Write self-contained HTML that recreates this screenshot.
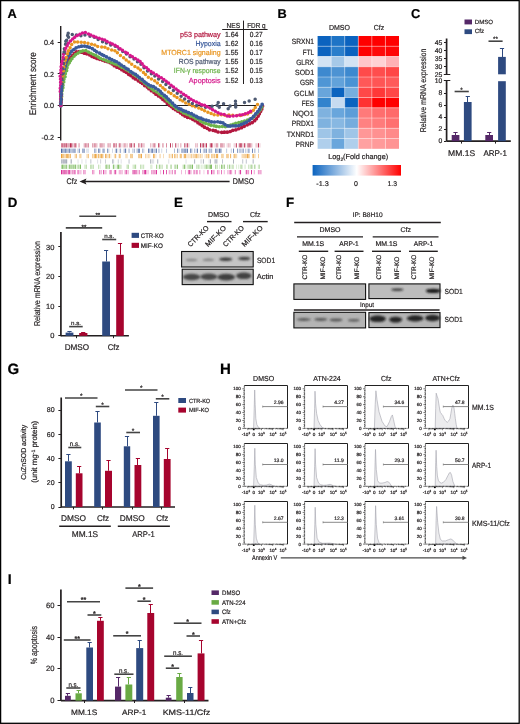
<!DOCTYPE html>
<html><head><meta charset="utf-8"><style>
html,body{margin:0;padding:0;background:#fff;}
body{width:520px;height:724px;overflow:hidden;}
svg{display:block;font-family:"Liberation Sans",sans-serif;will-change:transform;text-rendering:geometricPrecision;}
text{stroke-width:0.2px;}

</style></head><body>
<svg width="520" height="724" viewBox="0 0 520 724">
<rect x="0" y="0" width="520" height="724" fill="#fff"/>
<text x="7.5" y="17.8" font-size="12.8" fill="#000" stroke="#000" font-weight="bold">A</text>
<text x="277.6" y="17.5" font-size="12.8" fill="#000" stroke="#000" font-weight="bold">B</text>
<text x="410.9" y="17.9" font-size="12.8" fill="#000" stroke="#000" font-weight="bold">C</text>
<text x="7.7" y="207.3" font-size="13.3" fill="#000" stroke="#000" font-weight="bold">D</text>
<text x="173.9" y="207.3" font-size="13.3" fill="#000" stroke="#000" font-weight="bold">E</text>
<text x="285.9" y="207.3" font-size="13.3" fill="#000" stroke="#000" font-weight="bold">F</text>
<text x="7.6" y="374.3" font-size="15" fill="#000" stroke="#000" font-weight="bold">G</text>
<text x="220.1" y="374.3" font-size="15" fill="#000" stroke="#000" font-weight="bold">H</text>
<text x="7.8" y="584" font-size="14" fill="#000" stroke="#000" font-weight="bold">I</text>
<line x1="60.7" y1="26" x2="60.7" y2="140.5" stroke="#231f20" stroke-width="1.4"/>
<line x1="57.7" y1="42.5" x2="60.7" y2="42.5" stroke="#231f20" stroke-width="1"/>
<text x="54.1" y="44.9" font-size="7.4" text-anchor="end" fill="#231f20" stroke="#231f20" textLength="10" lengthAdjust="spacingAndGlyphs">0.4</text>
<line x1="57.7" y1="73.5" x2="60.7" y2="73.5" stroke="#231f20" stroke-width="1"/>
<text x="54.1" y="76.5" font-size="7.4" text-anchor="end" fill="#231f20" stroke="#231f20" textLength="10" lengthAdjust="spacingAndGlyphs">0.2</text>
<line x1="57.7" y1="105.5" x2="60.7" y2="105.5" stroke="#231f20" stroke-width="1"/>
<text x="54.1" y="108.1" font-size="7.4" text-anchor="end" fill="#231f20" stroke="#231f20" textLength="10" lengthAdjust="spacingAndGlyphs">0.0</text>
<line x1="57.7" y1="137.5" x2="60.7" y2="137.5" stroke="#231f20" stroke-width="1"/>
<text x="54.1" y="139.7" font-size="7.4" text-anchor="end" fill="#231f20" stroke="#231f20" textLength="12.5" lengthAdjust="spacingAndGlyphs">-0.2</text>
<text x="36" y="83.7" font-size="9.6" text-anchor="middle" fill="#231f20" stroke="#231f20" transform="rotate(-90 36 83.7)" textLength="63" lengthAdjust="spacingAndGlyphs">Enrichment score</text>
<line x1="60.7" y1="105.5" x2="256" y2="105.5" stroke="#231f20" stroke-width="1.2"/>
<path d="M58.74 105.29a1.85 1.85 0 1 0 3.7 0a1.85 1.85 0 1 0 -3.7 0M59.08 102.4a1.85 1.85 0 1 0 3.7 0a1.85 1.85 0 1 0 -3.7 0M59.16 99.37a1.85 1.85 0 1 0 3.7 0a1.85 1.85 0 1 0 -3.7 0M59 96.78a1.85 1.85 0 1 0 3.7 0a1.85 1.85 0 1 0 -3.7 0M59.13 94.03a1.85 1.85 0 1 0 3.7 0a1.85 1.85 0 1 0 -3.7 0M59.34 90.49a1.85 1.85 0 1 0 3.7 0a1.85 1.85 0 1 0 -3.7 0M59.72 88.11a1.85 1.85 0 1 0 3.7 0a1.85 1.85 0 1 0 -3.7 0M59.65 85.1a1.85 1.85 0 1 0 3.7 0a1.85 1.85 0 1 0 -3.7 0M60.12 82.35a1.85 1.85 0 1 0 3.7 0a1.85 1.85 0 1 0 -3.7 0M60.44 78.82a1.85 1.85 0 1 0 3.7 0a1.85 1.85 0 1 0 -3.7 0M61.19 75.94a1.85 1.85 0 1 0 3.7 0a1.85 1.85 0 1 0 -3.7 0M61.87 73.19a1.85 1.85 0 1 0 3.7 0a1.85 1.85 0 1 0 -3.7 0M62.37 70.07a1.85 1.85 0 1 0 3.7 0a1.85 1.85 0 1 0 -3.7 0M63.49 67.56a1.85 1.85 0 1 0 3.7 0a1.85 1.85 0 1 0 -3.7 0M64.43 64.76a1.85 1.85 0 1 0 3.7 0a1.85 1.85 0 1 0 -3.7 0M65.89 61.95a1.85 1.85 0 1 0 3.7 0a1.85 1.85 0 1 0 -3.7 0M67.16 59.41a1.85 1.85 0 1 0 3.7 0a1.85 1.85 0 1 0 -3.7 0M68.45 57.41a1.85 1.85 0 1 0 3.7 0a1.85 1.85 0 1 0 -3.7 0M70.59 55.57a1.85 1.85 0 1 0 3.7 0a1.85 1.85 0 1 0 -3.7 0M72.37 53.66a1.85 1.85 0 1 0 3.7 0a1.85 1.85 0 1 0 -3.7 0M74.54 51.91a1.85 1.85 0 1 0 3.7 0a1.85 1.85 0 1 0 -3.7 0M77.38 51.48a1.85 1.85 0 1 0 3.7 0a1.85 1.85 0 1 0 -3.7 0M79.66 52.12a1.85 1.85 0 1 0 3.7 0a1.85 1.85 0 1 0 -3.7 0M82.43 53.2a1.85 1.85 0 1 0 3.7 0a1.85 1.85 0 1 0 -3.7 0M85.1 53.86a1.85 1.85 0 1 0 3.7 0a1.85 1.85 0 1 0 -3.7 0M87.95 54.9a1.85 1.85 0 1 0 3.7 0a1.85 1.85 0 1 0 -3.7 0M90.21 56.42a1.85 1.85 0 1 0 3.7 0a1.85 1.85 0 1 0 -3.7 0M92.48 57.3a1.85 1.85 0 1 0 3.7 0a1.85 1.85 0 1 0 -3.7 0M95.05 58.45a1.85 1.85 0 1 0 3.7 0a1.85 1.85 0 1 0 -3.7 0M98.04 59.32a1.85 1.85 0 1 0 3.7 0a1.85 1.85 0 1 0 -3.7 0M100.66 60.05a1.85 1.85 0 1 0 3.7 0a1.85 1.85 0 1 0 -3.7 0M103.14 61.07a1.85 1.85 0 1 0 3.7 0a1.85 1.85 0 1 0 -3.7 0M105.73 61.63a1.85 1.85 0 1 0 3.7 0a1.85 1.85 0 1 0 -3.7 0M108.35 62.77a1.85 1.85 0 1 0 3.7 0a1.85 1.85 0 1 0 -3.7 0M110.42 64a1.85 1.85 0 1 0 3.7 0a1.85 1.85 0 1 0 -3.7 0M112.44 65.67a1.85 1.85 0 1 0 3.7 0a1.85 1.85 0 1 0 -3.7 0M115.06 67.23a1.85 1.85 0 1 0 3.7 0a1.85 1.85 0 1 0 -3.7 0M117.64 68.06a1.85 1.85 0 1 0 3.7 0a1.85 1.85 0 1 0 -3.7 0M119.94 69.72a1.85 1.85 0 1 0 3.7 0a1.85 1.85 0 1 0 -3.7 0M122.17 71.11a1.85 1.85 0 1 0 3.7 0a1.85 1.85 0 1 0 -3.7 0M124.45 72.32a1.85 1.85 0 1 0 3.7 0a1.85 1.85 0 1 0 -3.7 0M126.81 74.3a1.85 1.85 0 1 0 3.7 0a1.85 1.85 0 1 0 -3.7 0M129.05 75.54a1.85 1.85 0 1 0 3.7 0a1.85 1.85 0 1 0 -3.7 0M131.44 77.63a1.85 1.85 0 1 0 3.7 0a1.85 1.85 0 1 0 -3.7 0M133.55 78.93a1.85 1.85 0 1 0 3.7 0a1.85 1.85 0 1 0 -3.7 0M136.42 80.84a1.85 1.85 0 1 0 3.7 0a1.85 1.85 0 1 0 -3.7 0M138.77 82.24a1.85 1.85 0 1 0 3.7 0a1.85 1.85 0 1 0 -3.7 0M140.62 83.48a1.85 1.85 0 1 0 3.7 0a1.85 1.85 0 1 0 -3.7 0M142.83 85.61a1.85 1.85 0 1 0 3.7 0a1.85 1.85 0 1 0 -3.7 0M145.42 87.09a1.85 1.85 0 1 0 3.7 0a1.85 1.85 0 1 0 -3.7 0M147.02 88.72a1.85 1.85 0 1 0 3.7 0a1.85 1.85 0 1 0 -3.7 0M149.52 90.72a1.85 1.85 0 1 0 3.7 0a1.85 1.85 0 1 0 -3.7 0M152.24 92.45a1.85 1.85 0 1 0 3.7 0a1.85 1.85 0 1 0 -3.7 0M154.05 94.15a1.85 1.85 0 1 0 3.7 0a1.85 1.85 0 1 0 -3.7 0M156.62 95.95a1.85 1.85 0 1 0 3.7 0a1.85 1.85 0 1 0 -3.7 0M159.16 97.62a1.85 1.85 0 1 0 3.7 0a1.85 1.85 0 1 0 -3.7 0M161.08 99.38a1.85 1.85 0 1 0 3.7 0a1.85 1.85 0 1 0 -3.7 0M163.14 101a1.85 1.85 0 1 0 3.7 0a1.85 1.85 0 1 0 -3.7 0M165.36 103.33a1.85 1.85 0 1 0 3.7 0a1.85 1.85 0 1 0 -3.7 0M167.62 105.21a1.85 1.85 0 1 0 3.7 0a1.85 1.85 0 1 0 -3.7 0M169.4 106.6a1.85 1.85 0 1 0 3.7 0a1.85 1.85 0 1 0 -3.7 0M171.51 108.43a1.85 1.85 0 1 0 3.7 0a1.85 1.85 0 1 0 -3.7 0M173.76 109.69a1.85 1.85 0 1 0 3.7 0a1.85 1.85 0 1 0 -3.7 0M176 111.22a1.85 1.85 0 1 0 3.7 0a1.85 1.85 0 1 0 -3.7 0M178.49 112.85a1.85 1.85 0 1 0 3.7 0a1.85 1.85 0 1 0 -3.7 0M180.78 114.59a1.85 1.85 0 1 0 3.7 0a1.85 1.85 0 1 0 -3.7 0M183.13 116.03a1.85 1.85 0 1 0 3.7 0a1.85 1.85 0 1 0 -3.7 0M185.64 117.3a1.85 1.85 0 1 0 3.7 0a1.85 1.85 0 1 0 -3.7 0M188.62 117.89a1.85 1.85 0 1 0 3.7 0a1.85 1.85 0 1 0 -3.7 0M190.91 119.36a1.85 1.85 0 1 0 3.7 0a1.85 1.85 0 1 0 -3.7 0M193.37 120.64a1.85 1.85 0 1 0 3.7 0a1.85 1.85 0 1 0 -3.7 0M196.09 122.67a1.85 1.85 0 1 0 3.7 0a1.85 1.85 0 1 0 -3.7 0M198.11 124a1.85 1.85 0 1 0 3.7 0a1.85 1.85 0 1 0 -3.7 0M200.34 125.61a1.85 1.85 0 1 0 3.7 0a1.85 1.85 0 1 0 -3.7 0M202.67 127.15a1.85 1.85 0 1 0 3.7 0a1.85 1.85 0 1 0 -3.7 0M205.39 128.33a1.85 1.85 0 1 0 3.7 0a1.85 1.85 0 1 0 -3.7 0M207.69 129.84a1.85 1.85 0 1 0 3.7 0a1.85 1.85 0 1 0 -3.7 0M211.17 130.33a1.85 1.85 0 1 0 3.7 0a1.85 1.85 0 1 0 -3.7 0M213.71 130.9a1.85 1.85 0 1 0 3.7 0a1.85 1.85 0 1 0 -3.7 0M216.27 132.01a1.85 1.85 0 1 0 3.7 0a1.85 1.85 0 1 0 -3.7 0M219.82 132.3a1.85 1.85 0 1 0 3.7 0a1.85 1.85 0 1 0 -3.7 0M222.55 132.21a1.85 1.85 0 1 0 3.7 0a1.85 1.85 0 1 0 -3.7 0M225.38 132.13a1.85 1.85 0 1 0 3.7 0a1.85 1.85 0 1 0 -3.7 0M228.38 131.5a1.85 1.85 0 1 0 3.7 0a1.85 1.85 0 1 0 -3.7 0M230.98 130.31a1.85 1.85 0 1 0 3.7 0a1.85 1.85 0 1 0 -3.7 0M233.98 129.81a1.85 1.85 0 1 0 3.7 0a1.85 1.85 0 1 0 -3.7 0M236.76 128.75a1.85 1.85 0 1 0 3.7 0a1.85 1.85 0 1 0 -3.7 0M239.69 127.65a1.85 1.85 0 1 0 3.7 0a1.85 1.85 0 1 0 -3.7 0M242.37 126.35a1.85 1.85 0 1 0 3.7 0a1.85 1.85 0 1 0 -3.7 0M245.35 124.83a1.85 1.85 0 1 0 3.7 0a1.85 1.85 0 1 0 -3.7 0M247.75 123.75a1.85 1.85 0 1 0 3.7 0a1.85 1.85 0 1 0 -3.7 0M250.4 122.54a1.85 1.85 0 1 0 3.7 0a1.85 1.85 0 1 0 -3.7 0M252.8 120.69a1.85 1.85 0 1 0 3.7 0a1.85 1.85 0 1 0 -3.7 0M254.55 118.74a1.85 1.85 0 1 0 3.7 0a1.85 1.85 0 1 0 -3.7 0M256.33 116.07a1.85 1.85 0 1 0 3.7 0a1.85 1.85 0 1 0 -3.7 0M257.5 113.68a1.85 1.85 0 1 0 3.7 0a1.85 1.85 0 1 0 -3.7 0M258.77 111.32a1.85 1.85 0 1 0 3.7 0a1.85 1.85 0 1 0 -3.7 0M259.94 109.07a1.85 1.85 0 1 0 3.7 0a1.85 1.85 0 1 0 -3.7 0M260.71 106.06a1.85 1.85 0 1 0 3.7 0a1.85 1.85 0 1 0 -3.7 0" fill="#b3173f"/>
<path d="M58.99 105.68a1.8 1.8 0 1 0 3.6 0a1.8 1.8 0 1 0 -3.6 0M58.91 102.55a1.8 1.8 0 1 0 3.6 0a1.8 1.8 0 1 0 -3.6 0M59.64 99.79a1.8 1.8 0 1 0 3.6 0a1.8 1.8 0 1 0 -3.6 0M59.83 96.5a1.8 1.8 0 1 0 3.6 0a1.8 1.8 0 1 0 -3.6 0M59.82 93.6a1.8 1.8 0 1 0 3.6 0a1.8 1.8 0 1 0 -3.6 0M60.29 90.8a1.8 1.8 0 1 0 3.6 0a1.8 1.8 0 1 0 -3.6 0M61.1 87.77a1.8 1.8 0 1 0 3.6 0a1.8 1.8 0 1 0 -3.6 0M61.23 85.29a1.8 1.8 0 1 0 3.6 0a1.8 1.8 0 1 0 -3.6 0M61.94 82a1.8 1.8 0 1 0 3.6 0a1.8 1.8 0 1 0 -3.6 0M62.16 79.18a1.8 1.8 0 1 0 3.6 0a1.8 1.8 0 1 0 -3.6 0M63.27 76.76a1.8 1.8 0 1 0 3.6 0a1.8 1.8 0 1 0 -3.6 0M63.53 73.82a1.8 1.8 0 1 0 3.6 0a1.8 1.8 0 1 0 -3.6 0M64.81 70.75a1.8 1.8 0 1 0 3.6 0a1.8 1.8 0 1 0 -3.6 0M65.24 67.86a1.8 1.8 0 1 0 3.6 0a1.8 1.8 0 1 0 -3.6 0M65.95 65.01a1.8 1.8 0 1 0 3.6 0a1.8 1.8 0 1 0 -3.6 0M67.52 62.86a1.8 1.8 0 1 0 3.6 0a1.8 1.8 0 1 0 -3.6 0M68.57 60.76a1.8 1.8 0 1 0 3.6 0a1.8 1.8 0 1 0 -3.6 0M70.15 58.65a1.8 1.8 0 1 0 3.6 0a1.8 1.8 0 1 0 -3.6 0M72.2 56.29a1.8 1.8 0 1 0 3.6 0a1.8 1.8 0 1 0 -3.6 0M73.88 54.59a1.8 1.8 0 1 0 3.6 0a1.8 1.8 0 1 0 -3.6 0M76.26 53.11a1.8 1.8 0 1 0 3.6 0a1.8 1.8 0 1 0 -3.6 0M78.57 51.65a1.8 1.8 0 1 0 3.6 0a1.8 1.8 0 1 0 -3.6 0M81.05 50.84a1.8 1.8 0 1 0 3.6 0a1.8 1.8 0 1 0 -3.6 0M84 50.57a1.8 1.8 0 1 0 3.6 0a1.8 1.8 0 1 0 -3.6 0M86.64 51.94a1.8 1.8 0 1 0 3.6 0a1.8 1.8 0 1 0 -3.6 0M89.17 53.32a1.8 1.8 0 1 0 3.6 0a1.8 1.8 0 1 0 -3.6 0M91.58 54.45a1.8 1.8 0 1 0 3.6 0a1.8 1.8 0 1 0 -3.6 0M94.11 55.64a1.8 1.8 0 1 0 3.6 0a1.8 1.8 0 1 0 -3.6 0M96.56 57.11a1.8 1.8 0 1 0 3.6 0a1.8 1.8 0 1 0 -3.6 0M98.7 58.61a1.8 1.8 0 1 0 3.6 0a1.8 1.8 0 1 0 -3.6 0M101.59 59.61a1.8 1.8 0 1 0 3.6 0a1.8 1.8 0 1 0 -3.6 0M104.41 60.66a1.8 1.8 0 1 0 3.6 0a1.8 1.8 0 1 0 -3.6 0M106.82 61.64a1.8 1.8 0 1 0 3.6 0a1.8 1.8 0 1 0 -3.6 0M109.73 62.75a1.8 1.8 0 1 0 3.6 0a1.8 1.8 0 1 0 -3.6 0M112.27 63.65a1.8 1.8 0 1 0 3.6 0a1.8 1.8 0 1 0 -3.6 0M115.16 64.72a1.8 1.8 0 1 0 3.6 0a1.8 1.8 0 1 0 -3.6 0M117.89 66.06a1.8 1.8 0 1 0 3.6 0a1.8 1.8 0 1 0 -3.6 0M120.15 67.48a1.8 1.8 0 1 0 3.6 0a1.8 1.8 0 1 0 -3.6 0M123.03 68.74a1.8 1.8 0 1 0 3.6 0a1.8 1.8 0 1 0 -3.6 0M125.18 70.04a1.8 1.8 0 1 0 3.6 0a1.8 1.8 0 1 0 -3.6 0M127.53 71.48a1.8 1.8 0 1 0 3.6 0a1.8 1.8 0 1 0 -3.6 0M129.83 72.8a1.8 1.8 0 1 0 3.6 0a1.8 1.8 0 1 0 -3.6 0M132.2 74.63a1.8 1.8 0 1 0 3.6 0a1.8 1.8 0 1 0 -3.6 0M134.64 76.29a1.8 1.8 0 1 0 3.6 0a1.8 1.8 0 1 0 -3.6 0M136.89 77.56a1.8 1.8 0 1 0 3.6 0a1.8 1.8 0 1 0 -3.6 0M138.96 79.88a1.8 1.8 0 1 0 3.6 0a1.8 1.8 0 1 0 -3.6 0M141.15 81.16a1.8 1.8 0 1 0 3.6 0a1.8 1.8 0 1 0 -3.6 0M142.82 83.17a1.8 1.8 0 1 0 3.6 0a1.8 1.8 0 1 0 -3.6 0M144.94 84.84a1.8 1.8 0 1 0 3.6 0a1.8 1.8 0 1 0 -3.6 0M147.25 86.93a1.8 1.8 0 1 0 3.6 0a1.8 1.8 0 1 0 -3.6 0M150.12 88.96a1.8 1.8 0 1 0 3.6 0a1.8 1.8 0 1 0 -3.6 0M152.11 90.63a1.8 1.8 0 1 0 3.6 0a1.8 1.8 0 1 0 -3.6 0M154.86 92.04a1.8 1.8 0 1 0 3.6 0a1.8 1.8 0 1 0 -3.6 0M157.43 93.93a1.8 1.8 0 1 0 3.6 0a1.8 1.8 0 1 0 -3.6 0M159.44 95.32a1.8 1.8 0 1 0 3.6 0a1.8 1.8 0 1 0 -3.6 0M161.68 96.88a1.8 1.8 0 1 0 3.6 0a1.8 1.8 0 1 0 -3.6 0M163.93 99.02a1.8 1.8 0 1 0 3.6 0a1.8 1.8 0 1 0 -3.6 0M165.43 100.84a1.8 1.8 0 1 0 3.6 0a1.8 1.8 0 1 0 -3.6 0M167.79 102.82a1.8 1.8 0 1 0 3.6 0a1.8 1.8 0 1 0 -3.6 0M169.82 104.92a1.8 1.8 0 1 0 3.6 0a1.8 1.8 0 1 0 -3.6 0M172.13 106.51a1.8 1.8 0 1 0 3.6 0a1.8 1.8 0 1 0 -3.6 0M174.25 108.44a1.8 1.8 0 1 0 3.6 0a1.8 1.8 0 1 0 -3.6 0M176.49 109.93a1.8 1.8 0 1 0 3.6 0a1.8 1.8 0 1 0 -3.6 0M179.71 111.49a1.8 1.8 0 1 0 3.6 0a1.8 1.8 0 1 0 -3.6 0M181.77 112.9a1.8 1.8 0 1 0 3.6 0a1.8 1.8 0 1 0 -3.6 0M184.61 114.02a1.8 1.8 0 1 0 3.6 0a1.8 1.8 0 1 0 -3.6 0M186.55 114.75a1.8 1.8 0 1 0 3.6 0a1.8 1.8 0 1 0 -3.6 0M188.93 116.27a1.8 1.8 0 1 0 3.6 0a1.8 1.8 0 1 0 -3.6 0M191.54 117.12a1.8 1.8 0 1 0 3.6 0a1.8 1.8 0 1 0 -3.6 0M194.04 118.79a1.8 1.8 0 1 0 3.6 0a1.8 1.8 0 1 0 -3.6 0M197.02 119.77a1.8 1.8 0 1 0 3.6 0a1.8 1.8 0 1 0 -3.6 0M199.18 121.5a1.8 1.8 0 1 0 3.6 0a1.8 1.8 0 1 0 -3.6 0M201.8 122.73a1.8 1.8 0 1 0 3.6 0a1.8 1.8 0 1 0 -3.6 0M203.99 123.38a1.8 1.8 0 1 0 3.6 0a1.8 1.8 0 1 0 -3.6 0M207.01 124.39a1.8 1.8 0 1 0 3.6 0a1.8 1.8 0 1 0 -3.6 0M209.21 125.35a1.8 1.8 0 1 0 3.6 0a1.8 1.8 0 1 0 -3.6 0M212.26 125.86a1.8 1.8 0 1 0 3.6 0a1.8 1.8 0 1 0 -3.6 0M214.58 126.39a1.8 1.8 0 1 0 3.6 0a1.8 1.8 0 1 0 -3.6 0M217.47 126.77a1.8 1.8 0 1 0 3.6 0a1.8 1.8 0 1 0 -3.6 0M220.55 126.56a1.8 1.8 0 1 0 3.6 0a1.8 1.8 0 1 0 -3.6 0M223.59 126.69a1.8 1.8 0 1 0 3.6 0a1.8 1.8 0 1 0 -3.6 0M226.06 125.78a1.8 1.8 0 1 0 3.6 0a1.8 1.8 0 1 0 -3.6 0M228.95 125.17a1.8 1.8 0 1 0 3.6 0a1.8 1.8 0 1 0 -3.6 0M231.46 124.22a1.8 1.8 0 1 0 3.6 0a1.8 1.8 0 1 0 -3.6 0M233.95 123.38a1.8 1.8 0 1 0 3.6 0a1.8 1.8 0 1 0 -3.6 0M237.02 122.52a1.8 1.8 0 1 0 3.6 0a1.8 1.8 0 1 0 -3.6 0M240.04 121.79a1.8 1.8 0 1 0 3.6 0a1.8 1.8 0 1 0 -3.6 0M242.83 120.96a1.8 1.8 0 1 0 3.6 0a1.8 1.8 0 1 0 -3.6 0M245.67 119.98a1.8 1.8 0 1 0 3.6 0a1.8 1.8 0 1 0 -3.6 0M248.33 118.87a1.8 1.8 0 1 0 3.6 0a1.8 1.8 0 1 0 -3.6 0M250.99 117.76a1.8 1.8 0 1 0 3.6 0a1.8 1.8 0 1 0 -3.6 0M252.89 115.81a1.8 1.8 0 1 0 3.6 0a1.8 1.8 0 1 0 -3.6 0M255.4 113.45a1.8 1.8 0 1 0 3.6 0a1.8 1.8 0 1 0 -3.6 0M257.14 111.53a1.8 1.8 0 1 0 3.6 0a1.8 1.8 0 1 0 -3.6 0M258.72 109.55a1.8 1.8 0 1 0 3.6 0a1.8 1.8 0 1 0 -3.6 0M260.06 107a1.8 1.8 0 1 0 3.6 0a1.8 1.8 0 1 0 -3.6 0" fill="#6db34b"/>
<path d="M58.96 105.79a1.85 1.85 0 1 0 3.7 0a1.85 1.85 0 1 0 -3.7 0M58.84 102.42a1.85 1.85 0 1 0 3.7 0a1.85 1.85 0 1 0 -3.7 0M59.14 98.84a1.85 1.85 0 1 0 3.7 0a1.85 1.85 0 1 0 -3.7 0M59.05 94.73a1.85 1.85 0 1 0 3.7 0a1.85 1.85 0 1 0 -3.7 0M58.92 91.88a1.85 1.85 0 1 0 3.7 0a1.85 1.85 0 1 0 -3.7 0M59.02 89.57a1.85 1.85 0 1 0 3.7 0a1.85 1.85 0 1 0 -3.7 0M59.29 85.52a1.85 1.85 0 1 0 3.7 0a1.85 1.85 0 1 0 -3.7 0M59.4 82.9a1.85 1.85 0 1 0 3.7 0a1.85 1.85 0 1 0 -3.7 0M60.22 79.8a1.85 1.85 0 1 0 3.7 0a1.85 1.85 0 1 0 -3.7 0M60.39 76.67a1.85 1.85 0 1 0 3.7 0a1.85 1.85 0 1 0 -3.7 0M61.14 73.87a1.85 1.85 0 1 0 3.7 0a1.85 1.85 0 1 0 -3.7 0M61.74 71.17a1.85 1.85 0 1 0 3.7 0a1.85 1.85 0 1 0 -3.7 0M62.42 68.9a1.85 1.85 0 1 0 3.7 0a1.85 1.85 0 1 0 -3.7 0M63.51 65.9a1.85 1.85 0 1 0 3.7 0a1.85 1.85 0 1 0 -3.7 0M63.78 63.42a1.85 1.85 0 1 0 3.7 0a1.85 1.85 0 1 0 -3.7 0M64.53 60.53a1.85 1.85 0 1 0 3.7 0a1.85 1.85 0 1 0 -3.7 0M65.22 57.98a1.85 1.85 0 1 0 3.7 0a1.85 1.85 0 1 0 -3.7 0M66.67 55.6a1.85 1.85 0 1 0 3.7 0a1.85 1.85 0 1 0 -3.7 0M68.09 53.41a1.85 1.85 0 1 0 3.7 0a1.85 1.85 0 1 0 -3.7 0M69.82 51.18a1.85 1.85 0 1 0 3.7 0a1.85 1.85 0 1 0 -3.7 0M71.95 49.49a1.85 1.85 0 1 0 3.7 0a1.85 1.85 0 1 0 -3.7 0M74.24 47.79a1.85 1.85 0 1 0 3.7 0a1.85 1.85 0 1 0 -3.7 0M76.99 46.74a1.85 1.85 0 1 0 3.7 0a1.85 1.85 0 1 0 -3.7 0M79.77 46.2a1.85 1.85 0 1 0 3.7 0a1.85 1.85 0 1 0 -3.7 0M82.69 46.03a1.85 1.85 0 1 0 3.7 0a1.85 1.85 0 1 0 -3.7 0M85.4 46.62a1.85 1.85 0 1 0 3.7 0a1.85 1.85 0 1 0 -3.7 0M87.6 47.32a1.85 1.85 0 1 0 3.7 0a1.85 1.85 0 1 0 -3.7 0M90.47 48.6a1.85 1.85 0 1 0 3.7 0a1.85 1.85 0 1 0 -3.7 0M92.78 50.27a1.85 1.85 0 1 0 3.7 0a1.85 1.85 0 1 0 -3.7 0M94.79 51.79a1.85 1.85 0 1 0 3.7 0a1.85 1.85 0 1 0 -3.7 0M97.71 53.1a1.85 1.85 0 1 0 3.7 0a1.85 1.85 0 1 0 -3.7 0M100.01 54.53a1.85 1.85 0 1 0 3.7 0a1.85 1.85 0 1 0 -3.7 0M102 55.55a1.85 1.85 0 1 0 3.7 0a1.85 1.85 0 1 0 -3.7 0M104.65 56.94a1.85 1.85 0 1 0 3.7 0a1.85 1.85 0 1 0 -3.7 0M107.53 58.31a1.85 1.85 0 1 0 3.7 0a1.85 1.85 0 1 0 -3.7 0M109.98 59.65a1.85 1.85 0 1 0 3.7 0a1.85 1.85 0 1 0 -3.7 0M112.56 60.82a1.85 1.85 0 1 0 3.7 0a1.85 1.85 0 1 0 -3.7 0M114.77 61.74a1.85 1.85 0 1 0 3.7 0a1.85 1.85 0 1 0 -3.7 0M117.18 63.3a1.85 1.85 0 1 0 3.7 0a1.85 1.85 0 1 0 -3.7 0M119.41 65a1.85 1.85 0 1 0 3.7 0a1.85 1.85 0 1 0 -3.7 0M122.04 66.58a1.85 1.85 0 1 0 3.7 0a1.85 1.85 0 1 0 -3.7 0M124.23 68.26a1.85 1.85 0 1 0 3.7 0a1.85 1.85 0 1 0 -3.7 0M126.29 69.45a1.85 1.85 0 1 0 3.7 0a1.85 1.85 0 1 0 -3.7 0M128.91 71.55a1.85 1.85 0 1 0 3.7 0a1.85 1.85 0 1 0 -3.7 0M131.14 72.99a1.85 1.85 0 1 0 3.7 0a1.85 1.85 0 1 0 -3.7 0M133.65 74.34a1.85 1.85 0 1 0 3.7 0a1.85 1.85 0 1 0 -3.7 0M135.8 75.99a1.85 1.85 0 1 0 3.7 0a1.85 1.85 0 1 0 -3.7 0M137.52 77.59a1.85 1.85 0 1 0 3.7 0a1.85 1.85 0 1 0 -3.7 0M140.27 79.38a1.85 1.85 0 1 0 3.7 0a1.85 1.85 0 1 0 -3.7 0M142.31 81.53a1.85 1.85 0 1 0 3.7 0a1.85 1.85 0 1 0 -3.7 0M144.29 83.01a1.85 1.85 0 1 0 3.7 0a1.85 1.85 0 1 0 -3.7 0M146.49 84.72a1.85 1.85 0 1 0 3.7 0a1.85 1.85 0 1 0 -3.7 0M149.05 85.88a1.85 1.85 0 1 0 3.7 0a1.85 1.85 0 1 0 -3.7 0M151.57 86.71a1.85 1.85 0 1 0 3.7 0a1.85 1.85 0 1 0 -3.7 0M153.76 88.11a1.85 1.85 0 1 0 3.7 0a1.85 1.85 0 1 0 -3.7 0M156.34 89.73a1.85 1.85 0 1 0 3.7 0a1.85 1.85 0 1 0 -3.7 0M158.35 91.35a1.85 1.85 0 1 0 3.7 0a1.85 1.85 0 1 0 -3.7 0M159.99 93.27a1.85 1.85 0 1 0 3.7 0a1.85 1.85 0 1 0 -3.7 0M162.53 95.44a1.85 1.85 0 1 0 3.7 0a1.85 1.85 0 1 0 -3.7 0M164.48 96.97a1.85 1.85 0 1 0 3.7 0a1.85 1.85 0 1 0 -3.7 0M166.44 99.05a1.85 1.85 0 1 0 3.7 0a1.85 1.85 0 1 0 -3.7 0M168.33 100.84a1.85 1.85 0 1 0 3.7 0a1.85 1.85 0 1 0 -3.7 0M170.63 103a1.85 1.85 0 1 0 3.7 0a1.85 1.85 0 1 0 -3.7 0M172.64 105.26a1.85 1.85 0 1 0 3.7 0a1.85 1.85 0 1 0 -3.7 0M174.33 106.7a1.85 1.85 0 1 0 3.7 0a1.85 1.85 0 1 0 -3.7 0M177.05 108.38a1.85 1.85 0 1 0 3.7 0a1.85 1.85 0 1 0 -3.7 0M179.21 109.2a1.85 1.85 0 1 0 3.7 0a1.85 1.85 0 1 0 -3.7 0M181.48 110.66a1.85 1.85 0 1 0 3.7 0a1.85 1.85 0 1 0 -3.7 0M184 111.48a1.85 1.85 0 1 0 3.7 0a1.85 1.85 0 1 0 -3.7 0M186.67 112.66a1.85 1.85 0 1 0 3.7 0a1.85 1.85 0 1 0 -3.7 0M189.58 113.66a1.85 1.85 0 1 0 3.7 0a1.85 1.85 0 1 0 -3.7 0M191.89 115.11a1.85 1.85 0 1 0 3.7 0a1.85 1.85 0 1 0 -3.7 0M194.53 116.45a1.85 1.85 0 1 0 3.7 0a1.85 1.85 0 1 0 -3.7 0M196.51 117.64a1.85 1.85 0 1 0 3.7 0a1.85 1.85 0 1 0 -3.7 0M199.1 118.14a1.85 1.85 0 1 0 3.7 0a1.85 1.85 0 1 0 -3.7 0M201.26 119.34a1.85 1.85 0 1 0 3.7 0a1.85 1.85 0 1 0 -3.7 0M204.29 120.14a1.85 1.85 0 1 0 3.7 0a1.85 1.85 0 1 0 -3.7 0M206.93 120.95a1.85 1.85 0 1 0 3.7 0a1.85 1.85 0 1 0 -3.7 0M209.71 121.78a1.85 1.85 0 1 0 3.7 0a1.85 1.85 0 1 0 -3.7 0M212.63 122a1.85 1.85 0 1 0 3.7 0a1.85 1.85 0 1 0 -3.7 0M215.87 121.75a1.85 1.85 0 1 0 3.7 0a1.85 1.85 0 1 0 -3.7 0M218.52 122.35a1.85 1.85 0 1 0 3.7 0a1.85 1.85 0 1 0 -3.7 0M221.05 122.81a1.85 1.85 0 1 0 3.7 0a1.85 1.85 0 1 0 -3.7 0M223.14 124.58a1.85 1.85 0 1 0 3.7 0a1.85 1.85 0 1 0 -3.7 0M225.99 125.91a1.85 1.85 0 1 0 3.7 0a1.85 1.85 0 1 0 -3.7 0M228.29 126.04a1.85 1.85 0 1 0 3.7 0a1.85 1.85 0 1 0 -3.7 0M230.93 125.75a1.85 1.85 0 1 0 3.7 0a1.85 1.85 0 1 0 -3.7 0M233.78 125.94a1.85 1.85 0 1 0 3.7 0a1.85 1.85 0 1 0 -3.7 0M236.87 125.49a1.85 1.85 0 1 0 3.7 0a1.85 1.85 0 1 0 -3.7 0M239.65 124.3a1.85 1.85 0 1 0 3.7 0a1.85 1.85 0 1 0 -3.7 0M242.35 123.14a1.85 1.85 0 1 0 3.7 0a1.85 1.85 0 1 0 -3.7 0M244.75 122.11a1.85 1.85 0 1 0 3.7 0a1.85 1.85 0 1 0 -3.7 0M247.44 120.29a1.85 1.85 0 1 0 3.7 0a1.85 1.85 0 1 0 -3.7 0M249.52 118.5a1.85 1.85 0 1 0 3.7 0a1.85 1.85 0 1 0 -3.7 0M251.74 116.47a1.85 1.85 0 1 0 3.7 0a1.85 1.85 0 1 0 -3.7 0M253.86 113.88a1.85 1.85 0 1 0 3.7 0a1.85 1.85 0 1 0 -3.7 0M255.87 111.64a1.85 1.85 0 1 0 3.7 0a1.85 1.85 0 1 0 -3.7 0M257.57 109.37a1.85 1.85 0 1 0 3.7 0a1.85 1.85 0 1 0 -3.7 0M258.82 106.73a1.85 1.85 0 1 0 3.7 0a1.85 1.85 0 1 0 -3.7 0M260.31 104.37a1.85 1.85 0 1 0 3.7 0a1.85 1.85 0 1 0 -3.7 0" fill="#3a5a9b"/>
<path d="M58.93 105.41a1.75 1.75 0 1 0 3.5 0a1.75 1.75 0 1 0 -3.5 0M58.99 101.54a1.75 1.75 0 1 0 3.5 0a1.75 1.75 0 1 0 -3.5 0M59.55 97.42a1.75 1.75 0 1 0 3.5 0a1.75 1.75 0 1 0 -3.5 0M59.54 93.35a1.75 1.75 0 1 0 3.5 0a1.75 1.75 0 1 0 -3.5 0M59.68 89.58a1.75 1.75 0 1 0 3.5 0a1.75 1.75 0 1 0 -3.5 0M59.71 85.59a1.75 1.75 0 1 0 3.5 0a1.75 1.75 0 1 0 -3.5 0M60.02 82.67a1.75 1.75 0 1 0 3.5 0a1.75 1.75 0 1 0 -3.5 0M60.58 78.52a1.75 1.75 0 1 0 3.5 0a1.75 1.75 0 1 0 -3.5 0M61.29 75.3a1.75 1.75 0 1 0 3.5 0a1.75 1.75 0 1 0 -3.5 0M61.58 71.02a1.75 1.75 0 1 0 3.5 0a1.75 1.75 0 1 0 -3.5 0M62.07 67.3a1.75 1.75 0 1 0 3.5 0a1.75 1.75 0 1 0 -3.5 0M62.83 63.84a1.75 1.75 0 1 0 3.5 0a1.75 1.75 0 1 0 -3.5 0M63.53 60.3a1.75 1.75 0 1 0 3.5 0a1.75 1.75 0 1 0 -3.5 0M64.48 57.41a1.75 1.75 0 1 0 3.5 0a1.75 1.75 0 1 0 -3.5 0M65.6 53.75a1.75 1.75 0 1 0 3.5 0a1.75 1.75 0 1 0 -3.5 0M66.71 50.78a1.75 1.75 0 1 0 3.5 0a1.75 1.75 0 1 0 -3.5 0M68.34 47.69a1.75 1.75 0 1 0 3.5 0a1.75 1.75 0 1 0 -3.5 0M69.93 44.54a1.75 1.75 0 1 0 3.5 0a1.75 1.75 0 1 0 -3.5 0M72.73 42.08a1.75 1.75 0 1 0 3.5 0a1.75 1.75 0 1 0 -3.5 0M75.91 42.04a1.75 1.75 0 1 0 3.5 0a1.75 1.75 0 1 0 -3.5 0M79.47 42.13a1.75 1.75 0 1 0 3.5 0a1.75 1.75 0 1 0 -3.5 0M82.79 42.55a1.75 1.75 0 1 0 3.5 0a1.75 1.75 0 1 0 -3.5 0M86.22 43.22a1.75 1.75 0 1 0 3.5 0a1.75 1.75 0 1 0 -3.5 0M89.82 44.34a1.75 1.75 0 1 0 3.5 0a1.75 1.75 0 1 0 -3.5 0M93.05 45.07a1.75 1.75 0 1 0 3.5 0a1.75 1.75 0 1 0 -3.5 0M95.98 46.39a1.75 1.75 0 1 0 3.5 0a1.75 1.75 0 1 0 -3.5 0M99.94 46.91a1.75 1.75 0 1 0 3.5 0a1.75 1.75 0 1 0 -3.5 0M103.18 47.37a1.75 1.75 0 1 0 3.5 0a1.75 1.75 0 1 0 -3.5 0M106.25 48.82a1.75 1.75 0 1 0 3.5 0a1.75 1.75 0 1 0 -3.5 0M109.9 49.89a1.75 1.75 0 1 0 3.5 0a1.75 1.75 0 1 0 -3.5 0M113.18 50.73a1.75 1.75 0 1 0 3.5 0a1.75 1.75 0 1 0 -3.5 0M115.63 52.63a1.75 1.75 0 1 0 3.5 0a1.75 1.75 0 1 0 -3.5 0M118.65 55.4a1.75 1.75 0 1 0 3.5 0a1.75 1.75 0 1 0 -3.5 0M121.87 57.78a1.75 1.75 0 1 0 3.5 0a1.75 1.75 0 1 0 -3.5 0M124.44 59.92a1.75 1.75 0 1 0 3.5 0a1.75 1.75 0 1 0 -3.5 0M127.2 61.98a1.75 1.75 0 1 0 3.5 0a1.75 1.75 0 1 0 -3.5 0M129.97 64.37a1.75 1.75 0 1 0 3.5 0a1.75 1.75 0 1 0 -3.5 0M133.12 66.53a1.75 1.75 0 1 0 3.5 0a1.75 1.75 0 1 0 -3.5 0M136.21 68.02a1.75 1.75 0 1 0 3.5 0a1.75 1.75 0 1 0 -3.5 0M138.72 70.09a1.75 1.75 0 1 0 3.5 0a1.75 1.75 0 1 0 -3.5 0M141.67 72.53a1.75 1.75 0 1 0 3.5 0a1.75 1.75 0 1 0 -3.5 0M143.79 74.49a1.75 1.75 0 1 0 3.5 0a1.75 1.75 0 1 0 -3.5 0M146.57 77.27a1.75 1.75 0 1 0 3.5 0a1.75 1.75 0 1 0 -3.5 0M149.68 79.01a1.75 1.75 0 1 0 3.5 0a1.75 1.75 0 1 0 -3.5 0M152.95 80.75a1.75 1.75 0 1 0 3.5 0a1.75 1.75 0 1 0 -3.5 0M155.63 83.12a1.75 1.75 0 1 0 3.5 0a1.75 1.75 0 1 0 -3.5 0M158.54 85.59a1.75 1.75 0 1 0 3.5 0a1.75 1.75 0 1 0 -3.5 0M161.11 87.79a1.75 1.75 0 1 0 3.5 0a1.75 1.75 0 1 0 -3.5 0M163.35 89.65a1.75 1.75 0 1 0 3.5 0a1.75 1.75 0 1 0 -3.5 0M166.72 92.01a1.75 1.75 0 1 0 3.5 0a1.75 1.75 0 1 0 -3.5 0M169.25 93.45a1.75 1.75 0 1 0 3.5 0a1.75 1.75 0 1 0 -3.5 0M172.45 95.7a1.75 1.75 0 1 0 3.5 0a1.75 1.75 0 1 0 -3.5 0M175.3 97.46a1.75 1.75 0 1 0 3.5 0a1.75 1.75 0 1 0 -3.5 0M178.35 99.86a1.75 1.75 0 1 0 3.5 0a1.75 1.75 0 1 0 -3.5 0M180.99 101.12a1.75 1.75 0 1 0 3.5 0a1.75 1.75 0 1 0 -3.5 0M183.95 102.95a1.75 1.75 0 1 0 3.5 0a1.75 1.75 0 1 0 -3.5 0M187.29 104.2a1.75 1.75 0 1 0 3.5 0a1.75 1.75 0 1 0 -3.5 0M190.5 105.78a1.75 1.75 0 1 0 3.5 0a1.75 1.75 0 1 0 -3.5 0M193.53 106.72a1.75 1.75 0 1 0 3.5 0a1.75 1.75 0 1 0 -3.5 0M196.98 108.05a1.75 1.75 0 1 0 3.5 0a1.75 1.75 0 1 0 -3.5 0M200.01 109.26a1.75 1.75 0 1 0 3.5 0a1.75 1.75 0 1 0 -3.5 0M202.85 110.85a1.75 1.75 0 1 0 3.5 0a1.75 1.75 0 1 0 -3.5 0M206.12 112.23a1.75 1.75 0 1 0 3.5 0a1.75 1.75 0 1 0 -3.5 0M209.33 113.39a1.75 1.75 0 1 0 3.5 0a1.75 1.75 0 1 0 -3.5 0M212.43 114.69a1.75 1.75 0 1 0 3.5 0a1.75 1.75 0 1 0 -3.5 0M216.04 115.05a1.75 1.75 0 1 0 3.5 0a1.75 1.75 0 1 0 -3.5 0M219.61 114.78a1.75 1.75 0 1 0 3.5 0a1.75 1.75 0 1 0 -3.5 0M223.2 115.29a1.75 1.75 0 1 0 3.5 0a1.75 1.75 0 1 0 -3.5 0M227.16 114.91a1.75 1.75 0 1 0 3.5 0a1.75 1.75 0 1 0 -3.5 0M230.97 115.23a1.75 1.75 0 1 0 3.5 0a1.75 1.75 0 1 0 -3.5 0M235.27 115.5a1.75 1.75 0 1 0 3.5 0a1.75 1.75 0 1 0 -3.5 0M238.9 115.39a1.75 1.75 0 1 0 3.5 0a1.75 1.75 0 1 0 -3.5 0M242.67 114.55a1.75 1.75 0 1 0 3.5 0a1.75 1.75 0 1 0 -3.5 0M245.71 114.07a1.75 1.75 0 1 0 3.5 0a1.75 1.75 0 1 0 -3.5 0M249.12 112.19a1.75 1.75 0 1 0 3.5 0a1.75 1.75 0 1 0 -3.5 0M251.63 110.23a1.75 1.75 0 1 0 3.5 0a1.75 1.75 0 1 0 -3.5 0M253.54 107.48a1.75 1.75 0 1 0 3.5 0a1.75 1.75 0 1 0 -3.5 0M255.76 104.61a1.75 1.75 0 1 0 3.5 0a1.75 1.75 0 1 0 -3.5 0" fill="#e99622"/>
<path d="M58.82 105.41a1.75 1.75 0 1 0 3.5 0a1.75 1.75 0 1 0 -3.5 0M59.56 99.48a1.75 1.75 0 1 0 3.5 0a1.75 1.75 0 1 0 -3.5 0M59.84 94.67a1.75 1.75 0 1 0 3.5 0a1.75 1.75 0 1 0 -3.5 0M59.79 89.7a1.75 1.75 0 1 0 3.5 0a1.75 1.75 0 1 0 -3.5 0M60.38 84.08a1.75 1.75 0 1 0 3.5 0a1.75 1.75 0 1 0 -3.5 0M60.22 79.12a1.75 1.75 0 1 0 3.5 0a1.75 1.75 0 1 0 -3.5 0M60.75 74.09a1.75 1.75 0 1 0 3.5 0a1.75 1.75 0 1 0 -3.5 0M61 68.67a1.75 1.75 0 1 0 3.5 0a1.75 1.75 0 1 0 -3.5 0M61.8 63.51a1.75 1.75 0 1 0 3.5 0a1.75 1.75 0 1 0 -3.5 0M61.93 58.91a1.75 1.75 0 1 0 3.5 0a1.75 1.75 0 1 0 -3.5 0M62.57 53.57a1.75 1.75 0 1 0 3.5 0a1.75 1.75 0 1 0 -3.5 0M62.59 48.74a1.75 1.75 0 1 0 3.5 0a1.75 1.75 0 1 0 -3.5 0M63.78 44.25a1.75 1.75 0 1 0 3.5 0a1.75 1.75 0 1 0 -3.5 0M64.9 40.24a1.75 1.75 0 1 0 3.5 0a1.75 1.75 0 1 0 -3.5 0M65.85 35.54a1.75 1.75 0 1 0 3.5 0a1.75 1.75 0 1 0 -3.5 0M70.52 34.6a1.75 1.75 0 1 0 3.5 0a1.75 1.75 0 1 0 -3.5 0M74.65 35.12a1.75 1.75 0 1 0 3.5 0a1.75 1.75 0 1 0 -3.5 0M79.14 35.87a1.75 1.75 0 1 0 3.5 0a1.75 1.75 0 1 0 -3.5 0M83.21 34.97a1.75 1.75 0 1 0 3.5 0a1.75 1.75 0 1 0 -3.5 0M88.24 36.19a1.75 1.75 0 1 0 3.5 0a1.75 1.75 0 1 0 -3.5 0M92.53 37.22a1.75 1.75 0 1 0 3.5 0a1.75 1.75 0 1 0 -3.5 0M96.4 39.38a1.75 1.75 0 1 0 3.5 0a1.75 1.75 0 1 0 -3.5 0M100.77 41.64a1.75 1.75 0 1 0 3.5 0a1.75 1.75 0 1 0 -3.5 0M104.62 43.1a1.75 1.75 0 1 0 3.5 0a1.75 1.75 0 1 0 -3.5 0M108.99 44.88a1.75 1.75 0 1 0 3.5 0a1.75 1.75 0 1 0 -3.5 0M113.51 46.31a1.75 1.75 0 1 0 3.5 0a1.75 1.75 0 1 0 -3.5 0M117.27 48.99a1.75 1.75 0 1 0 3.5 0a1.75 1.75 0 1 0 -3.5 0M121.01 51.55a1.75 1.75 0 1 0 3.5 0a1.75 1.75 0 1 0 -3.5 0M124.7 54.04a1.75 1.75 0 1 0 3.5 0a1.75 1.75 0 1 0 -3.5 0M128.32 56.77a1.75 1.75 0 1 0 3.5 0a1.75 1.75 0 1 0 -3.5 0M132.28 59.1a1.75 1.75 0 1 0 3.5 0a1.75 1.75 0 1 0 -3.5 0M135.71 61.8a1.75 1.75 0 1 0 3.5 0a1.75 1.75 0 1 0 -3.5 0M139.22 64.34a1.75 1.75 0 1 0 3.5 0a1.75 1.75 0 1 0 -3.5 0M142.28 67.77a1.75 1.75 0 1 0 3.5 0a1.75 1.75 0 1 0 -3.5 0M145.78 70.96a1.75 1.75 0 1 0 3.5 0a1.75 1.75 0 1 0 -3.5 0M149.61 73.75a1.75 1.75 0 1 0 3.5 0a1.75 1.75 0 1 0 -3.5 0M153.08 75.96a1.75 1.75 0 1 0 3.5 0a1.75 1.75 0 1 0 -3.5 0M156.81 78.92a1.75 1.75 0 1 0 3.5 0a1.75 1.75 0 1 0 -3.5 0M160.86 81.56a1.75 1.75 0 1 0 3.5 0a1.75 1.75 0 1 0 -3.5 0M164.15 84.5a1.75 1.75 0 1 0 3.5 0a1.75 1.75 0 1 0 -3.5 0M167.92 87.6a1.75 1.75 0 1 0 3.5 0a1.75 1.75 0 1 0 -3.5 0M171.66 90.58a1.75 1.75 0 1 0 3.5 0a1.75 1.75 0 1 0 -3.5 0M175.5 93.13a1.75 1.75 0 1 0 3.5 0a1.75 1.75 0 1 0 -3.5 0M179.35 96.13a1.75 1.75 0 1 0 3.5 0a1.75 1.75 0 1 0 -3.5 0M182.91 98.99a1.75 1.75 0 1 0 3.5 0a1.75 1.75 0 1 0 -3.5 0M186.88 101.36a1.75 1.75 0 1 0 3.5 0a1.75 1.75 0 1 0 -3.5 0M190.61 103.57a1.75 1.75 0 1 0 3.5 0a1.75 1.75 0 1 0 -3.5 0M194.89 105.56a1.75 1.75 0 1 0 3.5 0a1.75 1.75 0 1 0 -3.5 0M199.52 105.77a1.75 1.75 0 1 0 3.5 0a1.75 1.75 0 1 0 -3.5 0M203.75 107.18a1.75 1.75 0 1 0 3.5 0a1.75 1.75 0 1 0 -3.5 0M208.25 107.78a1.75 1.75 0 1 0 3.5 0a1.75 1.75 0 1 0 -3.5 0" fill="#4e5a72"/>
<path d="M59.14 105.59a1.75 1.75 0 1 0 3.5 0a1.75 1.75 0 1 0 -3.5 0M59.2 101.75a1.75 1.75 0 1 0 3.5 0a1.75 1.75 0 1 0 -3.5 0M58.84 98.9a1.75 1.75 0 1 0 3.5 0a1.75 1.75 0 1 0 -3.5 0M59.01 95.38a1.75 1.75 0 1 0 3.5 0a1.75 1.75 0 1 0 -3.5 0M58.49 91.49a1.75 1.75 0 1 0 3.5 0a1.75 1.75 0 1 0 -3.5 0M58.5 88.27a1.75 1.75 0 1 0 3.5 0a1.75 1.75 0 1 0 -3.5 0M58.92 85.41a1.75 1.75 0 1 0 3.5 0a1.75 1.75 0 1 0 -3.5 0M58.81 82.19a1.75 1.75 0 1 0 3.5 0a1.75 1.75 0 1 0 -3.5 0M58.73 79.16a1.75 1.75 0 1 0 3.5 0a1.75 1.75 0 1 0 -3.5 0M58.42 76.29a1.75 1.75 0 1 0 3.5 0a1.75 1.75 0 1 0 -3.5 0M59.04 72.83a1.75 1.75 0 1 0 3.5 0a1.75 1.75 0 1 0 -3.5 0M59.16 70.04a1.75 1.75 0 1 0 3.5 0a1.75 1.75 0 1 0 -3.5 0M59.36 66.78a1.75 1.75 0 1 0 3.5 0a1.75 1.75 0 1 0 -3.5 0M59.81 63.66a1.75 1.75 0 1 0 3.5 0a1.75 1.75 0 1 0 -3.5 0M60.42 61.02a1.75 1.75 0 1 0 3.5 0a1.75 1.75 0 1 0 -3.5 0M61.39 57.44a1.75 1.75 0 1 0 3.5 0a1.75 1.75 0 1 0 -3.5 0M61.83 54.33a1.75 1.75 0 1 0 3.5 0a1.75 1.75 0 1 0 -3.5 0M63.11 51.3a1.75 1.75 0 1 0 3.5 0a1.75 1.75 0 1 0 -3.5 0M63.96 48.26a1.75 1.75 0 1 0 3.5 0a1.75 1.75 0 1 0 -3.5 0M65.47 45.82a1.75 1.75 0 1 0 3.5 0a1.75 1.75 0 1 0 -3.5 0M66.61 43.19a1.75 1.75 0 1 0 3.5 0a1.75 1.75 0 1 0 -3.5 0M68.7 41.12a1.75 1.75 0 1 0 3.5 0a1.75 1.75 0 1 0 -3.5 0M70.94 38.89a1.75 1.75 0 1 0 3.5 0a1.75 1.75 0 1 0 -3.5 0M73.04 37.32a1.75 1.75 0 1 0 3.5 0a1.75 1.75 0 1 0 -3.5 0M75.56 35.42a1.75 1.75 0 1 0 3.5 0a1.75 1.75 0 1 0 -3.5 0M78.1 34.35a1.75 1.75 0 1 0 3.5 0a1.75 1.75 0 1 0 -3.5 0M80.72 32.99a1.75 1.75 0 1 0 3.5 0a1.75 1.75 0 1 0 -3.5 0M83.61 32.39a1.75 1.75 0 1 0 3.5 0a1.75 1.75 0 1 0 -3.5 0M86.74 33.99a1.75 1.75 0 1 0 3.5 0a1.75 1.75 0 1 0 -3.5 0M89.04 34.97a1.75 1.75 0 1 0 3.5 0a1.75 1.75 0 1 0 -3.5 0M91.92 36.17a1.75 1.75 0 1 0 3.5 0a1.75 1.75 0 1 0 -3.5 0M94.37 37.37a1.75 1.75 0 1 0 3.5 0a1.75 1.75 0 1 0 -3.5 0M97.47 38.2a1.75 1.75 0 1 0 3.5 0a1.75 1.75 0 1 0 -3.5 0M100.36 39.36a1.75 1.75 0 1 0 3.5 0a1.75 1.75 0 1 0 -3.5 0M103.01 40.06a1.75 1.75 0 1 0 3.5 0a1.75 1.75 0 1 0 -3.5 0M105.36 41.55a1.75 1.75 0 1 0 3.5 0a1.75 1.75 0 1 0 -3.5 0M108.33 43.05a1.75 1.75 0 1 0 3.5 0a1.75 1.75 0 1 0 -3.5 0M110.63 44.07a1.75 1.75 0 1 0 3.5 0a1.75 1.75 0 1 0 -3.5 0M113.34 45.21a1.75 1.75 0 1 0 3.5 0a1.75 1.75 0 1 0 -3.5 0M115.8 46.7a1.75 1.75 0 1 0 3.5 0a1.75 1.75 0 1 0 -3.5 0M118.38 48.76a1.75 1.75 0 1 0 3.5 0a1.75 1.75 0 1 0 -3.5 0M120.72 50.22a1.75 1.75 0 1 0 3.5 0a1.75 1.75 0 1 0 -3.5 0M123.68 52.2a1.75 1.75 0 1 0 3.5 0a1.75 1.75 0 1 0 -3.5 0M125.68 53.29a1.75 1.75 0 1 0 3.5 0a1.75 1.75 0 1 0 -3.5 0M128.46 55.45a1.75 1.75 0 1 0 3.5 0a1.75 1.75 0 1 0 -3.5 0M130.67 56.65a1.75 1.75 0 1 0 3.5 0a1.75 1.75 0 1 0 -3.5 0M133.53 58.41a1.75 1.75 0 1 0 3.5 0a1.75 1.75 0 1 0 -3.5 0M136.13 60.04a1.75 1.75 0 1 0 3.5 0a1.75 1.75 0 1 0 -3.5 0M138.4 61.61a1.75 1.75 0 1 0 3.5 0a1.75 1.75 0 1 0 -3.5 0M140.41 63.71a1.75 1.75 0 1 0 3.5 0a1.75 1.75 0 1 0 -3.5 0M142.21 66.17a1.75 1.75 0 1 0 3.5 0a1.75 1.75 0 1 0 -3.5 0M144.79 67.83a1.75 1.75 0 1 0 3.5 0a1.75 1.75 0 1 0 -3.5 0M146.74 69.86a1.75 1.75 0 1 0 3.5 0a1.75 1.75 0 1 0 -3.5 0M149.24 71.52a1.75 1.75 0 1 0 3.5 0a1.75 1.75 0 1 0 -3.5 0M151.61 72.96a1.75 1.75 0 1 0 3.5 0a1.75 1.75 0 1 0 -3.5 0M154.58 74.84a1.75 1.75 0 1 0 3.5 0a1.75 1.75 0 1 0 -3.5 0M156.79 76.35a1.75 1.75 0 1 0 3.5 0a1.75 1.75 0 1 0 -3.5 0M159.54 77.63a1.75 1.75 0 1 0 3.5 0a1.75 1.75 0 1 0 -3.5 0M162.07 79.38a1.75 1.75 0 1 0 3.5 0a1.75 1.75 0 1 0 -3.5 0M164.37 81.34a1.75 1.75 0 1 0 3.5 0a1.75 1.75 0 1 0 -3.5 0M166.79 82.96a1.75 1.75 0 1 0 3.5 0a1.75 1.75 0 1 0 -3.5 0M169.34 85.16a1.75 1.75 0 1 0 3.5 0a1.75 1.75 0 1 0 -3.5 0M171.72 87.04a1.75 1.75 0 1 0 3.5 0a1.75 1.75 0 1 0 -3.5 0M174.34 88.88a1.75 1.75 0 1 0 3.5 0a1.75 1.75 0 1 0 -3.5 0M176.43 90.7a1.75 1.75 0 1 0 3.5 0a1.75 1.75 0 1 0 -3.5 0M179.17 92.18a1.75 1.75 0 1 0 3.5 0a1.75 1.75 0 1 0 -3.5 0M181.85 94.28a1.75 1.75 0 1 0 3.5 0a1.75 1.75 0 1 0 -3.5 0M184.23 95.75a1.75 1.75 0 1 0 3.5 0a1.75 1.75 0 1 0 -3.5 0M186.81 97.44a1.75 1.75 0 1 0 3.5 0a1.75 1.75 0 1 0 -3.5 0M189.21 99.25a1.75 1.75 0 1 0 3.5 0a1.75 1.75 0 1 0 -3.5 0M191.81 100.77a1.75 1.75 0 1 0 3.5 0a1.75 1.75 0 1 0 -3.5 0M194.67 101.9a1.75 1.75 0 1 0 3.5 0a1.75 1.75 0 1 0 -3.5 0M197.35 103.19a1.75 1.75 0 1 0 3.5 0a1.75 1.75 0 1 0 -3.5 0M200.02 104.7a1.75 1.75 0 1 0 3.5 0a1.75 1.75 0 1 0 -3.5 0M202.79 105.37a1.75 1.75 0 1 0 3.5 0a1.75 1.75 0 1 0 -3.5 0M205.42 106.73a1.75 1.75 0 1 0 3.5 0a1.75 1.75 0 1 0 -3.5 0M208.34 107.88a1.75 1.75 0 1 0 3.5 0a1.75 1.75 0 1 0 -3.5 0M210.89 109.85a1.75 1.75 0 1 0 3.5 0a1.75 1.75 0 1 0 -3.5 0M213.54 111.33a1.75 1.75 0 1 0 3.5 0a1.75 1.75 0 1 0 -3.5 0M216.26 112.73a1.75 1.75 0 1 0 3.5 0a1.75 1.75 0 1 0 -3.5 0M219.13 113.88a1.75 1.75 0 1 0 3.5 0a1.75 1.75 0 1 0 -3.5 0M222.39 114.59a1.75 1.75 0 1 0 3.5 0a1.75 1.75 0 1 0 -3.5 0M225.41 116.02a1.75 1.75 0 1 0 3.5 0a1.75 1.75 0 1 0 -3.5 0M227.99 116.21a1.75 1.75 0 1 0 3.5 0a1.75 1.75 0 1 0 -3.5 0M231.47 116.1a1.75 1.75 0 1 0 3.5 0a1.75 1.75 0 1 0 -3.5 0M234.8 115.79a1.75 1.75 0 1 0 3.5 0a1.75 1.75 0 1 0 -3.5 0M237.97 115.1a1.75 1.75 0 1 0 3.5 0a1.75 1.75 0 1 0 -3.5 0M240.75 114.87a1.75 1.75 0 1 0 3.5 0a1.75 1.75 0 1 0 -3.5 0M243.61 113.72a1.75 1.75 0 1 0 3.5 0a1.75 1.75 0 1 0 -3.5 0M246.57 112.77a1.75 1.75 0 1 0 3.5 0a1.75 1.75 0 1 0 -3.5 0M248.9 111.36a1.75 1.75 0 1 0 3.5 0a1.75 1.75 0 1 0 -3.5 0" fill="#d6178c"/>
<path d="M66.45 33.36a1.75 1.75 0 1 0 3.5 0a1.75 1.75 0 1 0 -3.5 0M66.76 37.34a1.75 1.75 0 1 0 3.5 0a1.75 1.75 0 1 0 -3.5 0M64.05 41.37a1.75 1.75 0 1 0 3.5 0a1.75 1.75 0 1 0 -3.5 0M62.32 52.12a1.75 1.75 0 1 0 3.5 0a1.75 1.75 0 1 0 -3.5 0M215.33 105.32a1.75 1.75 0 1 0 3.5 0a1.75 1.75 0 1 0 -3.5 0M216.47 102.53a1.75 1.75 0 1 0 3.5 0a1.75 1.75 0 1 0 -3.5 0M217.5 107.23a1.75 1.75 0 1 0 3.5 0a1.75 1.75 0 1 0 -3.5 0M221.81 103.8a1.75 1.75 0 1 0 3.5 0a1.75 1.75 0 1 0 -3.5 0M233.73 101.14a1.75 1.75 0 1 0 3.5 0a1.75 1.75 0 1 0 -3.5 0M233.83 104.36a1.75 1.75 0 1 0 3.5 0a1.75 1.75 0 1 0 -3.5 0M233.94 107.05a1.75 1.75 0 1 0 3.5 0a1.75 1.75 0 1 0 -3.5 0M242.77 102.46a1.75 1.75 0 1 0 3.5 0a1.75 1.75 0 1 0 -3.5 0M247.42 101.01a1.75 1.75 0 1 0 3.5 0a1.75 1.75 0 1 0 -3.5 0M253.4 99.23a1.75 1.75 0 1 0 3.5 0a1.75 1.75 0 1 0 -3.5 0M226.44 108.85a1.75 1.75 0 1 0 3.5 0a1.75 1.75 0 1 0 -3.5 0M210.33 106.29a1.75 1.75 0 1 0 3.5 0a1.75 1.75 0 1 0 -3.5 0M228.3 106.1a1.75 1.75 0 1 0 3.5 0a1.75 1.75 0 1 0 -3.5 0" fill="#4e5a72"/>
<path d="M59.26 103.9a1.6 1.6 0 1 0 3.2 0a1.6 1.6 0 1 0 -3.2 0M59.31 101.43a1.6 1.6 0 1 0 3.2 0a1.6 1.6 0 1 0 -3.2 0M59.52 98.99a1.6 1.6 0 1 0 3.2 0a1.6 1.6 0 1 0 -3.2 0M59.6 96.58a1.6 1.6 0 1 0 3.2 0a1.6 1.6 0 1 0 -3.2 0M59.63 93.95a1.6 1.6 0 1 0 3.2 0a1.6 1.6 0 1 0 -3.2 0M59.93 91.4a1.6 1.6 0 1 0 3.2 0a1.6 1.6 0 1 0 -3.2 0M60.1 88.97a1.6 1.6 0 1 0 3.2 0a1.6 1.6 0 1 0 -3.2 0M60.42 86.47a1.6 1.6 0 1 0 3.2 0a1.6 1.6 0 1 0 -3.2 0" fill="#3a5a9b"/>
<rect x="61" y="143.2" width="0.9" height="4.3" fill="#b3173f" fill-opacity="0.6"/>
<rect x="62.35" y="143.2" width="0.9" height="4.3" fill="#b3173f" fill-opacity="0.9"/>
<rect x="63.7" y="143.2" width="0.9" height="4.3" fill="#b3173f" fill-opacity="0.9"/>
<rect x="64.9" y="143.2" width="0.9" height="4.3" fill="#b3173f" fill-opacity="0.6"/>
<rect x="66.25" y="143.2" width="0.9" height="4.3" fill="#b3173f" fill-opacity="0.9"/>
<rect x="67.6" y="143.2" width="0.9" height="4.3" fill="#b3173f" fill-opacity="0.6"/>
<rect x="68.8" y="143.2" width="0.9" height="4.3" fill="#b3173f" fill-opacity="0.5"/>
<rect x="70" y="143.2" width="0.9" height="4.3" fill="#b3173f" fill-opacity="1.0"/>
<rect x="71.2" y="143.2" width="0.9" height="4.3" fill="#b3173f" fill-opacity="0.8"/>
<rect x="72.4" y="143.2" width="0.9" height="4.3" fill="#b3173f" fill-opacity="0.5"/>
<rect x="73.9" y="143.2" width="0.9" height="4.3" fill="#b3173f" fill-opacity="0.6"/>
<rect x="75.4" y="143.2" width="0.9" height="4.3" fill="#b3173f" fill-opacity="1.0"/>
<rect x="78.6" y="143.2" width="0.9" height="4.3" fill="#b3173f" fill-opacity="0.55"/>
<rect x="83.5" y="143.2" width="0.9" height="4.3" fill="#b3173f" fill-opacity="0.25"/>
<rect x="84.7" y="143.2" width="0.9" height="4.3" fill="#b3173f" fill-opacity="0.8"/>
<rect x="86.2" y="143.2" width="0.9" height="4.3" fill="#b3173f" fill-opacity="0.45"/>
<rect x="87.7" y="143.2" width="0.9" height="4.3" fill="#b3173f" fill-opacity="0.8"/>
<rect x="92.3" y="143.2" width="0.9" height="4.3" fill="#b3173f" fill-opacity="0.55"/>
<rect x="93.8" y="143.2" width="0.9" height="4.3" fill="#b3173f" fill-opacity="0.65"/>
<rect x="95.3" y="143.2" width="0.9" height="4.3" fill="#b3173f" fill-opacity="0.55"/>
<rect x="96.5" y="143.2" width="0.9" height="4.3" fill="#b3173f" fill-opacity="0.35"/>
<rect x="99.2" y="143.2" width="0.9" height="4.3" fill="#b3173f" fill-opacity="0.25"/>
<rect x="100.4" y="143.2" width="0.9" height="4.3" fill="#b3173f" fill-opacity="0.65"/>
<rect x="101.6" y="143.2" width="0.9" height="4.3" fill="#b3173f" fill-opacity="0.55"/>
<rect x="102.8" y="143.2" width="0.9" height="4.3" fill="#b3173f" fill-opacity="0.35"/>
<rect x="104" y="143.2" width="0.9" height="4.3" fill="#b3173f" fill-opacity="0.25"/>
<rect x="107" y="143.2" width="0.9" height="4.3" fill="#b3173f" fill-opacity="0.25"/>
<rect x="108.5" y="143.2" width="0.9" height="4.3" fill="#b3173f" fill-opacity="0.65"/>
<rect x="110" y="143.2" width="0.9" height="4.3" fill="#b3173f" fill-opacity="0.35"/>
<rect x="113" y="143.2" width="0.9" height="4.3" fill="#b3173f" fill-opacity="0.55"/>
<rect x="114.2" y="143.2" width="0.9" height="4.3" fill="#b3173f" fill-opacity="0.65"/>
<rect x="115.7" y="143.2" width="0.9" height="4.3" fill="#b3173f" fill-opacity="0.8"/>
<rect x="118.8" y="143.2" width="0.9" height="4.3" fill="#b3173f" fill-opacity="0.8"/>
<rect x="120.3" y="143.2" width="0.9" height="4.3" fill="#b3173f" fill-opacity="0.55"/>
<rect x="122.7" y="143.2" width="0.9" height="4.3" fill="#b3173f" fill-opacity="0.35"/>
<rect x="124.2" y="143.2" width="0.9" height="4.3" fill="#b3173f" fill-opacity="0.45"/>
<rect x="125.4" y="143.2" width="0.9" height="4.3" fill="#b3173f" fill-opacity="0.45"/>
<rect x="126.9" y="143.2" width="0.9" height="4.3" fill="#b3173f" fill-opacity="0.25"/>
<rect x="129.6" y="143.2" width="0.9" height="4.3" fill="#b3173f" fill-opacity="0.95"/>
<rect x="130.95" y="143.2" width="0.9" height="4.3" fill="#b3173f" fill-opacity="0.8"/>
<rect x="132.45" y="143.2" width="0.9" height="4.3" fill="#b3173f" fill-opacity="0.25"/>
<rect x="133.8" y="143.2" width="0.9" height="4.3" fill="#b3173f" fill-opacity="0.95"/>
<rect x="138.4" y="143.2" width="0.9" height="4.3" fill="#b3173f" fill-opacity="0.8"/>
<rect x="139.75" y="143.2" width="0.9" height="4.3" fill="#b3173f" fill-opacity="0.25"/>
<rect x="141.3" y="143.2" width="0.9" height="4.3" fill="#b3173f" fill-opacity="0.8"/>
<rect x="142.65" y="143.2" width="0.9" height="4.3" fill="#b3173f" fill-opacity="0.35"/>
<rect x="143.85" y="143.2" width="0.9" height="4.3" fill="#b3173f" fill-opacity="0.25"/>
<rect x="150.2" y="143.2" width="0.9" height="4.3" fill="#b3173f" fill-opacity="0.35"/>
<rect x="151.7" y="143.2" width="0.9" height="4.3" fill="#b3173f" fill-opacity="0.25"/>
<rect x="152.9" y="143.2" width="0.9" height="4.3" fill="#b3173f" fill-opacity="0.45"/>
<rect x="154.4" y="143.2" width="0.9" height="4.3" fill="#b3173f" fill-opacity="0.8"/>
<rect x="158" y="143.2" width="0.9" height="4.3" fill="#b3173f" fill-opacity="0.8"/>
<rect x="159.2" y="143.2" width="0.9" height="4.3" fill="#b3173f" fill-opacity="0.45"/>
<rect x="162.5" y="143.2" width="0.9" height="4.3" fill="#b3173f" fill-opacity="0.65"/>
<rect x="166" y="143.2" width="0.9" height="4.3" fill="#b3173f" fill-opacity="0.55"/>
<rect x="170" y="143.2" width="0.9" height="4.3" fill="#b3173f" fill-opacity="0.95"/>
<rect x="172" y="143.2" width="0.9" height="4.3" fill="#b3173f" fill-opacity="0.45"/>
<rect x="175.2" y="143.2" width="0.9" height="4.3" fill="#b3173f" fill-opacity="0.8"/>
<rect x="176.4" y="143.2" width="0.9" height="4.3" fill="#b3173f" fill-opacity="0.25"/>
<rect x="177.9" y="143.2" width="0.9" height="4.3" fill="#b3173f" fill-opacity="0.25"/>
<rect x="180.4" y="143.2" width="0.9" height="4.3" fill="#b3173f" fill-opacity="0.45"/>
<rect x="184.4" y="143.2" width="0.9" height="4.3" fill="#b3173f" fill-opacity="0.95"/>
<rect x="185.9" y="143.2" width="0.9" height="4.3" fill="#b3173f" fill-opacity="0.35"/>
<rect x="187.1" y="143.2" width="0.9" height="4.3" fill="#b3173f" fill-opacity="0.8"/>
<rect x="188.45" y="143.2" width="0.9" height="4.3" fill="#b3173f" fill-opacity="0.35"/>
<rect x="195.4" y="143.2" width="0.9" height="4.3" fill="#b3173f" fill-opacity="0.45"/>
<rect x="196.9" y="143.2" width="0.9" height="4.3" fill="#b3173f" fill-opacity="0.35"/>
<rect x="200" y="143.2" width="0.9" height="4.3" fill="#b3173f" fill-opacity="0.95"/>
<rect x="201.7" y="143.2" width="0.9" height="4.3" fill="#b3173f" fill-opacity="0.8"/>
<rect x="203.2" y="143.2" width="0.9" height="4.3" fill="#b3173f" fill-opacity="0.95"/>
<rect x="204.7" y="143.2" width="0.9" height="4.3" fill="#b3173f" fill-opacity="0.55"/>
<rect x="206.05" y="143.2" width="0.9" height="4.3" fill="#b3173f" fill-opacity="0.95"/>
<rect x="209.8" y="143.2" width="0.9" height="4.3" fill="#b3173f" fill-opacity="0.8"/>
<rect x="211" y="143.2" width="0.9" height="4.3" fill="#b3173f" fill-opacity="0.95"/>
<rect x="212.2" y="143.2" width="0.9" height="4.3" fill="#b3173f" fill-opacity="0.55"/>
<rect x="214.6" y="143.2" width="0.9" height="4.3" fill="#b3173f" fill-opacity="0.35"/>
<rect x="216.1" y="143.2" width="0.9" height="4.3" fill="#b3173f" fill-opacity="0.45"/>
<rect x="217.3" y="143.2" width="0.9" height="4.3" fill="#b3173f" fill-opacity="0.55"/>
<rect x="220.4" y="143.2" width="0.9" height="4.3" fill="#b3173f" fill-opacity="0.65"/>
<rect x="221.6" y="143.2" width="0.9" height="4.3" fill="#b3173f" fill-opacity="0.65"/>
<rect x="222.8" y="143.2" width="0.9" height="4.3" fill="#b3173f" fill-opacity="0.35"/>
<rect x="224" y="143.2" width="0.9" height="4.3" fill="#b3173f" fill-opacity="0.25"/>
<rect x="226.7" y="143.2" width="0.9" height="4.3" fill="#b3173f" fill-opacity="0.25"/>
<rect x="228.2" y="143.2" width="0.9" height="4.3" fill="#b3173f" fill-opacity="0.35"/>
<rect x="229.55" y="143.2" width="0.9" height="4.3" fill="#b3173f" fill-opacity="0.35"/>
<rect x="233.7" y="143.2" width="0.9" height="4.3" fill="#b3173f" fill-opacity="0.25"/>
<rect x="234.9" y="143.2" width="0.9" height="4.3" fill="#b3173f" fill-opacity="0.25"/>
<rect x="236.1" y="143.2" width="0.9" height="4.3" fill="#b3173f" fill-opacity="0.8"/>
<rect x="238.8" y="143.2" width="0.9" height="4.3" fill="#b3173f" fill-opacity="0.8"/>
<rect x="240" y="143.2" width="0.9" height="4.3" fill="#b3173f" fill-opacity="0.8"/>
<rect x="241.2" y="143.2" width="0.9" height="4.3" fill="#b3173f" fill-opacity="0.8"/>
<rect x="242.4" y="143.2" width="0.9" height="4.3" fill="#b3173f" fill-opacity="0.25"/>
<rect x="243.9" y="143.2" width="0.9" height="4.3" fill="#b3173f" fill-opacity="0.95"/>
<rect x="245.25" y="143.2" width="0.9" height="4.3" fill="#b3173f" fill-opacity="0.35"/>
<rect x="247.5" y="143.2" width="0.9" height="4.3" fill="#b3173f" fill-opacity="0.8"/>
<rect x="248.7" y="143.2" width="0.9" height="4.3" fill="#b3173f" fill-opacity="0.95"/>
<rect x="250.2" y="143.2" width="0.9" height="4.3" fill="#b3173f" fill-opacity="0.55"/>
<rect x="251.4" y="143.2" width="0.9" height="4.3" fill="#b3173f" fill-opacity="0.35"/>
<rect x="255.6" y="143.2" width="0.9" height="4.3" fill="#b3173f" fill-opacity="0.35"/>
<rect x="256.8" y="143.2" width="0.9" height="4.3" fill="#b3173f" fill-opacity="0.25"/>
<rect x="258" y="143.2" width="0.9" height="4.3" fill="#b3173f" fill-opacity="0.95"/>
<rect x="259.5" y="143.2" width="0.9" height="4.3" fill="#b3173f" fill-opacity="0.25"/>
<rect x="61" y="148.6" width="0.9" height="4.3" fill="#3a5a9b" fill-opacity="1.0"/>
<rect x="62.35" y="148.6" width="0.9" height="4.3" fill="#3a5a9b" fill-opacity="0.8"/>
<rect x="63.55" y="148.6" width="0.9" height="4.3" fill="#3a5a9b" fill-opacity="0.6"/>
<rect x="64.75" y="148.6" width="0.9" height="4.3" fill="#3a5a9b" fill-opacity="1.0"/>
<rect x="66.25" y="148.6" width="0.9" height="4.3" fill="#3a5a9b" fill-opacity="0.6"/>
<rect x="67.6" y="148.6" width="0.9" height="4.3" fill="#3a5a9b" fill-opacity="0.7"/>
<rect x="68.95" y="148.6" width="0.9" height="4.3" fill="#3a5a9b" fill-opacity="0.8"/>
<rect x="70.3" y="148.6" width="0.9" height="4.3" fill="#3a5a9b" fill-opacity="0.5"/>
<rect x="71.65" y="148.6" width="0.9" height="4.3" fill="#3a5a9b" fill-opacity="0.7"/>
<rect x="73" y="148.6" width="0.9" height="4.3" fill="#3a5a9b" fill-opacity="0.5"/>
<rect x="74.5" y="148.6" width="0.9" height="4.3" fill="#3a5a9b" fill-opacity="1.0"/>
<rect x="77.6" y="148.6" width="0.9" height="4.3" fill="#3a5a9b" fill-opacity="0.45"/>
<rect x="79.1" y="148.6" width="0.9" height="4.3" fill="#3a5a9b" fill-opacity="0.65"/>
<rect x="82.5" y="148.6" width="0.9" height="4.3" fill="#3a5a9b" fill-opacity="0.95"/>
<rect x="83.85" y="148.6" width="0.9" height="4.3" fill="#3a5a9b" fill-opacity="0.65"/>
<rect x="86.4" y="148.6" width="0.9" height="4.3" fill="#3a5a9b" fill-opacity="0.25"/>
<rect x="87.75" y="148.6" width="0.9" height="4.3" fill="#3a5a9b" fill-opacity="0.25"/>
<rect x="94.3" y="148.6" width="0.9" height="4.3" fill="#3a5a9b" fill-opacity="0.65"/>
<rect x="95.5" y="148.6" width="0.9" height="4.3" fill="#3a5a9b" fill-opacity="0.45"/>
<rect x="98.2" y="148.6" width="0.9" height="4.3" fill="#3a5a9b" fill-opacity="0.8"/>
<rect x="99.4" y="148.6" width="0.9" height="4.3" fill="#3a5a9b" fill-opacity="0.65"/>
<rect x="102" y="148.6" width="0.9" height="4.3" fill="#3a5a9b" fill-opacity="0.35"/>
<rect x="103.5" y="148.6" width="0.9" height="4.3" fill="#3a5a9b" fill-opacity="0.95"/>
<rect x="107" y="148.6" width="0.9" height="4.3" fill="#3a5a9b" fill-opacity="0.65"/>
<rect x="108.35" y="148.6" width="0.9" height="4.3" fill="#3a5a9b" fill-opacity="0.35"/>
<rect x="112" y="148.6" width="0.9" height="4.3" fill="#3a5a9b" fill-opacity="0.25"/>
<rect x="114.9" y="148.6" width="0.9" height="4.3" fill="#3a5a9b" fill-opacity="0.35"/>
<rect x="116.25" y="148.6" width="0.9" height="4.3" fill="#3a5a9b" fill-opacity="0.95"/>
<rect x="118.8" y="148.6" width="0.9" height="4.3" fill="#3a5a9b" fill-opacity="0.25"/>
<rect x="120.15" y="148.6" width="0.9" height="4.3" fill="#3a5a9b" fill-opacity="0.55"/>
<rect x="123.7" y="148.6" width="0.9" height="4.3" fill="#3a5a9b" fill-opacity="0.55"/>
<rect x="125.2" y="148.6" width="0.9" height="4.3" fill="#3a5a9b" fill-opacity="0.95"/>
<rect x="128.6" y="148.6" width="0.9" height="4.3" fill="#3a5a9b" fill-opacity="0.55"/>
<rect x="132.5" y="148.6" width="0.9" height="4.3" fill="#3a5a9b" fill-opacity="0.45"/>
<rect x="134" y="148.6" width="0.9" height="4.3" fill="#3a5a9b" fill-opacity="0.45"/>
<rect x="136.4" y="148.6" width="0.9" height="4.3" fill="#3a5a9b" fill-opacity="0.35"/>
<rect x="137.75" y="148.6" width="0.9" height="4.3" fill="#3a5a9b" fill-opacity="0.95"/>
<rect x="138.95" y="148.6" width="0.9" height="4.3" fill="#3a5a9b" fill-opacity="0.8"/>
<rect x="142.3" y="148.6" width="0.9" height="4.3" fill="#3a5a9b" fill-opacity="0.55"/>
<rect x="143.5" y="148.6" width="0.9" height="4.3" fill="#3a5a9b" fill-opacity="0.25"/>
<rect x="148.2" y="148.6" width="0.9" height="4.3" fill="#3a5a9b" fill-opacity="0.95"/>
<rect x="149.4" y="148.6" width="0.9" height="4.3" fill="#3a5a9b" fill-opacity="0.55"/>
<rect x="150.9" y="148.6" width="0.9" height="4.3" fill="#3a5a9b" fill-opacity="0.65"/>
<rect x="152.1" y="148.6" width="0.9" height="4.3" fill="#3a5a9b" fill-opacity="0.8"/>
<rect x="153.45" y="148.6" width="0.9" height="4.3" fill="#3a5a9b" fill-opacity="0.45"/>
<rect x="154.65" y="148.6" width="0.9" height="4.3" fill="#3a5a9b" fill-opacity="0.55"/>
<rect x="156" y="148.6" width="0.9" height="4.3" fill="#3a5a9b" fill-opacity="0.8"/>
<rect x="158.5" y="148.6" width="0.9" height="4.3" fill="#3a5a9b" fill-opacity="0.55"/>
<rect x="161.3" y="148.6" width="0.9" height="4.3" fill="#3a5a9b" fill-opacity="0.25"/>
<rect x="166" y="148.6" width="0.9" height="4.3" fill="#3a5a9b" fill-opacity="0.35"/>
<rect x="174" y="148.6" width="0.9" height="4.3" fill="#3a5a9b" fill-opacity="0.45"/>
<rect x="177" y="148.6" width="0.9" height="4.3" fill="#3a5a9b" fill-opacity="0.65"/>
<rect x="178.5" y="148.6" width="0.9" height="4.3" fill="#3a5a9b" fill-opacity="0.35"/>
<rect x="181.5" y="148.6" width="0.9" height="4.3" fill="#3a5a9b" fill-opacity="0.8"/>
<rect x="182.7" y="148.6" width="0.9" height="4.3" fill="#3a5a9b" fill-opacity="0.55"/>
<rect x="183.9" y="148.6" width="0.9" height="4.3" fill="#3a5a9b" fill-opacity="0.65"/>
<rect x="185.4" y="148.6" width="0.9" height="4.3" fill="#3a5a9b" fill-opacity="0.95"/>
<rect x="186.9" y="148.6" width="0.9" height="4.3" fill="#3a5a9b" fill-opacity="0.95"/>
<rect x="190.2" y="148.6" width="0.9" height="4.3" fill="#3a5a9b" fill-opacity="0.8"/>
<rect x="191.4" y="148.6" width="0.9" height="4.3" fill="#3a5a9b" fill-opacity="0.45"/>
<rect x="194.2" y="148.6" width="0.9" height="4.3" fill="#3a5a9b" fill-opacity="0.45"/>
<rect x="195.7" y="148.6" width="0.9" height="4.3" fill="#3a5a9b" fill-opacity="0.35"/>
<rect x="197.05" y="148.6" width="0.9" height="4.3" fill="#3a5a9b" fill-opacity="0.8"/>
<rect x="200" y="148.6" width="0.9" height="4.3" fill="#3a5a9b" fill-opacity="0.8"/>
<rect x="202.9" y="148.6" width="0.9" height="4.3" fill="#3a5a9b" fill-opacity="0.35"/>
<rect x="204.25" y="148.6" width="0.9" height="4.3" fill="#3a5a9b" fill-opacity="0.55"/>
<rect x="205.75" y="148.6" width="0.9" height="4.3" fill="#3a5a9b" fill-opacity="0.95"/>
<rect x="208.7" y="148.6" width="0.9" height="4.3" fill="#3a5a9b" fill-opacity="0.65"/>
<rect x="209.9" y="148.6" width="0.9" height="4.3" fill="#3a5a9b" fill-opacity="0.35"/>
<rect x="211.25" y="148.6" width="0.9" height="4.3" fill="#3a5a9b" fill-opacity="0.55"/>
<rect x="215.2" y="148.6" width="0.9" height="4.3" fill="#3a5a9b" fill-opacity="0.8"/>
<rect x="216.4" y="148.6" width="0.9" height="4.3" fill="#3a5a9b" fill-opacity="0.65"/>
<rect x="217.6" y="148.6" width="0.9" height="4.3" fill="#3a5a9b" fill-opacity="0.45"/>
<rect x="218.95" y="148.6" width="0.9" height="4.3" fill="#3a5a9b" fill-opacity="0.95"/>
<rect x="220.45" y="148.6" width="0.9" height="4.3" fill="#3a5a9b" fill-opacity="0.95"/>
<rect x="226.2" y="148.6" width="0.9" height="4.3" fill="#3a5a9b" fill-opacity="0.35"/>
<rect x="230.8" y="148.6" width="0.9" height="4.3" fill="#3a5a9b" fill-opacity="0.35"/>
<rect x="233" y="148.6" width="0.9" height="4.3" fill="#3a5a9b" fill-opacity="0.8"/>
<rect x="237" y="148.6" width="0.9" height="4.3" fill="#3a5a9b" fill-opacity="0.65"/>
<rect x="238.8" y="148.6" width="0.9" height="4.3" fill="#3a5a9b" fill-opacity="0.45"/>
<rect x="240" y="148.6" width="0.9" height="4.3" fill="#3a5a9b" fill-opacity="0.35"/>
<rect x="241.35" y="148.6" width="0.9" height="4.3" fill="#3a5a9b" fill-opacity="0.35"/>
<rect x="242.7" y="148.6" width="0.9" height="4.3" fill="#3a5a9b" fill-opacity="0.8"/>
<rect x="245.2" y="148.6" width="0.9" height="4.3" fill="#3a5a9b" fill-opacity="0.35"/>
<rect x="246.7" y="148.6" width="0.9" height="4.3" fill="#3a5a9b" fill-opacity="0.25"/>
<rect x="247.9" y="148.6" width="0.9" height="4.3" fill="#3a5a9b" fill-opacity="0.55"/>
<rect x="249.1" y="148.6" width="0.9" height="4.3" fill="#3a5a9b" fill-opacity="0.35"/>
<rect x="252" y="148.6" width="0.9" height="4.3" fill="#3a5a9b" fill-opacity="0.8"/>
<rect x="254.4" y="148.6" width="0.9" height="4.3" fill="#3a5a9b" fill-opacity="0.55"/>
<rect x="258" y="148.6" width="0.9" height="4.3" fill="#3a5a9b" fill-opacity="0.35"/>
<rect x="61" y="153.9" width="0.9" height="4.3" fill="#e99622" fill-opacity="1.0"/>
<rect x="62.2" y="153.9" width="0.9" height="4.3" fill="#e99622" fill-opacity="0.7"/>
<rect x="63.4" y="153.9" width="0.9" height="4.3" fill="#e99622" fill-opacity="0.8"/>
<rect x="64.75" y="153.9" width="0.9" height="4.3" fill="#e99622" fill-opacity="0.5"/>
<rect x="65.95" y="153.9" width="0.9" height="4.3" fill="#e99622" fill-opacity="0.8"/>
<rect x="67.3" y="153.9" width="0.9" height="4.3" fill="#e99622" fill-opacity="1.0"/>
<rect x="68.5" y="153.9" width="0.9" height="4.3" fill="#e99622" fill-opacity="0.9"/>
<rect x="70" y="153.9" width="0.9" height="4.3" fill="#e99622" fill-opacity="0.7"/>
<rect x="74.7" y="153.9" width="0.9" height="4.3" fill="#e99622" fill-opacity="0.5"/>
<rect x="75.9" y="153.9" width="0.9" height="4.3" fill="#e99622" fill-opacity="0.7"/>
<rect x="79.6" y="153.9" width="0.9" height="4.3" fill="#e99622" fill-opacity="0.8"/>
<rect x="80.95" y="153.9" width="0.9" height="4.3" fill="#e99622" fill-opacity="0.25"/>
<rect x="86.4" y="153.9" width="0.9" height="4.3" fill="#e99622" fill-opacity="0.35"/>
<rect x="87.75" y="153.9" width="0.9" height="4.3" fill="#e99622" fill-opacity="0.8"/>
<rect x="92.3" y="153.9" width="0.9" height="4.3" fill="#e99622" fill-opacity="0.65"/>
<rect x="93.8" y="153.9" width="0.9" height="4.3" fill="#e99622" fill-opacity="0.8"/>
<rect x="95.15" y="153.9" width="0.9" height="4.3" fill="#e99622" fill-opacity="0.95"/>
<rect x="96.35" y="153.9" width="0.9" height="4.3" fill="#e99622" fill-opacity="0.8"/>
<rect x="98.2" y="153.9" width="0.9" height="4.3" fill="#e99622" fill-opacity="0.8"/>
<rect x="99.7" y="153.9" width="0.9" height="4.3" fill="#e99622" fill-opacity="0.8"/>
<rect x="101.2" y="153.9" width="0.9" height="4.3" fill="#e99622" fill-opacity="0.95"/>
<rect x="102.4" y="153.9" width="0.9" height="4.3" fill="#e99622" fill-opacity="0.8"/>
<rect x="105" y="153.9" width="0.9" height="4.3" fill="#e99622" fill-opacity="0.8"/>
<rect x="106.2" y="153.9" width="0.9" height="4.3" fill="#e99622" fill-opacity="0.55"/>
<rect x="107.55" y="153.9" width="0.9" height="4.3" fill="#e99622" fill-opacity="0.45"/>
<rect x="108.9" y="153.9" width="0.9" height="4.3" fill="#e99622" fill-opacity="0.8"/>
<rect x="110.4" y="153.9" width="0.9" height="4.3" fill="#e99622" fill-opacity="0.25"/>
<rect x="113.9" y="153.9" width="0.9" height="4.3" fill="#e99622" fill-opacity="0.35"/>
<rect x="115.25" y="153.9" width="0.9" height="4.3" fill="#e99622" fill-opacity="0.8"/>
<rect x="118.8" y="153.9" width="0.9" height="4.3" fill="#e99622" fill-opacity="0.8"/>
<rect x="120" y="153.9" width="0.9" height="4.3" fill="#e99622" fill-opacity="0.45"/>
<rect x="125.6" y="153.9" width="0.9" height="4.3" fill="#e99622" fill-opacity="0.55"/>
<rect x="126.95" y="153.9" width="0.9" height="4.3" fill="#e99622" fill-opacity="0.25"/>
<rect x="130.5" y="153.9" width="0.9" height="4.3" fill="#e99622" fill-opacity="0.95"/>
<rect x="131.85" y="153.9" width="0.9" height="4.3" fill="#e99622" fill-opacity="0.65"/>
<rect x="138.4" y="153.9" width="0.9" height="4.3" fill="#e99622" fill-opacity="0.8"/>
<rect x="139.6" y="153.9" width="0.9" height="4.3" fill="#e99622" fill-opacity="0.8"/>
<rect x="140.95" y="153.9" width="0.9" height="4.3" fill="#e99622" fill-opacity="0.95"/>
<rect x="145.3" y="153.9" width="0.9" height="4.3" fill="#e99622" fill-opacity="0.55"/>
<rect x="146.65" y="153.9" width="0.9" height="4.3" fill="#e99622" fill-opacity="0.25"/>
<rect x="147.85" y="153.9" width="0.9" height="4.3" fill="#e99622" fill-opacity="0.45"/>
<rect x="149.35" y="153.9" width="0.9" height="4.3" fill="#e99622" fill-opacity="0.35"/>
<rect x="153" y="153.9" width="0.9" height="4.3" fill="#e99622" fill-opacity="0.8"/>
<rect x="154.2" y="153.9" width="0.9" height="4.3" fill="#e99622" fill-opacity="0.65"/>
<rect x="155.55" y="153.9" width="0.9" height="4.3" fill="#e99622" fill-opacity="0.25"/>
<rect x="159.6" y="153.9" width="0.9" height="4.3" fill="#e99622" fill-opacity="0.55"/>
<rect x="163" y="153.9" width="0.9" height="4.3" fill="#e99622" fill-opacity="0.35"/>
<rect x="168.8" y="153.9" width="0.9" height="4.3" fill="#e99622" fill-opacity="0.55"/>
<rect x="170.3" y="153.9" width="0.9" height="4.3" fill="#e99622" fill-opacity="0.25"/>
<rect x="171.8" y="153.9" width="0.9" height="4.3" fill="#e99622" fill-opacity="0.95"/>
<rect x="174" y="153.9" width="0.9" height="4.3" fill="#e99622" fill-opacity="0.65"/>
<rect x="175.35" y="153.9" width="0.9" height="4.3" fill="#e99622" fill-opacity="0.55"/>
<rect x="176.85" y="153.9" width="0.9" height="4.3" fill="#e99622" fill-opacity="0.55"/>
<rect x="179.8" y="153.9" width="0.9" height="4.3" fill="#e99622" fill-opacity="0.8"/>
<rect x="181" y="153.9" width="0.9" height="4.3" fill="#e99622" fill-opacity="0.55"/>
<rect x="183.8" y="153.9" width="0.9" height="4.3" fill="#e99622" fill-opacity="0.95"/>
<rect x="185" y="153.9" width="0.9" height="4.3" fill="#e99622" fill-opacity="0.8"/>
<rect x="186.5" y="153.9" width="0.9" height="4.3" fill="#e99622" fill-opacity="0.45"/>
<rect x="188" y="153.9" width="0.9" height="4.3" fill="#e99622" fill-opacity="0.25"/>
<rect x="189.6" y="153.9" width="0.9" height="4.3" fill="#e99622" fill-opacity="0.45"/>
<rect x="190.95" y="153.9" width="0.9" height="4.3" fill="#e99622" fill-opacity="0.55"/>
<rect x="192.15" y="153.9" width="0.9" height="4.3" fill="#e99622" fill-opacity="0.25"/>
<rect x="193.35" y="153.9" width="0.9" height="4.3" fill="#e99622" fill-opacity="0.55"/>
<rect x="194.7" y="153.9" width="0.9" height="4.3" fill="#e99622" fill-opacity="0.8"/>
<rect x="196.2" y="153.9" width="0.9" height="4.3" fill="#e99622" fill-opacity="0.8"/>
<rect x="197.55" y="153.9" width="0.9" height="4.3" fill="#e99622" fill-opacity="0.65"/>
<rect x="198.9" y="153.9" width="0.9" height="4.3" fill="#e99622" fill-opacity="0.25"/>
<rect x="200.1" y="153.9" width="0.9" height="4.3" fill="#e99622" fill-opacity="0.45"/>
<rect x="201.6" y="153.9" width="0.9" height="4.3" fill="#e99622" fill-opacity="0.55"/>
<rect x="204.6" y="153.9" width="0.9" height="4.3" fill="#e99622" fill-opacity="0.35"/>
<rect x="205.95" y="153.9" width="0.9" height="4.3" fill="#e99622" fill-opacity="0.55"/>
<rect x="207.15" y="153.9" width="0.9" height="4.3" fill="#e99622" fill-opacity="0.35"/>
<rect x="208.35" y="153.9" width="0.9" height="4.3" fill="#e99622" fill-opacity="0.95"/>
<rect x="211.5" y="153.9" width="0.9" height="4.3" fill="#e99622" fill-opacity="0.95"/>
<rect x="213" y="153.9" width="0.9" height="4.3" fill="#e99622" fill-opacity="0.35"/>
<rect x="214.35" y="153.9" width="0.9" height="4.3" fill="#e99622" fill-opacity="0.8"/>
<rect x="216" y="153.9" width="0.9" height="4.3" fill="#e99622" fill-opacity="0.8"/>
<rect x="217.2" y="153.9" width="0.9" height="4.3" fill="#e99622" fill-opacity="0.95"/>
<rect x="221" y="153.9" width="0.9" height="4.3" fill="#e99622" fill-opacity="0.45"/>
<rect x="222.5" y="153.9" width="0.9" height="4.3" fill="#e99622" fill-opacity="0.8"/>
<rect x="226.2" y="153.9" width="0.9" height="4.3" fill="#e99622" fill-opacity="0.55"/>
<rect x="227.55" y="153.9" width="0.9" height="4.3" fill="#e99622" fill-opacity="0.95"/>
<rect x="230.2" y="153.9" width="0.9" height="4.3" fill="#e99622" fill-opacity="0.8"/>
<rect x="233.7" y="153.9" width="0.9" height="4.3" fill="#e99622" fill-opacity="0.95"/>
<rect x="235.05" y="153.9" width="0.9" height="4.3" fill="#e99622" fill-opacity="0.45"/>
<rect x="236.25" y="153.9" width="0.9" height="4.3" fill="#e99622" fill-opacity="0.45"/>
<rect x="241.7" y="153.9" width="0.9" height="4.3" fill="#e99622" fill-opacity="0.55"/>
<rect x="243.2" y="153.9" width="0.9" height="4.3" fill="#e99622" fill-opacity="0.45"/>
<rect x="244.55" y="153.9" width="0.9" height="4.3" fill="#e99622" fill-opacity="0.8"/>
<rect x="245.75" y="153.9" width="0.9" height="4.3" fill="#e99622" fill-opacity="0.55"/>
<rect x="246.95" y="153.9" width="0.9" height="4.3" fill="#e99622" fill-opacity="0.95"/>
<rect x="248.45" y="153.9" width="0.9" height="4.3" fill="#e99622" fill-opacity="0.95"/>
<rect x="252" y="153.9" width="0.9" height="4.3" fill="#e99622" fill-opacity="0.45"/>
<rect x="253.2" y="153.9" width="0.9" height="4.3" fill="#e99622" fill-opacity="0.8"/>
<rect x="254.55" y="153.9" width="0.9" height="4.3" fill="#e99622" fill-opacity="0.45"/>
<rect x="258" y="153.9" width="0.9" height="4.3" fill="#e99622" fill-opacity="0.55"/>
<rect x="61" y="159.3" width="0.9" height="4.3" fill="#4e5a72" fill-opacity="0.45"/>
<rect x="62.5" y="159.3" width="0.9" height="4.3" fill="#4e5a72" fill-opacity="0.65"/>
<rect x="63.7" y="159.3" width="0.9" height="4.3" fill="#4e5a72" fill-opacity="0.65"/>
<rect x="65.05" y="159.3" width="0.9" height="4.3" fill="#4e5a72" fill-opacity="0.45"/>
<rect x="66.25" y="159.3" width="0.9" height="4.3" fill="#4e5a72" fill-opacity="0.65"/>
<rect x="70.7" y="159.3" width="0.9" height="4.3" fill="#4e5a72" fill-opacity="0.65"/>
<rect x="77.6" y="159.3" width="0.9" height="4.3" fill="#4e5a72" fill-opacity="0.2"/>
<rect x="81.5" y="159.3" width="0.9" height="4.3" fill="#4e5a72" fill-opacity="0.2"/>
<rect x="85.5" y="159.3" width="0.9" height="4.3" fill="#4e5a72" fill-opacity="0.2"/>
<rect x="90.4" y="159.3" width="0.9" height="4.3" fill="#4e5a72" fill-opacity="0.4"/>
<rect x="97.2" y="159.3" width="0.9" height="4.3" fill="#4e5a72" fill-opacity="0.2"/>
<rect x="100.2" y="159.3" width="0.9" height="4.3" fill="#4e5a72" fill-opacity="0.3"/>
<rect x="105" y="159.3" width="0.9" height="4.3" fill="#4e5a72" fill-opacity="0.3"/>
<rect x="112" y="159.3" width="0.9" height="4.3" fill="#4e5a72" fill-opacity="0.4"/>
<rect x="113.2" y="159.3" width="0.9" height="4.3" fill="#4e5a72" fill-opacity="0.3"/>
<rect x="117.8" y="159.3" width="0.9" height="4.3" fill="#4e5a72" fill-opacity="0.3"/>
<rect x="120.7" y="159.3" width="0.9" height="4.3" fill="#4e5a72" fill-opacity="0.2"/>
<rect x="128.6" y="159.3" width="0.9" height="4.3" fill="#4e5a72" fill-opacity="0.4"/>
<rect x="150.2" y="159.3" width="0.9" height="4.3" fill="#4e5a72" fill-opacity="0.5"/>
<rect x="151.7" y="159.3" width="0.9" height="4.3" fill="#4e5a72" fill-opacity="0.3"/>
<rect x="153.2" y="159.3" width="0.9" height="4.3" fill="#4e5a72" fill-opacity="0.2"/>
<rect x="157.3" y="159.3" width="0.9" height="4.3" fill="#4e5a72" fill-opacity="0.5"/>
<rect x="168.3" y="159.3" width="0.9" height="4.3" fill="#4e5a72" fill-opacity="0.2"/>
<rect x="185.6" y="159.3" width="0.9" height="4.3" fill="#4e5a72" fill-opacity="0.2"/>
<rect x="194.2" y="159.3" width="0.9" height="4.3" fill="#4e5a72" fill-opacity="0.5"/>
<rect x="200.6" y="159.3" width="0.9" height="4.3" fill="#4e5a72" fill-opacity="0.3"/>
<rect x="202.9" y="159.3" width="0.9" height="4.3" fill="#4e5a72" fill-opacity="0.5"/>
<rect x="208.7" y="159.3" width="0.9" height="4.3" fill="#4e5a72" fill-opacity="0.2"/>
<rect x="210.05" y="159.3" width="0.9" height="4.3" fill="#4e5a72" fill-opacity="0.5"/>
<rect x="214.6" y="159.3" width="0.9" height="4.3" fill="#4e5a72" fill-opacity="0.5"/>
<rect x="215.8" y="159.3" width="0.9" height="4.3" fill="#4e5a72" fill-opacity="0.5"/>
<rect x="217" y="159.3" width="0.9" height="4.3" fill="#4e5a72" fill-opacity="0.2"/>
<rect x="222.1" y="159.3" width="0.9" height="4.3" fill="#4e5a72" fill-opacity="0.4"/>
<rect x="233" y="159.3" width="0.9" height="4.3" fill="#4e5a72" fill-opacity="0.5"/>
<rect x="242.3" y="159.3" width="0.9" height="4.3" fill="#4e5a72" fill-opacity="0.4"/>
<rect x="245.8" y="159.3" width="0.9" height="4.3" fill="#4e5a72" fill-opacity="0.4"/>
<rect x="252.7" y="159.3" width="0.9" height="4.3" fill="#4e5a72" fill-opacity="0.5"/>
<rect x="61" y="164.6" width="0.9" height="4.3" fill="#6db34b" fill-opacity="0.5"/>
<rect x="62.2" y="164.6" width="0.9" height="4.3" fill="#6db34b" fill-opacity="1.0"/>
<rect x="63.55" y="164.6" width="0.9" height="4.3" fill="#6db34b" fill-opacity="1.0"/>
<rect x="65.05" y="164.6" width="0.9" height="4.3" fill="#6db34b" fill-opacity="0.5"/>
<rect x="66.25" y="164.6" width="0.9" height="4.3" fill="#6db34b" fill-opacity="0.9"/>
<rect x="68.8" y="164.6" width="0.9" height="4.3" fill="#6db34b" fill-opacity="1.0"/>
<rect x="70.3" y="164.6" width="0.9" height="4.3" fill="#6db34b" fill-opacity="0.7"/>
<rect x="71.5" y="164.6" width="0.9" height="4.3" fill="#6db34b" fill-opacity="0.9"/>
<rect x="72.85" y="164.6" width="0.9" height="4.3" fill="#6db34b" fill-opacity="0.8"/>
<rect x="74.05" y="164.6" width="0.9" height="4.3" fill="#6db34b" fill-opacity="0.5"/>
<rect x="75.25" y="164.6" width="0.9" height="4.3" fill="#6db34b" fill-opacity="1.0"/>
<rect x="77.6" y="164.6" width="0.9" height="4.3" fill="#6db34b" fill-opacity="0.8"/>
<rect x="78.8" y="164.6" width="0.9" height="4.3" fill="#6db34b" fill-opacity="0.45"/>
<rect x="80" y="164.6" width="0.9" height="4.3" fill="#6db34b" fill-opacity="0.95"/>
<rect x="84.5" y="164.6" width="0.9" height="4.3" fill="#6db34b" fill-opacity="0.45"/>
<rect x="85.85" y="164.6" width="0.9" height="4.3" fill="#6db34b" fill-opacity="0.55"/>
<rect x="90.4" y="164.6" width="0.9" height="4.3" fill="#6db34b" fill-opacity="0.65"/>
<rect x="91.6" y="164.6" width="0.9" height="4.3" fill="#6db34b" fill-opacity="0.45"/>
<rect x="92.95" y="164.6" width="0.9" height="4.3" fill="#6db34b" fill-opacity="0.45"/>
<rect x="98.2" y="164.6" width="0.9" height="4.3" fill="#6db34b" fill-opacity="0.45"/>
<rect x="99.7" y="164.6" width="0.9" height="4.3" fill="#6db34b" fill-opacity="0.25"/>
<rect x="105" y="164.6" width="0.9" height="4.3" fill="#6db34b" fill-opacity="0.45"/>
<rect x="106.35" y="164.6" width="0.9" height="4.3" fill="#6db34b" fill-opacity="0.95"/>
<rect x="107.7" y="164.6" width="0.9" height="4.3" fill="#6db34b" fill-opacity="0.55"/>
<rect x="109.05" y="164.6" width="0.9" height="4.3" fill="#6db34b" fill-opacity="0.65"/>
<rect x="112.9" y="164.6" width="0.9" height="4.3" fill="#6db34b" fill-opacity="0.95"/>
<rect x="114.4" y="164.6" width="0.9" height="4.3" fill="#6db34b" fill-opacity="0.45"/>
<rect x="116.8" y="164.6" width="0.9" height="4.3" fill="#6db34b" fill-opacity="0.8"/>
<rect x="118.15" y="164.6" width="0.9" height="4.3" fill="#6db34b" fill-opacity="0.95"/>
<rect x="119.35" y="164.6" width="0.9" height="4.3" fill="#6db34b" fill-opacity="0.45"/>
<rect x="120.55" y="164.6" width="0.9" height="4.3" fill="#6db34b" fill-opacity="0.45"/>
<rect x="126.6" y="164.6" width="0.9" height="4.3" fill="#6db34b" fill-opacity="0.45"/>
<rect x="127.8" y="164.6" width="0.9" height="4.3" fill="#6db34b" fill-opacity="0.65"/>
<rect x="132.5" y="164.6" width="0.9" height="4.3" fill="#6db34b" fill-opacity="0.25"/>
<rect x="133.7" y="164.6" width="0.9" height="4.3" fill="#6db34b" fill-opacity="0.55"/>
<rect x="135.2" y="164.6" width="0.9" height="4.3" fill="#6db34b" fill-opacity="0.65"/>
<rect x="140.4" y="164.6" width="0.9" height="4.3" fill="#6db34b" fill-opacity="0.65"/>
<rect x="141.9" y="164.6" width="0.9" height="4.3" fill="#6db34b" fill-opacity="0.25"/>
<rect x="143.25" y="164.6" width="0.9" height="4.3" fill="#6db34b" fill-opacity="0.45"/>
<rect x="150.2" y="164.6" width="0.9" height="4.3" fill="#6db34b" fill-opacity="0.25"/>
<rect x="151.4" y="164.6" width="0.9" height="4.3" fill="#6db34b" fill-opacity="0.35"/>
<rect x="156" y="164.6" width="0.9" height="4.3" fill="#6db34b" fill-opacity="0.65"/>
<rect x="157.5" y="164.6" width="0.9" height="4.3" fill="#6db34b" fill-opacity="0.25"/>
<rect x="159" y="164.6" width="0.9" height="4.3" fill="#6db34b" fill-opacity="0.65"/>
<rect x="160.5" y="164.6" width="0.9" height="4.3" fill="#6db34b" fill-opacity="0.55"/>
<rect x="162" y="164.6" width="0.9" height="4.3" fill="#6db34b" fill-opacity="0.35"/>
<rect x="166.5" y="164.6" width="0.9" height="4.3" fill="#6db34b" fill-opacity="0.8"/>
<rect x="170.6" y="164.6" width="0.9" height="4.3" fill="#6db34b" fill-opacity="0.8"/>
<rect x="174.6" y="164.6" width="0.9" height="4.3" fill="#6db34b" fill-opacity="0.8"/>
<rect x="175.8" y="164.6" width="0.9" height="4.3" fill="#6db34b" fill-opacity="0.35"/>
<rect x="177" y="164.6" width="0.9" height="4.3" fill="#6db34b" fill-opacity="0.8"/>
<rect x="182.7" y="164.6" width="0.9" height="4.3" fill="#6db34b" fill-opacity="0.55"/>
<rect x="184.2" y="164.6" width="0.9" height="4.3" fill="#6db34b" fill-opacity="0.95"/>
<rect x="185.4" y="164.6" width="0.9" height="4.3" fill="#6db34b" fill-opacity="0.25"/>
<rect x="187.3" y="164.6" width="0.9" height="4.3" fill="#6db34b" fill-opacity="0.35"/>
<rect x="188.5" y="164.6" width="0.9" height="4.3" fill="#6db34b" fill-opacity="0.55"/>
<rect x="189.7" y="164.6" width="0.9" height="4.3" fill="#6db34b" fill-opacity="0.8"/>
<rect x="190.9" y="164.6" width="0.9" height="4.3" fill="#6db34b" fill-opacity="0.45"/>
<rect x="192.1" y="164.6" width="0.9" height="4.3" fill="#6db34b" fill-opacity="0.95"/>
<rect x="196.5" y="164.6" width="0.9" height="4.3" fill="#6db34b" fill-opacity="0.65"/>
<rect x="198" y="164.6" width="0.9" height="4.3" fill="#6db34b" fill-opacity="0.45"/>
<rect x="199.35" y="164.6" width="0.9" height="4.3" fill="#6db34b" fill-opacity="0.35"/>
<rect x="201.2" y="164.6" width="0.9" height="4.3" fill="#6db34b" fill-opacity="0.25"/>
<rect x="202.55" y="164.6" width="0.9" height="4.3" fill="#6db34b" fill-opacity="0.25"/>
<rect x="204.6" y="164.6" width="0.9" height="4.3" fill="#6db34b" fill-opacity="0.65"/>
<rect x="206.1" y="164.6" width="0.9" height="4.3" fill="#6db34b" fill-opacity="0.65"/>
<rect x="207.3" y="164.6" width="0.9" height="4.3" fill="#6db34b" fill-opacity="0.55"/>
<rect x="208.7" y="164.6" width="0.9" height="4.3" fill="#6db34b" fill-opacity="0.65"/>
<rect x="209.9" y="164.6" width="0.9" height="4.3" fill="#6db34b" fill-opacity="0.95"/>
<rect x="211.1" y="164.6" width="0.9" height="4.3" fill="#6db34b" fill-opacity="0.95"/>
<rect x="215.2" y="164.6" width="0.9" height="4.3" fill="#6db34b" fill-opacity="0.65"/>
<rect x="216.7" y="164.6" width="0.9" height="4.3" fill="#6db34b" fill-opacity="0.55"/>
<rect x="219.2" y="164.6" width="0.9" height="4.3" fill="#6db34b" fill-opacity="0.25"/>
<rect x="221" y="164.6" width="0.9" height="4.3" fill="#6db34b" fill-opacity="0.8"/>
<rect x="222.35" y="164.6" width="0.9" height="4.3" fill="#6db34b" fill-opacity="0.65"/>
<rect x="223.85" y="164.6" width="0.9" height="4.3" fill="#6db34b" fill-opacity="0.8"/>
<rect x="227.3" y="164.6" width="0.9" height="4.3" fill="#6db34b" fill-opacity="0.55"/>
<rect x="229" y="164.6" width="0.9" height="4.3" fill="#6db34b" fill-opacity="0.65"/>
<rect x="230.2" y="164.6" width="0.9" height="4.3" fill="#6db34b" fill-opacity="0.25"/>
<rect x="231.7" y="164.6" width="0.9" height="4.3" fill="#6db34b" fill-opacity="0.55"/>
<rect x="233" y="164.6" width="0.9" height="4.3" fill="#6db34b" fill-opacity="0.35"/>
<rect x="236" y="164.6" width="0.9" height="4.3" fill="#6db34b" fill-opacity="0.25"/>
<rect x="238.3" y="164.6" width="0.9" height="4.3" fill="#6db34b" fill-opacity="0.25"/>
<rect x="240.6" y="164.6" width="0.9" height="4.3" fill="#6db34b" fill-opacity="0.8"/>
<rect x="242.1" y="164.6" width="0.9" height="4.3" fill="#6db34b" fill-opacity="0.25"/>
<rect x="244.6" y="164.6" width="0.9" height="4.3" fill="#6db34b" fill-opacity="0.35"/>
<rect x="248" y="164.6" width="0.9" height="4.3" fill="#6db34b" fill-opacity="0.35"/>
<rect x="249.35" y="164.6" width="0.9" height="4.3" fill="#6db34b" fill-opacity="0.25"/>
<rect x="250.7" y="164.6" width="0.9" height="4.3" fill="#6db34b" fill-opacity="0.8"/>
<rect x="252.2" y="164.6" width="0.9" height="4.3" fill="#6db34b" fill-opacity="0.35"/>
<rect x="254.4" y="164.6" width="0.9" height="4.3" fill="#6db34b" fill-opacity="0.8"/>
<rect x="257.9" y="164.6" width="0.9" height="4.3" fill="#6db34b" fill-opacity="0.35"/>
<rect x="259.1" y="164.6" width="0.9" height="4.3" fill="#6db34b" fill-opacity="0.45"/>
<rect x="61" y="170" width="0.9" height="4.3" fill="#d6178c" fill-opacity="1.0"/>
<rect x="62.5" y="170" width="0.9" height="4.3" fill="#d6178c" fill-opacity="1.0"/>
<rect x="63.7" y="170" width="0.9" height="4.3" fill="#d6178c" fill-opacity="1.0"/>
<rect x="64.9" y="170" width="0.9" height="4.3" fill="#d6178c" fill-opacity="0.7"/>
<rect x="66.4" y="170" width="0.9" height="4.3" fill="#d6178c" fill-opacity="0.9"/>
<rect x="67.9" y="170" width="0.9" height="4.3" fill="#d6178c" fill-opacity="0.8"/>
<rect x="69.25" y="170" width="0.9" height="4.3" fill="#d6178c" fill-opacity="1.0"/>
<rect x="70.6" y="170" width="0.9" height="4.3" fill="#d6178c" fill-opacity="0.5"/>
<rect x="72.1" y="170" width="0.9" height="4.3" fill="#d6178c" fill-opacity="0.5"/>
<rect x="73.3" y="170" width="0.9" height="4.3" fill="#d6178c" fill-opacity="0.5"/>
<rect x="74.5" y="170" width="0.9" height="4.3" fill="#d6178c" fill-opacity="1.0"/>
<rect x="77.6" y="170" width="0.9" height="4.3" fill="#d6178c" fill-opacity="0.95"/>
<rect x="79.1" y="170" width="0.9" height="4.3" fill="#d6178c" fill-opacity="0.25"/>
<rect x="80.45" y="170" width="0.9" height="4.3" fill="#d6178c" fill-opacity="0.45"/>
<rect x="83.5" y="170" width="0.9" height="4.3" fill="#d6178c" fill-opacity="0.8"/>
<rect x="85" y="170" width="0.9" height="4.3" fill="#d6178c" fill-opacity="0.35"/>
<rect x="92.3" y="170" width="0.9" height="4.3" fill="#d6178c" fill-opacity="0.65"/>
<rect x="93.5" y="170" width="0.9" height="4.3" fill="#d6178c" fill-opacity="0.45"/>
<rect x="99.2" y="170" width="0.9" height="4.3" fill="#d6178c" fill-opacity="0.65"/>
<rect x="100.7" y="170" width="0.9" height="4.3" fill="#d6178c" fill-opacity="0.55"/>
<rect x="103.1" y="170" width="0.9" height="4.3" fill="#d6178c" fill-opacity="0.8"/>
<rect x="104.3" y="170" width="0.9" height="4.3" fill="#d6178c" fill-opacity="0.35"/>
<rect x="105.5" y="170" width="0.9" height="4.3" fill="#d6178c" fill-opacity="0.45"/>
<rect x="109" y="170" width="0.9" height="4.3" fill="#d6178c" fill-opacity="0.35"/>
<rect x="110.5" y="170" width="0.9" height="4.3" fill="#d6178c" fill-opacity="0.95"/>
<rect x="113.9" y="170" width="0.9" height="4.3" fill="#d6178c" fill-opacity="0.55"/>
<rect x="115.25" y="170" width="0.9" height="4.3" fill="#d6178c" fill-opacity="0.95"/>
<rect x="118.8" y="170" width="0.9" height="4.3" fill="#d6178c" fill-opacity="0.45"/>
<rect x="120.3" y="170" width="0.9" height="4.3" fill="#d6178c" fill-opacity="0.45"/>
<rect x="121.65" y="170" width="0.9" height="4.3" fill="#d6178c" fill-opacity="0.45"/>
<rect x="124.7" y="170" width="0.9" height="4.3" fill="#d6178c" fill-opacity="0.65"/>
<rect x="126.2" y="170" width="0.9" height="4.3" fill="#d6178c" fill-opacity="0.8"/>
<rect x="127.7" y="170" width="0.9" height="4.3" fill="#d6178c" fill-opacity="0.45"/>
<rect x="132.5" y="170" width="0.9" height="4.3" fill="#d6178c" fill-opacity="0.8"/>
<rect x="133.7" y="170" width="0.9" height="4.3" fill="#d6178c" fill-opacity="0.95"/>
<rect x="134.9" y="170" width="0.9" height="4.3" fill="#d6178c" fill-opacity="0.65"/>
<rect x="136.25" y="170" width="0.9" height="4.3" fill="#d6178c" fill-opacity="0.65"/>
<rect x="137.6" y="170" width="0.9" height="4.3" fill="#d6178c" fill-opacity="0.35"/>
<rect x="138.95" y="170" width="0.9" height="4.3" fill="#d6178c" fill-opacity="0.55"/>
<rect x="142.3" y="170" width="0.9" height="4.3" fill="#d6178c" fill-opacity="0.55"/>
<rect x="143.8" y="170" width="0.9" height="4.3" fill="#d6178c" fill-opacity="0.95"/>
<rect x="145" y="170" width="0.9" height="4.3" fill="#d6178c" fill-opacity="0.95"/>
<rect x="146.35" y="170" width="0.9" height="4.3" fill="#d6178c" fill-opacity="0.45"/>
<rect x="147.85" y="170" width="0.9" height="4.3" fill="#d6178c" fill-opacity="0.25"/>
<rect x="151.1" y="170" width="0.9" height="4.3" fill="#d6178c" fill-opacity="0.45"/>
<rect x="152.45" y="170" width="0.9" height="4.3" fill="#d6178c" fill-opacity="0.55"/>
<rect x="153.65" y="170" width="0.9" height="4.3" fill="#d6178c" fill-opacity="0.65"/>
<rect x="154.85" y="170" width="0.9" height="4.3" fill="#d6178c" fill-opacity="0.45"/>
<rect x="156.05" y="170" width="0.9" height="4.3" fill="#d6178c" fill-opacity="0.95"/>
<rect x="160.2" y="170" width="0.9" height="4.3" fill="#d6178c" fill-opacity="0.35"/>
<rect x="163" y="170" width="0.9" height="4.3" fill="#d6178c" fill-opacity="0.95"/>
<rect x="166" y="170" width="0.9" height="4.3" fill="#d6178c" fill-opacity="0.8"/>
<rect x="168.8" y="170" width="0.9" height="4.3" fill="#d6178c" fill-opacity="0.45"/>
<rect x="170.3" y="170" width="0.9" height="4.3" fill="#d6178c" fill-opacity="0.25"/>
<rect x="171.8" y="170" width="0.9" height="4.3" fill="#d6178c" fill-opacity="0.65"/>
<rect x="174.6" y="170" width="0.9" height="4.3" fill="#d6178c" fill-opacity="0.95"/>
<rect x="181" y="170" width="0.9" height="4.3" fill="#d6178c" fill-opacity="0.35"/>
<rect x="185" y="170" width="0.9" height="4.3" fill="#d6178c" fill-opacity="0.35"/>
<rect x="187.9" y="170" width="0.9" height="4.3" fill="#d6178c" fill-opacity="0.65"/>
<rect x="189.1" y="170" width="0.9" height="4.3" fill="#d6178c" fill-opacity="0.8"/>
<rect x="190.45" y="170" width="0.9" height="4.3" fill="#d6178c" fill-opacity="0.55"/>
<rect x="193" y="170" width="0.9" height="4.3" fill="#d6178c" fill-opacity="0.35"/>
<rect x="194.35" y="170" width="0.9" height="4.3" fill="#d6178c" fill-opacity="0.65"/>
<rect x="196.5" y="170" width="0.9" height="4.3" fill="#d6178c" fill-opacity="0.95"/>
<rect x="199.4" y="170" width="0.9" height="4.3" fill="#d6178c" fill-opacity="0.55"/>
<rect x="203.5" y="170" width="0.9" height="4.3" fill="#d6178c" fill-opacity="0.25"/>
<rect x="207.5" y="170" width="0.9" height="4.3" fill="#d6178c" fill-opacity="0.95"/>
<rect x="211" y="170" width="0.9" height="4.3" fill="#d6178c" fill-opacity="0.95"/>
<rect x="212.2" y="170" width="0.9" height="4.3" fill="#d6178c" fill-opacity="0.35"/>
<rect x="213.5" y="170" width="0.9" height="4.3" fill="#d6178c" fill-opacity="0.65"/>
<rect x="217" y="170" width="0.9" height="4.3" fill="#d6178c" fill-opacity="0.45"/>
<rect x="218.5" y="170" width="0.9" height="4.3" fill="#d6178c" fill-opacity="0.45"/>
<rect x="221" y="170" width="0.9" height="4.3" fill="#d6178c" fill-opacity="0.65"/>
<rect x="223.8" y="170" width="0.9" height="4.3" fill="#d6178c" fill-opacity="0.35"/>
<rect x="227.3" y="170" width="0.9" height="4.3" fill="#d6178c" fill-opacity="0.35"/>
<rect x="228.5" y="170" width="0.9" height="4.3" fill="#d6178c" fill-opacity="0.25"/>
<rect x="229.7" y="170" width="0.9" height="4.3" fill="#d6178c" fill-opacity="0.95"/>
<rect x="231.2" y="170" width="0.9" height="4.3" fill="#d6178c" fill-opacity="0.45"/>
<rect x="234.8" y="170" width="0.9" height="4.3" fill="#d6178c" fill-opacity="0.65"/>
<rect x="238.8" y="170" width="0.9" height="4.3" fill="#d6178c" fill-opacity="0.45"/>
<rect x="240.15" y="170" width="0.9" height="4.3" fill="#d6178c" fill-opacity="0.95"/>
<rect x="245.8" y="170" width="0.9" height="4.3" fill="#d6178c" fill-opacity="0.95"/>
<rect x="247" y="170" width="0.9" height="4.3" fill="#d6178c" fill-opacity="0.35"/>
<rect x="248.2" y="170" width="0.9" height="4.3" fill="#d6178c" fill-opacity="0.55"/>
<rect x="251" y="170" width="0.9" height="4.3" fill="#d6178c" fill-opacity="0.95"/>
<rect x="253.8" y="170" width="0.9" height="4.3" fill="#d6178c" fill-opacity="0.45"/>
<rect x="257.9" y="170" width="0.9" height="4.3" fill="#d6178c" fill-opacity="0.55"/>
<rect x="259.1" y="170" width="0.9" height="4.3" fill="#d6178c" fill-opacity="0.35"/>
<rect x="260.45" y="170" width="0.9" height="4.3" fill="#d6178c" fill-opacity="0.65"/>
<text x="66.6" y="184.4" font-size="8.2" fill="#231f20" stroke="#231f20" textLength="10.6" lengthAdjust="spacingAndGlyphs">Cfz</text>
<line x1="82" y1="181.5" x2="229.6" y2="181.5" stroke="#231f20" stroke-width="1.5"/>
<path d="M79.5 181.5 L86.5 178.6 L85.2 181.5 L86.5 184.4 Z" fill="#231f20" stroke="none" stroke-width="1"/>
<text x="232.8" y="184.4" font-size="8.2" fill="#231f20" stroke="#231f20" textLength="21.4" lengthAdjust="spacingAndGlyphs">DMSO</text>
<text x="226.5" y="28.1" font-size="7.3" fill="#231f20" stroke="#231f20" textLength="13.6" lengthAdjust="spacingAndGlyphs">NES</text>
<text x="247.2" y="28.1" font-size="7.3" fill="#231f20" stroke="#231f20" textLength="18.3" lengthAdjust="spacingAndGlyphs">FDR q</text>
<line x1="222.2" y1="29.5" x2="267.6" y2="29.5" stroke="#231f20" stroke-width="1"/>
<line x1="243.5" y1="20.6" x2="243.5" y2="84" stroke="#231f20" stroke-width="1"/>
<text x="220.6" y="37" font-size="7.4" text-anchor="end" fill="#b3173f" stroke="#b3173f" textLength="40.6" lengthAdjust="spacingAndGlyphs">p53 pathway</text>
<text x="224.9" y="37" font-size="7.4" fill="#231f20" stroke="#231f20" textLength="13.5" lengthAdjust="spacingAndGlyphs">1.64</text>
<text x="249.8" y="37" font-size="7.4" fill="#231f20" stroke="#231f20" textLength="12.8" lengthAdjust="spacingAndGlyphs">0.27</text>
<text x="220.6" y="46.1" font-size="7.4" text-anchor="end" fill="#3a5a9b" stroke="#3a5a9b" textLength="25.1" lengthAdjust="spacingAndGlyphs">Hypoxia</text>
<text x="224.9" y="46.1" font-size="7.4" fill="#231f20" stroke="#231f20" textLength="13.5" lengthAdjust="spacingAndGlyphs">1.62</text>
<text x="249.8" y="46.1" font-size="7.4" fill="#231f20" stroke="#231f20" textLength="12.8" lengthAdjust="spacingAndGlyphs">0.16</text>
<text x="220.6" y="55.2" font-size="7.4" text-anchor="end" fill="#e99622" stroke="#e99622" textLength="59.3" lengthAdjust="spacingAndGlyphs">MTORC1 signaling</text>
<text x="224.9" y="55.2" font-size="7.4" fill="#231f20" stroke="#231f20" textLength="13.5" lengthAdjust="spacingAndGlyphs">1.55</text>
<text x="249.8" y="55.2" font-size="7.4" fill="#231f20" stroke="#231f20" textLength="12.8" lengthAdjust="spacingAndGlyphs">0.17</text>
<text x="220.6" y="64.3" font-size="7.4" text-anchor="end" fill="#4e5a72" stroke="#4e5a72" textLength="41.8" lengthAdjust="spacingAndGlyphs">ROS pathway</text>
<text x="224.9" y="64.3" font-size="7.4" fill="#231f20" stroke="#231f20" textLength="13.5" lengthAdjust="spacingAndGlyphs">1.55</text>
<text x="249.8" y="64.3" font-size="7.4" fill="#231f20" stroke="#231f20" textLength="12.8" lengthAdjust="spacingAndGlyphs">0.15</text>
<text x="220.6" y="73.4" font-size="7.4" text-anchor="end" fill="#6db34b" stroke="#6db34b" textLength="46.8" lengthAdjust="spacingAndGlyphs">IFN-&#947; response</text>
<text x="224.9" y="73.4" font-size="7.4" fill="#231f20" stroke="#231f20" textLength="13.5" lengthAdjust="spacingAndGlyphs">1.52</text>
<text x="249.8" y="73.4" font-size="7.4" fill="#231f20" stroke="#231f20" textLength="12.8" lengthAdjust="spacingAndGlyphs">0.15</text>
<text x="220.6" y="82.5" font-size="7.4" text-anchor="end" fill="#d6178c" stroke="#d6178c" textLength="31.8" lengthAdjust="spacingAndGlyphs">Apoptosis</text>
<text x="224.9" y="82.5" font-size="7.4" fill="#231f20" stroke="#231f20" textLength="13.5" lengthAdjust="spacingAndGlyphs">1.52</text>
<text x="249.8" y="82.5" font-size="7.4" fill="#231f20" stroke="#231f20" textLength="12.8" lengthAdjust="spacingAndGlyphs">0.13</text>
<rect x="317.6" y="36" width="13.57" height="10.25" fill="#0b63bf"/>
<rect x="331.17" y="36" width="13.57" height="10.25" fill="#1e74c6"/>
<rect x="344.73" y="36" width="13.57" height="10.25" fill="#0b63bf"/>
<rect x="358.3" y="36" width="13.57" height="10.25" fill="#ff0000"/>
<rect x="371.87" y="36" width="13.57" height="10.25" fill="#ff0000"/>
<rect x="385.43" y="36" width="13.57" height="10.25" fill="#ff0000"/>
<rect x="317.6" y="46.25" width="13.57" height="10.25" fill="#0b63bf"/>
<rect x="331.17" y="46.25" width="13.57" height="10.25" fill="#2a7ecb"/>
<rect x="344.73" y="46.25" width="13.57" height="10.25" fill="#0b63bf"/>
<rect x="358.3" y="46.25" width="13.57" height="10.25" fill="#ff0000"/>
<rect x="371.87" y="46.25" width="13.57" height="10.25" fill="#ff0a0a"/>
<rect x="385.43" y="46.25" width="13.57" height="10.25" fill="#ff0505"/>
<rect x="317.6" y="56.51" width="13.57" height="10.25" fill="#d3e3f3"/>
<rect x="331.17" y="56.51" width="13.57" height="10.25" fill="#a6c9e8"/>
<rect x="344.73" y="56.51" width="13.57" height="10.25" fill="#d3e3f3"/>
<rect x="358.3" y="56.51" width="13.57" height="10.25" fill="#ffc5c9"/>
<rect x="371.87" y="56.51" width="13.57" height="10.25" fill="#ffd1d4"/>
<rect x="385.43" y="56.51" width="13.57" height="10.25" fill="#ffb1b5"/>
<rect x="317.6" y="66.76" width="13.57" height="10.25" fill="#3d89cf"/>
<rect x="331.17" y="66.76" width="13.57" height="10.25" fill="#4d93d3"/>
<rect x="344.73" y="66.76" width="13.57" height="10.25" fill="#3d89cf"/>
<rect x="358.3" y="66.76" width="13.57" height="10.25" fill="#ff4a4a"/>
<rect x="371.87" y="66.76" width="13.57" height="10.25" fill="#ff4d4d"/>
<rect x="385.43" y="66.76" width="13.57" height="10.25" fill="#ff4646"/>
<rect x="317.6" y="77.02" width="13.57" height="10.25" fill="#4f96d5"/>
<rect x="331.17" y="77.02" width="13.57" height="10.25" fill="#62a2da"/>
<rect x="344.73" y="77.02" width="13.57" height="10.25" fill="#4a93d4"/>
<rect x="358.3" y="77.02" width="13.57" height="10.25" fill="#ff5858"/>
<rect x="371.87" y="77.02" width="13.57" height="10.25" fill="#ff5555"/>
<rect x="385.43" y="77.02" width="13.57" height="10.25" fill="#ff5a5a"/>
<rect x="317.6" y="87.27" width="13.57" height="10.25" fill="#68a5db"/>
<rect x="331.17" y="87.27" width="13.57" height="10.25" fill="#0b63bf"/>
<rect x="344.73" y="87.27" width="13.57" height="10.25" fill="#77aede"/>
<rect x="358.3" y="87.27" width="13.57" height="10.25" fill="#ff4848"/>
<rect x="371.87" y="87.27" width="13.57" height="10.25" fill="#ff3838"/>
<rect x="385.43" y="87.27" width="13.57" height="10.25" fill="#ff4747"/>
<rect x="317.6" y="97.53" width="13.57" height="10.25" fill="#3283cd"/>
<rect x="331.17" y="97.53" width="13.57" height="10.25" fill="#c7dbf0"/>
<rect x="344.73" y="97.53" width="13.57" height="10.25" fill="#0b63bf"/>
<rect x="358.3" y="97.53" width="13.57" height="10.25" fill="#ff3232"/>
<rect x="371.87" y="97.53" width="13.57" height="10.25" fill="#ff0000"/>
<rect x="385.43" y="97.53" width="13.57" height="10.25" fill="#ff0000"/>
<rect x="317.6" y="107.78" width="13.57" height="10.25" fill="#7fb2df"/>
<rect x="331.17" y="107.78" width="13.57" height="10.25" fill="#69a6dc"/>
<rect x="344.73" y="107.78" width="13.57" height="10.25" fill="#5c9dd8"/>
<rect x="358.3" y="107.78" width="13.57" height="10.25" fill="#ff7a7a"/>
<rect x="371.87" y="107.78" width="13.57" height="10.25" fill="#ff6e6e"/>
<rect x="385.43" y="107.78" width="13.57" height="10.25" fill="#ff6a6a"/>
<rect x="317.6" y="118.04" width="13.57" height="10.25" fill="#7fb2df"/>
<rect x="331.17" y="118.04" width="13.57" height="10.25" fill="#88b8e2"/>
<rect x="344.73" y="118.04" width="13.57" height="10.25" fill="#75acdd"/>
<rect x="358.3" y="118.04" width="13.57" height="10.25" fill="#ff8181"/>
<rect x="371.87" y="118.04" width="13.57" height="10.25" fill="#ff7b7b"/>
<rect x="385.43" y="118.04" width="13.57" height="10.25" fill="#ff7070"/>
<rect x="317.6" y="128.29" width="13.57" height="10.25" fill="#9fc5e7"/>
<rect x="331.17" y="128.29" width="13.57" height="10.25" fill="#7fb2df"/>
<rect x="344.73" y="128.29" width="13.57" height="10.25" fill="#9fc5e7"/>
<rect x="358.3" y="128.29" width="13.57" height="10.25" fill="#ff9797"/>
<rect x="371.87" y="128.29" width="13.57" height="10.25" fill="#ff9191"/>
<rect x="385.43" y="128.29" width="13.57" height="10.25" fill="#ff8a8a"/>
<rect x="317.6" y="138.55" width="13.57" height="10.25" fill="#afcfec"/>
<rect x="331.17" y="138.55" width="13.57" height="10.25" fill="#69a6dc"/>
<rect x="344.73" y="138.55" width="13.57" height="10.25" fill="#afcfec"/>
<rect x="358.3" y="138.55" width="13.57" height="10.25" fill="#ffa1a1"/>
<rect x="371.87" y="138.55" width="13.57" height="10.25" fill="#ff9a9a"/>
<rect x="385.43" y="138.55" width="13.57" height="10.25" fill="#ff9494"/>
<line x1="331.17" y1="36" x2="331.17" y2="148.8" stroke="#ffffff" stroke-width="0.7" stroke-opacity="0.55"/>
<line x1="344.73" y1="36" x2="344.73" y2="148.8" stroke="#ffffff" stroke-width="0.7" stroke-opacity="0.55"/>
<line x1="358.3" y1="36" x2="358.3" y2="148.8" stroke="#ffffff" stroke-width="0.7" stroke-opacity="0.55"/>
<line x1="371.87" y1="36" x2="371.87" y2="148.8" stroke="#ffffff" stroke-width="0.7" stroke-opacity="0.55"/>
<line x1="385.43" y1="36" x2="385.43" y2="148.8" stroke="#ffffff" stroke-width="0.7" stroke-opacity="0.55"/>
<line x1="317.6" y1="46.25" x2="399" y2="46.25" stroke="#ffffff" stroke-width="0.7" stroke-opacity="0.55"/>
<line x1="317.6" y1="56.51" x2="399" y2="56.51" stroke="#ffffff" stroke-width="0.7" stroke-opacity="0.55"/>
<line x1="317.6" y1="66.76" x2="399" y2="66.76" stroke="#ffffff" stroke-width="0.7" stroke-opacity="0.55"/>
<line x1="317.6" y1="77.02" x2="399" y2="77.02" stroke="#ffffff" stroke-width="0.7" stroke-opacity="0.55"/>
<line x1="317.6" y1="87.27" x2="399" y2="87.27" stroke="#ffffff" stroke-width="0.7" stroke-opacity="0.55"/>
<line x1="317.6" y1="97.53" x2="399" y2="97.53" stroke="#ffffff" stroke-width="0.7" stroke-opacity="0.55"/>
<line x1="317.6" y1="107.78" x2="399" y2="107.78" stroke="#ffffff" stroke-width="0.7" stroke-opacity="0.55"/>
<line x1="317.6" y1="118.04" x2="399" y2="118.04" stroke="#ffffff" stroke-width="0.7" stroke-opacity="0.55"/>
<line x1="317.6" y1="128.29" x2="399" y2="128.29" stroke="#ffffff" stroke-width="0.7" stroke-opacity="0.55"/>
<line x1="317.6" y1="138.55" x2="399" y2="138.55" stroke="#ffffff" stroke-width="0.7" stroke-opacity="0.55"/>
<text x="314" y="44.43" font-size="7.6" text-anchor="end" fill="#231f20" stroke="#231f20" textLength="22.2" lengthAdjust="spacingAndGlyphs">SRXN1</text>
<text x="314" y="54.68" font-size="7.6" text-anchor="end" fill="#231f20" stroke="#231f20" textLength="11.2" lengthAdjust="spacingAndGlyphs">FTL</text>
<text x="314" y="64.94" font-size="7.6" text-anchor="end" fill="#231f20" stroke="#231f20" textLength="17.8" lengthAdjust="spacingAndGlyphs">GLRX</text>
<text x="314" y="75.19" font-size="7.6" text-anchor="end" fill="#231f20" stroke="#231f20" textLength="18.9" lengthAdjust="spacingAndGlyphs">SOD1</text>
<text x="314" y="85.45" font-size="7.6" text-anchor="end" fill="#231f20" stroke="#231f20" textLength="14.1" lengthAdjust="spacingAndGlyphs">GSR</text>
<text x="314" y="95.7" font-size="7.6" text-anchor="end" fill="#231f20" stroke="#231f20" textLength="19.9" lengthAdjust="spacingAndGlyphs">GCLM</text>
<text x="314" y="105.95" font-size="7.6" text-anchor="end" fill="#231f20" stroke="#231f20" textLength="12.3" lengthAdjust="spacingAndGlyphs">FES</text>
<text x="314" y="116.21" font-size="7.6" text-anchor="end" fill="#231f20" stroke="#231f20" textLength="21.6" lengthAdjust="spacingAndGlyphs">NQO1</text>
<text x="314" y="126.46" font-size="7.6" text-anchor="end" fill="#231f20" stroke="#231f20" textLength="22.2" lengthAdjust="spacingAndGlyphs">PRDX1</text>
<text x="314" y="136.72" font-size="7.6" text-anchor="end" fill="#231f20" stroke="#231f20" textLength="27.3" lengthAdjust="spacingAndGlyphs">TXNRD1</text>
<text x="314" y="146.97" font-size="7.6" text-anchor="end" fill="#231f20" stroke="#231f20" textLength="18.4" lengthAdjust="spacingAndGlyphs">PRNP</text>
<text x="339.4" y="30.3" font-size="7.3" text-anchor="middle" fill="#231f20" stroke="#231f20" textLength="21" lengthAdjust="spacingAndGlyphs">DMSO</text>
<text x="379" y="30.3" font-size="7.3" text-anchor="middle" fill="#231f20" stroke="#231f20" textLength="10.5" lengthAdjust="spacingAndGlyphs">Cfz</text>
<text x="358.2" y="158.9" font-size="7.3" text-anchor="middle" fill="#231f20" stroke="#231f20">Log<tspan font-size="4.8" dy="1.8">2</tspan><tspan dy="-1.8">(Fold change)</tspan></text>
<defs><linearGradient id="cb" x1="0" x2="1" y1="0" y2="0"><stop offset="0" stop-color="#0b63bf"/><stop offset="0.5" stop-color="#ffffff"/><stop offset="1" stop-color="#ff0000"/></linearGradient></defs>
<rect x="312.6" y="165" width="88.4" height="10.6" fill="url(#cb)"/>
<text x="322.5" y="186" font-size="7" text-anchor="middle" fill="#231f20" stroke="#231f20" textLength="12.5" lengthAdjust="spacingAndGlyphs">-1.3</text>
<text x="356" y="186" font-size="7" text-anchor="middle" fill="#231f20" stroke="#231f20">0</text>
<text x="392.2" y="186" font-size="7" text-anchor="middle" fill="#231f20" stroke="#231f20" textLength="9.5" lengthAdjust="spacingAndGlyphs">1.3</text>
<rect x="464.5" y="19.5" width="7.5" height="4.9" fill="#552868"/>
<text x="474.8" y="23.7" font-size="6" fill="#231f20" stroke="#231f20" textLength="18.3" lengthAdjust="spacingAndGlyphs">DMSO</text>
<rect x="464.5" y="29.3" width="7.5" height="4.8" fill="#2e4a80"/>
<text x="474.8" y="33.4" font-size="6" fill="#231f20" stroke="#231f20" textLength="9.3" lengthAdjust="spacingAndGlyphs">Cfz</text>
<line x1="446.6" y1="38.5" x2="446.6" y2="74.7" stroke="#231f20" stroke-width="1.7"/>
<line x1="443.8" y1="74.5" x2="450.3" y2="74.5" stroke="#231f20" stroke-width="1"/>
<line x1="446.6" y1="80.3" x2="446.6" y2="141.2" stroke="#231f20" stroke-width="1.7"/>
<line x1="443.8" y1="80.5" x2="450.3" y2="80.5" stroke="#231f20" stroke-width="1"/>
<line x1="444" y1="42.5" x2="446.6" y2="42.5" stroke="#231f20" stroke-width="1"/>
<text x="442.2" y="45.1" font-size="6.8" text-anchor="end" fill="#231f20" stroke="#231f20">45</text>
<line x1="444" y1="50.5" x2="446.6" y2="50.5" stroke="#231f20" stroke-width="1"/>
<text x="442.2" y="53" font-size="6.8" text-anchor="end" fill="#231f20" stroke="#231f20">40</text>
<line x1="444" y1="58.5" x2="446.6" y2="58.5" stroke="#231f20" stroke-width="1"/>
<text x="442.2" y="61.1" font-size="6.8" text-anchor="end" fill="#231f20" stroke="#231f20">35</text>
<line x1="444" y1="66.5" x2="446.6" y2="66.5" stroke="#231f20" stroke-width="1"/>
<text x="442.2" y="69" font-size="6.8" text-anchor="end" fill="#231f20" stroke="#231f20">30</text>
<text x="442.2" y="77" font-size="6.8" text-anchor="end" fill="#231f20" stroke="#231f20">25</text>
<text x="442.2" y="83.4" font-size="6.8" text-anchor="end" fill="#231f20" stroke="#231f20">10</text>
<line x1="444" y1="93.5" x2="446.6" y2="93.5" stroke="#231f20" stroke-width="1"/>
<text x="442.2" y="95.4" font-size="6.8" text-anchor="end" fill="#231f20" stroke="#231f20">8</text>
<line x1="444" y1="105.5" x2="446.6" y2="105.5" stroke="#231f20" stroke-width="1"/>
<text x="442.2" y="107.4" font-size="6.8" text-anchor="end" fill="#231f20" stroke="#231f20">6</text>
<line x1="444" y1="117.5" x2="446.6" y2="117.5" stroke="#231f20" stroke-width="1"/>
<text x="442.2" y="119.4" font-size="6.8" text-anchor="end" fill="#231f20" stroke="#231f20">4</text>
<line x1="444" y1="129.5" x2="446.6" y2="129.5" stroke="#231f20" stroke-width="1"/>
<text x="442.2" y="131.4" font-size="6.8" text-anchor="end" fill="#231f20" stroke="#231f20">2</text>
<line x1="444" y1="141.5" x2="446.6" y2="141.5" stroke="#231f20" stroke-width="1"/>
<text x="442.2" y="143.4" font-size="6.8" text-anchor="end" fill="#231f20" stroke="#231f20">0</text>
<line x1="446.6" y1="141.2" x2="510.8" y2="141.2" stroke="#231f20" stroke-width="1.7"/>
<line x1="461.5" y1="141.2" x2="461.5" y2="143.6" stroke="#231f20" stroke-width="1"/>
<line x1="495.5" y1="141.2" x2="495.5" y2="143.6" stroke="#231f20" stroke-width="1"/>
<line x1="455.5" y1="132.2" x2="455.5" y2="135" stroke="#552868" stroke-width="1"/>
<line x1="453.4" y1="132.5" x2="457.6" y2="132.5" stroke="#552868" stroke-width="1"/>
<rect x="451.7" y="135" width="7.7" height="6.2" fill="#552868"/>
<line x1="467.5" y1="96.4" x2="467.5" y2="102" stroke="#2e4a80" stroke-width="1"/>
<line x1="465.7" y1="96.5" x2="469.9" y2="96.5" stroke="#2e4a80" stroke-width="1"/>
<rect x="463.9" y="102" width="7.7" height="39.2" fill="#2e4a80"/>
<line x1="489.5" y1="132.2" x2="489.5" y2="135" stroke="#552868" stroke-width="1"/>
<line x1="487.1" y1="132.5" x2="491.3" y2="132.5" stroke="#552868" stroke-width="1"/>
<rect x="485.3" y="135" width="7.7" height="6.2" fill="#552868"/>
<line x1="502.5" y1="48.8" x2="502.5" y2="57" stroke="#2e4a80" stroke-width="1"/>
<line x1="499.9" y1="48.5" x2="504.1" y2="48.5" stroke="#2e4a80" stroke-width="1"/>
<rect x="498.1" y="56.9" width="7.7" height="17.4" fill="#2e4a80"/>
<rect x="498.1" y="81.2" width="7.7" height="60" fill="#2e4a80"/>
<line x1="454.6" y1="91.5" x2="468.8" y2="91.5" stroke="#444" stroke-width="1.6"/>
<text x="461.6" y="92.4" font-size="6.4" text-anchor="middle" fill="#231f20" stroke="#231f20">*</text>
<line x1="488.5" y1="41.2" x2="502.6" y2="41.2" stroke="#444" stroke-width="1.6"/>
<text x="495.6" y="41.2" font-size="6.4" text-anchor="middle" fill="#231f20" stroke="#231f20">**</text>
<text x="426.4" y="90.5" font-size="8.4" text-anchor="middle" fill="#231f20" stroke="#231f20" transform="rotate(-90 426.4 90.5)" textLength="83.6" lengthAdjust="spacingAndGlyphs">Relative mRNA expression</text>
<text x="461.6" y="155.7" font-size="8.2" text-anchor="middle" fill="#231f20" stroke="#231f20" textLength="27" lengthAdjust="spacingAndGlyphs">MM.1S</text>
<text x="495.2" y="155.7" font-size="8.2" text-anchor="middle" fill="#231f20" stroke="#231f20" textLength="23.6" lengthAdjust="spacingAndGlyphs">ARP-1</text>
<line x1="60.9" y1="232" x2="60.9" y2="336.3" stroke="#231f20" stroke-width="1.7"/>
<line x1="58.3" y1="335.5" x2="60.9" y2="335.5" stroke="#231f20" stroke-width="1"/>
<text x="54.4" y="338.4" font-size="7.5" text-anchor="end" fill="#231f20" stroke="#231f20">0</text>
<line x1="58.3" y1="306.5" x2="60.9" y2="306.5" stroke="#231f20" stroke-width="1"/>
<text x="54.4" y="308.77" font-size="7.5" text-anchor="end" fill="#231f20" stroke="#231f20">10</text>
<line x1="58.3" y1="276.5" x2="60.9" y2="276.5" stroke="#231f20" stroke-width="1"/>
<text x="54.4" y="279.14" font-size="7.5" text-anchor="end" fill="#231f20" stroke="#231f20">20</text>
<line x1="58.3" y1="246.5" x2="60.9" y2="246.5" stroke="#231f20" stroke-width="1"/>
<text x="54.4" y="249.51" font-size="7.5" text-anchor="end" fill="#231f20" stroke="#231f20">30</text>
<line x1="60.9" y1="335.8" x2="128.9" y2="335.8" stroke="#231f20" stroke-width="1.6"/>
<line x1="76.5" y1="335.8" x2="76.5" y2="338.2" stroke="#231f20" stroke-width="1"/>
<line x1="113.5" y1="335.8" x2="113.5" y2="338.2" stroke="#231f20" stroke-width="1"/>
<line x1="69.5" y1="331.6" x2="69.5" y2="332.5" stroke="#2e4a80" stroke-width="1"/>
<line x1="67.4" y1="331.5" x2="71.6" y2="331.5" stroke="#2e4a80" stroke-width="1"/>
<rect x="65.6" y="332.6" width="7.8" height="3.2" fill="#2e4a80"/>
<line x1="83.5" y1="332" x2="83.5" y2="333" stroke="#a6042e" stroke-width="1"/>
<line x1="81.1" y1="332.5" x2="85.3" y2="332.5" stroke="#a6042e" stroke-width="1"/>
<rect x="79.2" y="333" width="8.2" height="2.8" fill="#a6042e"/>
<line x1="106.5" y1="250.8" x2="106.5" y2="261.5" stroke="#2e4a80" stroke-width="1"/>
<line x1="104" y1="250.5" x2="108.2" y2="250.5" stroke="#2e4a80" stroke-width="1"/>
<rect x="102.2" y="261.5" width="7.8" height="74.3" fill="#2e4a80"/>
<line x1="120.5" y1="243.5" x2="120.5" y2="254.8" stroke="#a6042e" stroke-width="1"/>
<line x1="117.9" y1="243.5" x2="122.1" y2="243.5" stroke="#a6042e" stroke-width="1"/>
<rect x="116.2" y="254.8" width="7.6" height="81" fill="#a6042e"/>
<line x1="79.3" y1="216.3" x2="116.2" y2="216.3" stroke="#444" stroke-width="1.6"/>
<text x="97.8" y="217.3" font-size="6.2" text-anchor="middle" fill="#231f20" stroke="#231f20">**</text>
<line x1="65.8" y1="227.9" x2="102.2" y2="227.9" stroke="#444" stroke-width="1.6"/>
<text x="84" y="228.9" font-size="6.2" text-anchor="middle" fill="#231f20" stroke="#231f20">**</text>
<line x1="102.2" y1="239.5" x2="116.2" y2="239.5" stroke="#444" stroke-width="1.6"/>
<text x="109.2" y="238.2" font-size="5.8" text-anchor="middle" fill="#231f20" stroke="#231f20" textLength="10" lengthAdjust="spacingAndGlyphs">n.s.</text>
<line x1="69.2" y1="326.6" x2="82.7" y2="326.6" stroke="#444" stroke-width="1.6"/>
<text x="76" y="325.2" font-size="5.8" text-anchor="middle" fill="#231f20" stroke="#231f20" textLength="10" lengthAdjust="spacingAndGlyphs">n.s.</text>
<rect x="131.6" y="232.8" width="7.4" height="5.1" fill="#2e4a80"/>
<text x="140.8" y="237.9" font-size="6.6" fill="#231f20" stroke="#231f20" textLength="23" lengthAdjust="spacingAndGlyphs">CTR-KO</text>
<rect x="131.6" y="242.8" width="7.4" height="5.1" fill="#a6042e"/>
<text x="140.8" y="247.7" font-size="6.6" fill="#231f20" stroke="#231f20" textLength="22" lengthAdjust="spacingAndGlyphs">MIF-KO</text>
<text x="40.3" y="283.6" font-size="8.4" text-anchor="middle" fill="#231f20" stroke="#231f20" transform="rotate(-90 40.3 283.6)" textLength="85" lengthAdjust="spacingAndGlyphs">Relative mRNA expression</text>
<text x="76.9" y="350.3" font-size="8.4" text-anchor="middle" fill="#231f20" stroke="#231f20" textLength="24.5" lengthAdjust="spacingAndGlyphs">DMSO</text>
<text x="113.6" y="350.3" font-size="8.4" text-anchor="middle" fill="#231f20" stroke="#231f20" textLength="11.8" lengthAdjust="spacingAndGlyphs">Cfz</text>
<text x="218.6" y="216.6" font-size="7.2" text-anchor="middle" fill="#231f20" stroke="#231f20" textLength="21" lengthAdjust="spacingAndGlyphs">DMSO</text>
<line x1="207" y1="221.6" x2="231.5" y2="221.6" stroke="#231f20" stroke-width="1.4"/>
<text x="255.2" y="216.6" font-size="7.2" text-anchor="middle" fill="#231f20" stroke="#231f20" textLength="10.5" lengthAdjust="spacingAndGlyphs">Cfz</text>
<line x1="243" y1="221.6" x2="267.7" y2="221.6" stroke="#231f20" stroke-width="1.4"/>
<text x="190.6" y="247.2" font-size="7.1" fill="#231f20" stroke="#231f20" transform="rotate(-45 190.6 247.2)" textLength="26.5" lengthAdjust="spacingAndGlyphs">CTR-KO</text>
<text x="208" y="247.2" font-size="7.1" fill="#231f20" stroke="#231f20" transform="rotate(-45 208 247.2)" textLength="26.5" lengthAdjust="spacingAndGlyphs">MIF-KO</text>
<text x="225.8" y="247.2" font-size="7.1" fill="#231f20" stroke="#231f20" transform="rotate(-45 225.8 247.2)" textLength="26.5" lengthAdjust="spacingAndGlyphs">CTR-KO</text>
<text x="244.6" y="247.2" font-size="7.1" fill="#231f20" stroke="#231f20" transform="rotate(-45 244.6 247.2)" textLength="26.5" lengthAdjust="spacingAndGlyphs">MIF-KO</text>
<defs><filter id="bl" x="-50%" y="-100%" width="200%" height="300%"><feGaussianBlur stdDeviation="0.8"/></filter></defs>
<rect x="181.6" y="251.5" width="71.6" height="15.5" fill="#c4c4c4"/>
<ellipse cx="191.5" cy="260" rx="6" ry="1.3" fill="#555" fill-opacity="0.55" filter="url(#bl)"/>
<ellipse cx="208.4" cy="259.8" rx="6" ry="1.3" fill="#555" fill-opacity="0.6" filter="url(#bl)"/>
<ellipse cx="225.7" cy="259.3" rx="6.5" ry="1.7" fill="#2a2a2a" fill-opacity="0.9" filter="url(#bl)"/>
<ellipse cx="244.3" cy="258.5" rx="6" ry="1.7" fill="#2a2a2a" fill-opacity="0.85" filter="url(#bl)"/>
<rect x="181.6" y="251.5" width="71.6" height="15.5" fill="none" stroke="#111" stroke-width="1.1"/>
<rect x="182.2" y="269.2" width="71" height="15.4" fill="#bdbdbd"/>
<ellipse cx="191.6" cy="277" rx="8.75" ry="3.3" fill="#3a3a3a" fill-opacity="0.9" filter="url(#bl)"/>
<ellipse cx="208.8" cy="276.8" rx="8.5" ry="3.2" fill="#3a3a3a" fill-opacity="0.9" filter="url(#bl)"/>
<ellipse cx="226.2" cy="277.2" rx="8.75" ry="3.4" fill="#333" fill-opacity="0.92" filter="url(#bl)"/>
<ellipse cx="243.8" cy="275.8" rx="7.75" ry="3.3" fill="#333" fill-opacity="0.9" filter="url(#bl)"/>
<rect x="182.2" y="269.2" width="71" height="15.4" fill="none" stroke="#111" stroke-width="1.1"/>
<text x="256.9" y="262.6" font-size="7.6" fill="#231f20" stroke="#231f20" textLength="18.3" lengthAdjust="spacingAndGlyphs">SOD1</text>
<text x="256.8" y="279.3" font-size="7.4" fill="#231f20" stroke="#231f20" textLength="16.6" lengthAdjust="spacingAndGlyphs">Actin</text>
<text x="367.6" y="217.3" font-size="6.6" text-anchor="middle" fill="#231f20" stroke="#231f20" textLength="30" lengthAdjust="spacingAndGlyphs">IP: B8H10</text>
<line x1="294.2" y1="222.5" x2="440.8" y2="222.5" stroke="#231f20" stroke-width="1.4"/>
<text x="330" y="231.7" font-size="6.8" text-anchor="middle" fill="#231f20" stroke="#231f20" textLength="21" lengthAdjust="spacingAndGlyphs">DMSO</text>
<line x1="297" y1="236.9" x2="363" y2="236.9" stroke="#231f20" stroke-width="1.4"/>
<text x="405.7" y="231.7" font-size="6.8" text-anchor="middle" fill="#231f20" stroke="#231f20" textLength="10.5" lengthAdjust="spacingAndGlyphs">Cfz</text>
<line x1="372.7" y1="236.9" x2="438.5" y2="236.9" stroke="#231f20" stroke-width="1.4"/>
<text x="313.2" y="245.9" font-size="6.8" text-anchor="middle" fill="#231f20" stroke="#231f20" textLength="22" lengthAdjust="spacingAndGlyphs">MM.1S</text>
<line x1="298.8" y1="251.3" x2="328.2" y2="251.3" stroke="#231f20" stroke-width="1.4"/>
<text x="349" y="245.9" font-size="6.8" text-anchor="middle" fill="#231f20" stroke="#231f20" textLength="19.5" lengthAdjust="spacingAndGlyphs">ARP-1</text>
<line x1="334.6" y1="251.3" x2="363.5" y2="251.3" stroke="#231f20" stroke-width="1.4"/>
<text x="386.5" y="245.9" font-size="6.8" text-anchor="middle" fill="#231f20" stroke="#231f20" textLength="22" lengthAdjust="spacingAndGlyphs">MM.1S</text>
<line x1="372" y1="251.3" x2="401" y2="251.3" stroke="#231f20" stroke-width="1.4"/>
<text x="423.5" y="245.9" font-size="6.8" text-anchor="middle" fill="#231f20" stroke="#231f20" textLength="19.5" lengthAdjust="spacingAndGlyphs">ARP-1</text>
<line x1="409" y1="251.3" x2="437.8" y2="251.3" stroke="#231f20" stroke-width="1.4"/>
<text x="306.9" y="279.6" font-size="6.6" fill="#231f20" stroke="#231f20" transform="rotate(-90 306.9 279.6)" textLength="25" lengthAdjust="spacingAndGlyphs">CTR-KO</text>
<text x="325.3" y="279.6" font-size="6.6" fill="#231f20" stroke="#231f20" transform="rotate(-90 325.3 279.6)" textLength="23" lengthAdjust="spacingAndGlyphs">MIF-KO</text>
<text x="340.8" y="279.6" font-size="6.6" fill="#231f20" stroke="#231f20" transform="rotate(-90 340.8 279.6)" textLength="25" lengthAdjust="spacingAndGlyphs">CTR-KO</text>
<text x="359.3" y="279.6" font-size="6.6" fill="#231f20" stroke="#231f20" transform="rotate(-90 359.3 279.6)" textLength="23" lengthAdjust="spacingAndGlyphs">MIF-KO</text>
<text x="380.8" y="279.6" font-size="6.6" fill="#231f20" stroke="#231f20" transform="rotate(-90 380.8 279.6)" textLength="25" lengthAdjust="spacingAndGlyphs">CTR-KO</text>
<text x="398.8" y="279.6" font-size="6.6" fill="#231f20" stroke="#231f20" transform="rotate(-90 398.8 279.6)" textLength="23" lengthAdjust="spacingAndGlyphs">MIF-KO</text>
<text x="415.8" y="279.6" font-size="6.6" fill="#231f20" stroke="#231f20" transform="rotate(-90 415.8 279.6)" textLength="25" lengthAdjust="spacingAndGlyphs">CTR-KO</text>
<text x="434.3" y="279.6" font-size="6.6" fill="#231f20" stroke="#231f20" transform="rotate(-90 434.3 279.6)" textLength="23" lengthAdjust="spacingAndGlyphs">MIF-KO</text>
<rect x="293.9" y="283.9" width="71.7" height="15.5" fill="#b9b9b9"/>
<rect x="293.9" y="283.9" width="71.7" height="15.5" fill="none" stroke="#111" stroke-width="1.1"/>
<rect x="368.9" y="283.9" width="71.1" height="14.7" fill="#bdbdbd"/>
<ellipse cx="397.3" cy="289.6" rx="6" ry="1.1" fill="#222" fill-opacity="0.95" filter="url(#bl)"/>
<ellipse cx="433.3" cy="290.9" rx="7.5" ry="2.2" fill="#151515" fill-opacity="0.98" filter="url(#bl)"/>
<rect x="368.9" y="283.9" width="71.1" height="14.7" fill="none" stroke="#111" stroke-width="1.1"/>
<text x="444.6" y="294.3" font-size="7.4" fill="#231f20" stroke="#231f20" textLength="18" lengthAdjust="spacingAndGlyphs">SOD1</text>
<text x="367" y="307" font-size="6.6" text-anchor="middle" fill="#231f20" stroke="#231f20" textLength="14" lengthAdjust="spacingAndGlyphs">Input</text>
<line x1="293.9" y1="310" x2="439.6" y2="310" stroke="#231f20" stroke-width="1.4"/>
<rect x="293.9" y="312.3" width="71.7" height="15.6" fill="#b4b4b4"/>
<ellipse cx="303.8" cy="319.5" rx="7" ry="1.5" fill="#3a3a3a" fill-opacity="0.75" filter="url(#bl)"/>
<ellipse cx="320.8" cy="319.4" rx="6.5" ry="1.5" fill="#3a3a3a" fill-opacity="0.75" filter="url(#bl)"/>
<ellipse cx="336" cy="319.9" rx="6.5" ry="1.5" fill="#3a3a3a" fill-opacity="0.78" filter="url(#bl)"/>
<ellipse cx="353.8" cy="320.3" rx="6" ry="1.4" fill="#3a3a3a" fill-opacity="0.72" filter="url(#bl)"/>
<rect x="293.9" y="312.3" width="71.7" height="15.6" fill="none" stroke="#111" stroke-width="1.1"/>
<rect x="368.9" y="312.6" width="71.1" height="15" fill="#b4b4b4"/>
<ellipse cx="377.6" cy="318.8" rx="8.25" ry="3.3" fill="#1c1c1c" fill-opacity="0.95" filter="url(#bl)"/>
<ellipse cx="395.6" cy="319.6" rx="6.5" ry="2.9" fill="#1c1c1c" fill-opacity="0.95" filter="url(#bl)"/>
<ellipse cx="415.2" cy="318.4" rx="8.25" ry="3.1" fill="#1c1c1c" fill-opacity="0.95" filter="url(#bl)"/>
<ellipse cx="432.6" cy="318" rx="7.5" ry="3.3" fill="#1c1c1c" fill-opacity="0.95" filter="url(#bl)"/>
<rect x="368.9" y="312.6" width="71.1" height="15" fill="none" stroke="#111" stroke-width="1.1"/>
<text x="444.6" y="322.1" font-size="7.4" fill="#231f20" stroke="#231f20" textLength="18" lengthAdjust="spacingAndGlyphs">SOD1</text>
<line x1="61.2" y1="397.5" x2="61.2" y2="507.5" stroke="#231f20" stroke-width="1.7"/>
<line x1="58.4" y1="507.5" x2="61.2" y2="507.5" stroke="#231f20" stroke-width="1"/>
<text x="54.6" y="509.4" font-size="7" text-anchor="end" fill="#231f20" stroke="#231f20">0</text>
<line x1="58.4" y1="482.5" x2="61.2" y2="482.5" stroke="#231f20" stroke-width="1"/>
<text x="54.6" y="485.15" font-size="7" text-anchor="end" fill="#231f20" stroke="#231f20">20</text>
<line x1="58.4" y1="458.5" x2="61.2" y2="458.5" stroke="#231f20" stroke-width="1"/>
<text x="54.6" y="460.9" font-size="7" text-anchor="end" fill="#231f20" stroke="#231f20">40</text>
<line x1="58.4" y1="434.5" x2="61.2" y2="434.5" stroke="#231f20" stroke-width="1"/>
<text x="54.6" y="436.65" font-size="7" text-anchor="end" fill="#231f20" stroke="#231f20">60</text>
<line x1="58.4" y1="410.5" x2="61.2" y2="410.5" stroke="#231f20" stroke-width="1"/>
<text x="54.6" y="412.4" font-size="7" text-anchor="end" fill="#231f20" stroke="#231f20">80</text>
<line x1="61.2" y1="507" x2="175" y2="507" stroke="#231f20" stroke-width="1.7"/>
<line x1="73.5" y1="507" x2="73.5" y2="509.4" stroke="#231f20" stroke-width="1"/>
<line x1="102.5" y1="507" x2="102.5" y2="509.4" stroke="#231f20" stroke-width="1"/>
<line x1="132.5" y1="507" x2="132.5" y2="509.4" stroke="#231f20" stroke-width="1"/>
<line x1="161.5" y1="507" x2="161.5" y2="509.4" stroke="#231f20" stroke-width="1"/>
<line x1="68.5" y1="454.3" x2="68.5" y2="461.3" stroke="#2e4a80" stroke-width="1"/>
<line x1="66.3" y1="454.5" x2="70.5" y2="454.5" stroke="#2e4a80" stroke-width="1"/>
<rect x="65" y="461.3" width="6.8" height="45.7" fill="#2e4a80"/>
<line x1="79.5" y1="466.3" x2="79.5" y2="473.3" stroke="#a6042e" stroke-width="1"/>
<line x1="77.05" y1="466.5" x2="81.25" y2="466.5" stroke="#a6042e" stroke-width="1"/>
<rect x="75.8" y="473.3" width="6.7" height="33.7" fill="#a6042e"/>
<line x1="97.5" y1="411" x2="97.5" y2="422.5" stroke="#2e4a80" stroke-width="1"/>
<line x1="95.4" y1="411.5" x2="99.6" y2="411.5" stroke="#2e4a80" stroke-width="1"/>
<rect x="94.2" y="422.5" width="6.6" height="84.5" fill="#2e4a80"/>
<line x1="108.5" y1="460.8" x2="108.5" y2="470.8" stroke="#a6042e" stroke-width="1"/>
<line x1="106.4" y1="460.5" x2="110.6" y2="460.5" stroke="#a6042e" stroke-width="1"/>
<rect x="105" y="470.8" width="7" height="36.2" fill="#a6042e"/>
<line x1="127.5" y1="436.5" x2="127.5" y2="446.3" stroke="#2e4a80" stroke-width="1"/>
<line x1="124.9" y1="436.5" x2="129.1" y2="436.5" stroke="#2e4a80" stroke-width="1"/>
<rect x="123.8" y="446.3" width="6.4" height="60.7" fill="#2e4a80"/>
<line x1="137.5" y1="458.8" x2="137.5" y2="465" stroke="#a6042e" stroke-width="1"/>
<line x1="135.8" y1="458.5" x2="140" y2="458.5" stroke="#a6042e" stroke-width="1"/>
<rect x="134.5" y="465" width="6.8" height="42" fill="#a6042e"/>
<line x1="156.5" y1="402.5" x2="156.5" y2="415.8" stroke="#2e4a80" stroke-width="1"/>
<line x1="154.2" y1="402.5" x2="158.4" y2="402.5" stroke="#2e4a80" stroke-width="1"/>
<rect x="153" y="415.8" width="6.6" height="91.2" fill="#2e4a80"/>
<line x1="167.5" y1="448.8" x2="167.5" y2="459" stroke="#a6042e" stroke-width="1"/>
<line x1="165.1" y1="448.5" x2="169.3" y2="448.5" stroke="#a6042e" stroke-width="1"/>
<rect x="163.8" y="459" width="6.8" height="48" fill="#a6042e"/>
<line x1="65" y1="398" x2="97.5" y2="398" stroke="#444" stroke-width="1.6"/>
<text x="81.25" y="398.2" font-size="6.6" text-anchor="middle" fill="#231f20" stroke="#231f20">*</text>
<line x1="95.8" y1="406.5" x2="109.3" y2="406.5" stroke="#444" stroke-width="1.6"/>
<text x="102.55" y="406.7" font-size="6.6" text-anchor="middle" fill="#231f20" stroke="#231f20">*</text>
<line x1="68.3" y1="447.5" x2="81.3" y2="447.5" stroke="#444" stroke-width="1.6"/>
<text x="74.8" y="446.2" font-size="6.6" text-anchor="middle" fill="#231f20" stroke="#231f20" textLength="10" lengthAdjust="spacingAndGlyphs">n.s.</text>
<line x1="125" y1="390" x2="157.5" y2="390" stroke="#444" stroke-width="1.6"/>
<text x="141.25" y="390.2" font-size="6.6" text-anchor="middle" fill="#231f20" stroke="#231f20">*</text>
<line x1="126.3" y1="432.5" x2="140" y2="432.5" stroke="#444" stroke-width="1.6"/>
<text x="133.15" y="432.7" font-size="6.6" text-anchor="middle" fill="#231f20" stroke="#231f20">*</text>
<line x1="155.8" y1="398.8" x2="169.3" y2="398.8" stroke="#444" stroke-width="1.6"/>
<text x="162.55" y="399" font-size="6.6" text-anchor="middle" fill="#231f20" stroke="#231f20">*</text>
<rect x="178.3" y="398" width="7.7" height="5" fill="#2e4a80"/>
<text x="188.9" y="402.6" font-size="6" fill="#231f20" stroke="#231f20" textLength="21.3" lengthAdjust="spacingAndGlyphs">CTR-KO</text>
<rect x="178.3" y="407.6" width="7.7" height="5" fill="#a6042e"/>
<text x="188.9" y="412.2" font-size="6" fill="#231f20" stroke="#231f20" textLength="20" lengthAdjust="spacingAndGlyphs">MIF-KO</text>
<text x="25.9" y="452.3" font-size="7.2" text-anchor="middle" fill="#231f20" stroke="#231f20" transform="rotate(-90 25.9 452.3)" textLength="55" lengthAdjust="spacingAndGlyphs">CuZnSOD activity</text>
<text x="37.5" y="451.8" font-size="7.9" text-anchor="middle" fill="#231f20" stroke="#231f20" transform="rotate(-90 37.5 451.8)" textLength="62" lengthAdjust="spacingAndGlyphs">(unit mg<tspan font-size="5" dy="-2.9">-1</tspan><tspan dy="2.9"> protein)</tspan></text>
<text x="73.5" y="521.2" font-size="8.3" text-anchor="middle" fill="#231f20" stroke="#231f20" textLength="25" lengthAdjust="spacingAndGlyphs">DMSO</text>
<text x="103.1" y="521.2" font-size="8.3" text-anchor="middle" fill="#231f20" stroke="#231f20" textLength="12" lengthAdjust="spacingAndGlyphs">Cfz</text>
<text x="132.3" y="521.2" font-size="8.3" text-anchor="middle" fill="#231f20" stroke="#231f20" textLength="25" lengthAdjust="spacingAndGlyphs">DMSO</text>
<text x="162.3" y="521.2" font-size="8.3" text-anchor="middle" fill="#231f20" stroke="#231f20" textLength="12" lengthAdjust="spacingAndGlyphs">Cfz</text>
<line x1="59.2" y1="526.2" x2="110.8" y2="526.2" stroke="#231f20" stroke-width="1.4"/>
<line x1="117.8" y1="526.2" x2="169.9" y2="526.2" stroke="#231f20" stroke-width="1.4"/>
<text x="84.9" y="536.8" font-size="8.3" text-anchor="middle" fill="#231f20" stroke="#231f20" textLength="26.4" lengthAdjust="spacingAndGlyphs">MM.1S</text>
<text x="143.5" y="536.8" font-size="8.3" text-anchor="middle" fill="#231f20" stroke="#231f20" textLength="22.4" lengthAdjust="spacingAndGlyphs">ARP-1</text>
<text x="263.6" y="380.6" font-size="7.3" text-anchor="middle" fill="#231f20" stroke="#231f20" textLength="21" lengthAdjust="spacingAndGlyphs">DMSO</text>
<text x="327" y="380.6" font-size="7.3" text-anchor="middle" fill="#231f20" stroke="#231f20" textLength="27.3" lengthAdjust="spacingAndGlyphs">ATN-224</text>
<text x="386.2" y="380.6" font-size="7.3" text-anchor="middle" fill="#231f20" stroke="#231f20" textLength="10.5" lengthAdjust="spacingAndGlyphs">Cfz</text>
<text x="446.3" y="380.6" font-size="7.3" text-anchor="middle" fill="#231f20" stroke="#231f20" textLength="27.5" lengthAdjust="spacingAndGlyphs">ATN+Cfz</text>
<path d="M253.6 428.4 L254.2 408.6 L254.7 389.99 L255.2 404.64 L255.8 418.5 L256.8 424.44 L258.3 427.21 L259.8 428.4 Z" fill="#ececee" stroke="#a3a3ad" stroke-width="0.6"/>
<path d="M244.3 385.5H287.5V428.4" fill="none" stroke="#222" stroke-width="1"/>
<path d="M244.3 385.9V428.4H287.6" fill="none" stroke="#222" stroke-width="0.9" stroke-dasharray="0.9 0.5"/>
<text x="240.7" y="430" font-size="4.5" text-anchor="end" fill="#231f20" stroke="#231f20">0</text>
<text x="240.7" y="422.08" font-size="4.5" text-anchor="end" fill="#231f20" stroke="#231f20">20</text>
<text x="240.7" y="414.16" font-size="4.5" text-anchor="end" fill="#231f20" stroke="#231f20">40</text>
<text x="240.7" y="406.24" font-size="4.5" text-anchor="end" fill="#231f20" stroke="#231f20">60</text>
<text x="240.7" y="398.32" font-size="4.5" text-anchor="end" fill="#231f20" stroke="#231f20">80</text>
<text x="240.7" y="390.4" font-size="4.5" text-anchor="end" fill="#231f20" stroke="#231f20">100</text>
<path d="M242.3 428.4H244.3M243.3 426.42H244.3M243.3 424.44H244.3M243.3 422.46H244.3M242.3 420.48H244.3M243.3 418.5H244.3M243.3 416.52H244.3M243.3 414.54H244.3M242.3 412.56H244.3M243.3 410.58H244.3M243.3 408.6H244.3M243.3 406.62H244.3M242.3 404.64H244.3M243.3 402.66H244.3M243.3 400.68H244.3M243.3 398.7H244.3M242.3 396.72H244.3M243.3 394.74H244.3M243.3 392.76H244.3M243.3 390.78H244.3M242.3 388.8H244.3M247.8 428.4V430.2M253.7 428.4V430.2M261.5 428.4V430.2M272.7 428.4V430.2M283.1 428.4V430.2M264.87 428.4V429.4M266.84 428.4V429.4M268.24 428.4V429.4M269.33 428.4V429.4M270.22 428.4V429.4M270.97 428.4V429.4M271.61 428.4V429.4M272.19 428.4V429.4M275.83 428.4V429.4M277.66 428.4V429.4M278.96 428.4V429.4M279.97 428.4V429.4M280.79 428.4V429.4M281.49 428.4V429.4M282.09 428.4V429.4M282.62 428.4V429.4M248.8 428.4V429.4M255 428.4V429.4M249.8 428.4V429.4M256.3 428.4V429.4M250.8 428.4V429.4M257.6 428.4V429.4M251.8 428.4V429.4M258.9 428.4V429.4M252.8 428.4V429.4M260.2 428.4V429.4" stroke="#222" stroke-width="0.6" fill="none"/>
<rect x="252.9" y="428.8" width="1.7" height="1.4" fill="#000"/>
<text x="245.9" y="436.2" font-size="4.6" text-anchor="middle" fill="#231f20" stroke="#231f20">-10<tspan font-size="3" dy="-1.8">3</tspan></text>
<text x="253.7" y="436.2" font-size="4.6" text-anchor="middle" fill="#231f20" stroke="#231f20">0</text>
<text x="261.3" y="436.2" font-size="4.6" text-anchor="middle" fill="#231f20" stroke="#231f20">10<tspan font-size="3" dy="-1.8">3</tspan></text>
<text x="272.9" y="436.2" font-size="4.6" text-anchor="middle" fill="#231f20" stroke="#231f20">10<tspan font-size="3" dy="-1.8">4</tspan></text>
<text x="282.9" y="436.2" font-size="4.6" text-anchor="middle" fill="#231f20" stroke="#231f20">10<tspan font-size="3" dy="-1.8">5</tspan></text>
<line x1="262.7" y1="406.6" x2="287.6" y2="406.6" stroke="#6b6b6b" stroke-width="0.8"/>
<line x1="262.7" y1="405.6" x2="262.7" y2="407.6" stroke="#6b6b6b" stroke-width="0.6"/>
<text x="278.7" y="404" font-size="5" text-anchor="middle" fill="#231f20" stroke="#231f20">2.96</text>
<path d="M314 428.4 L314.6 408.6 L315 391.18 L315.6 403.85 L316.6 413.35 L318.1 420.48 L320.1 424.84 L322.4 427.61 L324.1 428.4 Z" fill="#ececee" stroke="#a3a3ad" stroke-width="0.6"/>
<path d="M304.6 385.5H347.5V428.4" fill="none" stroke="#222" stroke-width="1"/>
<path d="M304.6 385.9V428.4H347.9" fill="none" stroke="#222" stroke-width="0.9" stroke-dasharray="0.9 0.5"/>
<text x="301" y="430" font-size="4.5" text-anchor="end" fill="#231f20" stroke="#231f20">0</text>
<text x="301" y="422.08" font-size="4.5" text-anchor="end" fill="#231f20" stroke="#231f20">20</text>
<text x="301" y="414.16" font-size="4.5" text-anchor="end" fill="#231f20" stroke="#231f20">40</text>
<text x="301" y="406.24" font-size="4.5" text-anchor="end" fill="#231f20" stroke="#231f20">60</text>
<text x="301" y="398.32" font-size="4.5" text-anchor="end" fill="#231f20" stroke="#231f20">80</text>
<text x="301" y="390.4" font-size="4.5" text-anchor="end" fill="#231f20" stroke="#231f20">100</text>
<path d="M302.6 428.4H304.6M303.6 426.42H304.6M303.6 424.44H304.6M303.6 422.46H304.6M302.6 420.48H304.6M303.6 418.5H304.6M303.6 416.52H304.6M303.6 414.54H304.6M302.6 412.56H304.6M303.6 410.58H304.6M303.6 408.6H304.6M303.6 406.62H304.6M302.6 404.64H304.6M303.6 402.66H304.6M303.6 400.68H304.6M303.6 398.7H304.6M302.6 396.72H304.6M303.6 394.74H304.6M303.6 392.76H304.6M303.6 390.78H304.6M302.6 388.8H304.6M308.1 428.4V430.2M314 428.4V430.2M321.8 428.4V430.2M333 428.4V430.2M343.4 428.4V430.2M325.17 428.4V429.4M327.14 428.4V429.4M328.54 428.4V429.4M329.63 428.4V429.4M330.52 428.4V429.4M331.27 428.4V429.4M331.91 428.4V429.4M332.49 428.4V429.4M336.13 428.4V429.4M337.96 428.4V429.4M339.26 428.4V429.4M340.27 428.4V429.4M341.09 428.4V429.4M341.79 428.4V429.4M342.39 428.4V429.4M342.92 428.4V429.4M309.1 428.4V429.4M315.3 428.4V429.4M310.1 428.4V429.4M316.6 428.4V429.4M311.1 428.4V429.4M317.9 428.4V429.4M312.1 428.4V429.4M319.2 428.4V429.4M313.1 428.4V429.4M320.5 428.4V429.4" stroke="#222" stroke-width="0.6" fill="none"/>
<rect x="313.2" y="428.8" width="1.7" height="1.4" fill="#000"/>
<text x="306.2" y="436.2" font-size="4.6" text-anchor="middle" fill="#231f20" stroke="#231f20">-10<tspan font-size="3" dy="-1.8">3</tspan></text>
<text x="314" y="436.2" font-size="4.6" text-anchor="middle" fill="#231f20" stroke="#231f20">0</text>
<text x="321.6" y="436.2" font-size="4.6" text-anchor="middle" fill="#231f20" stroke="#231f20">10<tspan font-size="3" dy="-1.8">3</tspan></text>
<text x="333.2" y="436.2" font-size="4.6" text-anchor="middle" fill="#231f20" stroke="#231f20">10<tspan font-size="3" dy="-1.8">4</tspan></text>
<text x="343.2" y="436.2" font-size="4.6" text-anchor="middle" fill="#231f20" stroke="#231f20">10<tspan font-size="3" dy="-1.8">5</tspan></text>
<line x1="323" y1="406.6" x2="347.9" y2="406.6" stroke="#6b6b6b" stroke-width="0.8"/>
<line x1="323" y1="405.6" x2="323" y2="407.6" stroke="#6b6b6b" stroke-width="0.6"/>
<text x="339" y="404" font-size="5" text-anchor="middle" fill="#231f20" stroke="#231f20">4.27</text>
<path d="M374.4 428.4 L375.2 404.64 L375.9 390.78 L377 399.89 L379 411.77 L382 421.27 L385 426.02 L387 426.62 L389.5 421.67 L391.3 416.52 L392.4 414.94 L393.5 419.69 L395 426.42 L396.2 428.4 Z" fill="#ececee" stroke="#a3a3ad" stroke-width="0.6"/>
<path d="M365 385.5H408.5V428.4" fill="none" stroke="#222" stroke-width="1"/>
<path d="M365 385.9V428.4H408.3" fill="none" stroke="#222" stroke-width="0.9" stroke-dasharray="0.9 0.5"/>
<text x="361.4" y="430" font-size="4.5" text-anchor="end" fill="#231f20" stroke="#231f20">0</text>
<text x="361.4" y="422.08" font-size="4.5" text-anchor="end" fill="#231f20" stroke="#231f20">20</text>
<text x="361.4" y="414.16" font-size="4.5" text-anchor="end" fill="#231f20" stroke="#231f20">40</text>
<text x="361.4" y="406.24" font-size="4.5" text-anchor="end" fill="#231f20" stroke="#231f20">60</text>
<text x="361.4" y="398.32" font-size="4.5" text-anchor="end" fill="#231f20" stroke="#231f20">80</text>
<text x="361.4" y="390.4" font-size="4.5" text-anchor="end" fill="#231f20" stroke="#231f20">100</text>
<path d="M363 428.4H365M364 426.42H365M364 424.44H365M364 422.46H365M363 420.48H365M364 418.5H365M364 416.52H365M364 414.54H365M363 412.56H365M364 410.58H365M364 408.6H365M364 406.62H365M363 404.64H365M364 402.66H365M364 400.68H365M364 398.7H365M363 396.72H365M364 394.74H365M364 392.76H365M364 390.78H365M363 388.8H365M368.5 428.4V430.2M374.4 428.4V430.2M382.2 428.4V430.2M393.4 428.4V430.2M403.8 428.4V430.2M385.57 428.4V429.4M387.54 428.4V429.4M388.94 428.4V429.4M390.03 428.4V429.4M390.92 428.4V429.4M391.67 428.4V429.4M392.31 428.4V429.4M392.89 428.4V429.4M396.53 428.4V429.4M398.36 428.4V429.4M399.66 428.4V429.4M400.67 428.4V429.4M401.49 428.4V429.4M402.19 428.4V429.4M402.79 428.4V429.4M403.32 428.4V429.4M369.5 428.4V429.4M375.7 428.4V429.4M370.5 428.4V429.4M377 428.4V429.4M371.5 428.4V429.4M378.3 428.4V429.4M372.5 428.4V429.4M379.6 428.4V429.4M373.5 428.4V429.4M380.9 428.4V429.4" stroke="#222" stroke-width="0.6" fill="none"/>
<rect x="373.6" y="428.8" width="1.7" height="1.4" fill="#000"/>
<text x="366.6" y="436.2" font-size="4.6" text-anchor="middle" fill="#231f20" stroke="#231f20">-10<tspan font-size="3" dy="-1.8">3</tspan></text>
<text x="374.4" y="436.2" font-size="4.6" text-anchor="middle" fill="#231f20" stroke="#231f20">0</text>
<text x="382" y="436.2" font-size="4.6" text-anchor="middle" fill="#231f20" stroke="#231f20">10<tspan font-size="3" dy="-1.8">3</tspan></text>
<text x="393.6" y="436.2" font-size="4.6" text-anchor="middle" fill="#231f20" stroke="#231f20">10<tspan font-size="3" dy="-1.8">4</tspan></text>
<text x="403.6" y="436.2" font-size="4.6" text-anchor="middle" fill="#231f20" stroke="#231f20">10<tspan font-size="3" dy="-1.8">5</tspan></text>
<line x1="383.4" y1="406.6" x2="408.3" y2="406.6" stroke="#6b6b6b" stroke-width="0.8"/>
<line x1="383.4" y1="405.6" x2="383.4" y2="407.6" stroke="#6b6b6b" stroke-width="0.6"/>
<text x="399.4" y="404" font-size="5" text-anchor="middle" fill="#231f20" stroke="#231f20">34.6</text>
<path d="M435.2 428.4 L435.7 408.6 L436.2 393.16 L437 395.93 L438 398.7 L438.7 403.06 L439.3 407.02 L439.8 410.18 L440.4 412.56 L441.2 413.35 L441.9 414.54 L442.7 415.33 L443.4 416.92 L444 418.3 L444.9 420.08 L445.9 421.27 L447.3 422.3 L448.4 421.27 L449.4 419.69 L450 418.5 L450.9 413.35 L451.8 408.01 L452.9 405.04 L454 408.01 L454.7 413.35 L455.3 418.38 L456.2 424.44 L457 428.4 Z" fill="#ececee" stroke="#a3a3ad" stroke-width="0.6"/>
<path d="M425.4 385.5H468.5V428.4" fill="none" stroke="#222" stroke-width="1"/>
<path d="M425.4 385.9V428.4H468.7" fill="none" stroke="#222" stroke-width="0.9" stroke-dasharray="0.9 0.5"/>
<text x="421.8" y="430" font-size="4.5" text-anchor="end" fill="#231f20" stroke="#231f20">0</text>
<text x="421.8" y="422.08" font-size="4.5" text-anchor="end" fill="#231f20" stroke="#231f20">20</text>
<text x="421.8" y="414.16" font-size="4.5" text-anchor="end" fill="#231f20" stroke="#231f20">40</text>
<text x="421.8" y="406.24" font-size="4.5" text-anchor="end" fill="#231f20" stroke="#231f20">60</text>
<text x="421.8" y="398.32" font-size="4.5" text-anchor="end" fill="#231f20" stroke="#231f20">80</text>
<text x="421.8" y="390.4" font-size="4.5" text-anchor="end" fill="#231f20" stroke="#231f20">100</text>
<path d="M423.4 428.4H425.4M424.4 426.42H425.4M424.4 424.44H425.4M424.4 422.46H425.4M423.4 420.48H425.4M424.4 418.5H425.4M424.4 416.52H425.4M424.4 414.54H425.4M423.4 412.56H425.4M424.4 410.58H425.4M424.4 408.6H425.4M424.4 406.62H425.4M423.4 404.64H425.4M424.4 402.66H425.4M424.4 400.68H425.4M424.4 398.7H425.4M423.4 396.72H425.4M424.4 394.74H425.4M424.4 392.76H425.4M424.4 390.78H425.4M423.4 388.8H425.4M428.9 428.4V430.2M434.8 428.4V430.2M442.6 428.4V430.2M453.8 428.4V430.2M464.2 428.4V430.2M445.97 428.4V429.4M447.94 428.4V429.4M449.34 428.4V429.4M450.43 428.4V429.4M451.32 428.4V429.4M452.07 428.4V429.4M452.71 428.4V429.4M453.29 428.4V429.4M456.93 428.4V429.4M458.76 428.4V429.4M460.06 428.4V429.4M461.07 428.4V429.4M461.89 428.4V429.4M462.59 428.4V429.4M463.19 428.4V429.4M463.72 428.4V429.4M429.9 428.4V429.4M436.1 428.4V429.4M430.9 428.4V429.4M437.4 428.4V429.4M431.9 428.4V429.4M438.7 428.4V429.4M432.9 428.4V429.4M440 428.4V429.4M433.9 428.4V429.4M441.3 428.4V429.4" stroke="#222" stroke-width="0.6" fill="none"/>
<rect x="434" y="428.8" width="1.7" height="1.4" fill="#000"/>
<text x="427" y="436.2" font-size="4.6" text-anchor="middle" fill="#231f20" stroke="#231f20">-10<tspan font-size="3" dy="-1.8">3</tspan></text>
<text x="434.8" y="436.2" font-size="4.6" text-anchor="middle" fill="#231f20" stroke="#231f20">0</text>
<text x="442.4" y="436.2" font-size="4.6" text-anchor="middle" fill="#231f20" stroke="#231f20">10<tspan font-size="3" dy="-1.8">3</tspan></text>
<text x="454" y="436.2" font-size="4.6" text-anchor="middle" fill="#231f20" stroke="#231f20">10<tspan font-size="3" dy="-1.8">4</tspan></text>
<text x="464" y="436.2" font-size="4.6" text-anchor="middle" fill="#231f20" stroke="#231f20">10<tspan font-size="3" dy="-1.8">5</tspan></text>
<line x1="443.3" y1="406.6" x2="468.7" y2="406.6" stroke="#6b6b6b" stroke-width="0.8"/>
<line x1="443.3" y1="405.6" x2="443.3" y2="407.6" stroke="#6b6b6b" stroke-width="0.6"/>
<text x="459.8" y="404" font-size="5" text-anchor="middle" fill="#231f20" stroke="#231f20">47.8</text>
<path d="M253.6 486.3 L254.3 466.5 L254.8 448.28 L255.3 464.52 L256.3 477.59 L258.3 483.13 L260.3 484.72 L263.3 485.31 L266.3 485.11 L269.3 484.12 L271.3 484.72 L273.3 485.9 L275.3 486.3 Z" fill="#ececee" stroke="#a3a3ad" stroke-width="0.6"/>
<path d="M244.3 443.5H287.5V486.3" fill="none" stroke="#222" stroke-width="1"/>
<path d="M244.3 443.8V486.3H287.6" fill="none" stroke="#222" stroke-width="0.9" stroke-dasharray="0.9 0.5"/>
<text x="240.7" y="487.9" font-size="4.5" text-anchor="end" fill="#231f20" stroke="#231f20">0</text>
<text x="240.7" y="479.98" font-size="4.5" text-anchor="end" fill="#231f20" stroke="#231f20">20</text>
<text x="240.7" y="472.06" font-size="4.5" text-anchor="end" fill="#231f20" stroke="#231f20">40</text>
<text x="240.7" y="464.14" font-size="4.5" text-anchor="end" fill="#231f20" stroke="#231f20">60</text>
<text x="240.7" y="456.22" font-size="4.5" text-anchor="end" fill="#231f20" stroke="#231f20">80</text>
<text x="240.7" y="448.3" font-size="4.5" text-anchor="end" fill="#231f20" stroke="#231f20">100</text>
<path d="M242.3 486.3H244.3M243.3 484.32H244.3M243.3 482.34H244.3M243.3 480.36H244.3M242.3 478.38H244.3M243.3 476.4H244.3M243.3 474.42H244.3M243.3 472.44H244.3M242.3 470.46H244.3M243.3 468.48H244.3M243.3 466.5H244.3M243.3 464.52H244.3M242.3 462.54H244.3M243.3 460.56H244.3M243.3 458.58H244.3M243.3 456.6H244.3M242.3 454.62H244.3M243.3 452.64H244.3M243.3 450.66H244.3M243.3 448.68H244.3M242.3 446.7H244.3M247.8 486.3V488.1M253.7 486.3V488.1M261.5 486.3V488.1M272.7 486.3V488.1M283.1 486.3V488.1M264.87 486.3V487.3M266.84 486.3V487.3M268.24 486.3V487.3M269.33 486.3V487.3M270.22 486.3V487.3M270.97 486.3V487.3M271.61 486.3V487.3M272.19 486.3V487.3M275.83 486.3V487.3M277.66 486.3V487.3M278.96 486.3V487.3M279.97 486.3V487.3M280.79 486.3V487.3M281.49 486.3V487.3M282.09 486.3V487.3M282.62 486.3V487.3M248.8 486.3V487.3M255 486.3V487.3M249.8 486.3V487.3M256.3 486.3V487.3M250.8 486.3V487.3M257.6 486.3V487.3M251.8 486.3V487.3M258.9 486.3V487.3M252.8 486.3V487.3M260.2 486.3V487.3" stroke="#222" stroke-width="0.6" fill="none"/>
<rect x="252.9" y="486.7" width="1.7" height="1.4" fill="#000"/>
<text x="245.9" y="494.1" font-size="4.6" text-anchor="middle" fill="#231f20" stroke="#231f20">-10<tspan font-size="3" dy="-1.8">3</tspan></text>
<text x="253.7" y="494.1" font-size="4.6" text-anchor="middle" fill="#231f20" stroke="#231f20">0</text>
<text x="261.3" y="494.1" font-size="4.6" text-anchor="middle" fill="#231f20" stroke="#231f20">10<tspan font-size="3" dy="-1.8">3</tspan></text>
<text x="272.9" y="494.1" font-size="4.6" text-anchor="middle" fill="#231f20" stroke="#231f20">10<tspan font-size="3" dy="-1.8">4</tspan></text>
<text x="282.9" y="494.1" font-size="4.6" text-anchor="middle" fill="#231f20" stroke="#231f20">10<tspan font-size="3" dy="-1.8">5</tspan></text>
<line x1="262.7" y1="464.5" x2="287.6" y2="464.5" stroke="#6b6b6b" stroke-width="0.8"/>
<line x1="262.7" y1="463.5" x2="262.7" y2="465.5" stroke="#6b6b6b" stroke-width="0.6"/>
<text x="278.7" y="461.9" font-size="5" text-anchor="middle" fill="#231f20" stroke="#231f20">13.0</text>
<path d="M314 486.3 L314.6 466.5 L315.1 448.68 L315.6 464.52 L316.6 477.59 L318.6 483.13 L320.6 484.72 L323.6 485.31 L326.6 485.11 L330.1 484.32 L332.1 485.11 L333.6 485.9 L335.6 486.3 Z" fill="#ececee" stroke="#a3a3ad" stroke-width="0.6"/>
<path d="M304.6 443.5H347.5V486.3" fill="none" stroke="#222" stroke-width="1"/>
<path d="M304.6 443.8V486.3H347.9" fill="none" stroke="#222" stroke-width="0.9" stroke-dasharray="0.9 0.5"/>
<text x="301" y="487.9" font-size="4.5" text-anchor="end" fill="#231f20" stroke="#231f20">0</text>
<text x="301" y="479.98" font-size="4.5" text-anchor="end" fill="#231f20" stroke="#231f20">20</text>
<text x="301" y="472.06" font-size="4.5" text-anchor="end" fill="#231f20" stroke="#231f20">40</text>
<text x="301" y="464.14" font-size="4.5" text-anchor="end" fill="#231f20" stroke="#231f20">60</text>
<text x="301" y="456.22" font-size="4.5" text-anchor="end" fill="#231f20" stroke="#231f20">80</text>
<text x="301" y="448.3" font-size="4.5" text-anchor="end" fill="#231f20" stroke="#231f20">100</text>
<path d="M302.6 486.3H304.6M303.6 484.32H304.6M303.6 482.34H304.6M303.6 480.36H304.6M302.6 478.38H304.6M303.6 476.4H304.6M303.6 474.42H304.6M303.6 472.44H304.6M302.6 470.46H304.6M303.6 468.48H304.6M303.6 466.5H304.6M303.6 464.52H304.6M302.6 462.54H304.6M303.6 460.56H304.6M303.6 458.58H304.6M303.6 456.6H304.6M302.6 454.62H304.6M303.6 452.64H304.6M303.6 450.66H304.6M303.6 448.68H304.6M302.6 446.7H304.6M308.1 486.3V488.1M314 486.3V488.1M321.8 486.3V488.1M333 486.3V488.1M343.4 486.3V488.1M325.17 486.3V487.3M327.14 486.3V487.3M328.54 486.3V487.3M329.63 486.3V487.3M330.52 486.3V487.3M331.27 486.3V487.3M331.91 486.3V487.3M332.49 486.3V487.3M336.13 486.3V487.3M337.96 486.3V487.3M339.26 486.3V487.3M340.27 486.3V487.3M341.09 486.3V487.3M341.79 486.3V487.3M342.39 486.3V487.3M342.92 486.3V487.3M309.1 486.3V487.3M315.3 486.3V487.3M310.1 486.3V487.3M316.6 486.3V487.3M311.1 486.3V487.3M317.9 486.3V487.3M312.1 486.3V487.3M319.2 486.3V487.3M313.1 486.3V487.3M320.5 486.3V487.3" stroke="#222" stroke-width="0.6" fill="none"/>
<rect x="313.2" y="486.7" width="1.7" height="1.4" fill="#000"/>
<text x="306.2" y="494.1" font-size="4.6" text-anchor="middle" fill="#231f20" stroke="#231f20">-10<tspan font-size="3" dy="-1.8">3</tspan></text>
<text x="314" y="494.1" font-size="4.6" text-anchor="middle" fill="#231f20" stroke="#231f20">0</text>
<text x="321.6" y="494.1" font-size="4.6" text-anchor="middle" fill="#231f20" stroke="#231f20">10<tspan font-size="3" dy="-1.8">3</tspan></text>
<text x="333.2" y="494.1" font-size="4.6" text-anchor="middle" fill="#231f20" stroke="#231f20">10<tspan font-size="3" dy="-1.8">4</tspan></text>
<text x="343.2" y="494.1" font-size="4.6" text-anchor="middle" fill="#231f20" stroke="#231f20">10<tspan font-size="3" dy="-1.8">5</tspan></text>
<line x1="323" y1="464.5" x2="347.9" y2="464.5" stroke="#6b6b6b" stroke-width="0.8"/>
<line x1="323" y1="463.5" x2="323" y2="465.5" stroke="#6b6b6b" stroke-width="0.6"/>
<text x="339" y="461.9" font-size="5" text-anchor="middle" fill="#231f20" stroke="#231f20">11.9</text>
<path d="M374.5 486.3 L375.1 462.54 L375.5 449.47 L376.3 469.67 L377.6 480.76 L379.5 483.13 L382 483.13 L385 482.54 L387 481.55 L388.6 481.94 L390.2 483.92 L391.5 486.3 Z" fill="#ececee" stroke="#a3a3ad" stroke-width="0.6"/>
<path d="M365 443.5H408.5V486.3" fill="none" stroke="#222" stroke-width="1"/>
<path d="M365 443.8V486.3H408.3" fill="none" stroke="#222" stroke-width="0.9" stroke-dasharray="0.9 0.5"/>
<text x="361.4" y="487.9" font-size="4.5" text-anchor="end" fill="#231f20" stroke="#231f20">0</text>
<text x="361.4" y="479.98" font-size="4.5" text-anchor="end" fill="#231f20" stroke="#231f20">20</text>
<text x="361.4" y="472.06" font-size="4.5" text-anchor="end" fill="#231f20" stroke="#231f20">40</text>
<text x="361.4" y="464.14" font-size="4.5" text-anchor="end" fill="#231f20" stroke="#231f20">60</text>
<text x="361.4" y="456.22" font-size="4.5" text-anchor="end" fill="#231f20" stroke="#231f20">80</text>
<text x="361.4" y="448.3" font-size="4.5" text-anchor="end" fill="#231f20" stroke="#231f20">100</text>
<path d="M363 486.3H365M364 484.32H365M364 482.34H365M364 480.36H365M363 478.38H365M364 476.4H365M364 474.42H365M364 472.44H365M363 470.46H365M364 468.48H365M364 466.5H365M364 464.52H365M363 462.54H365M364 460.56H365M364 458.58H365M364 456.6H365M363 454.62H365M364 452.64H365M364 450.66H365M364 448.68H365M363 446.7H365M368.5 486.3V488.1M374.4 486.3V488.1M382.2 486.3V488.1M393.4 486.3V488.1M403.8 486.3V488.1M385.57 486.3V487.3M387.54 486.3V487.3M388.94 486.3V487.3M390.03 486.3V487.3M390.92 486.3V487.3M391.67 486.3V487.3M392.31 486.3V487.3M392.89 486.3V487.3M396.53 486.3V487.3M398.36 486.3V487.3M399.66 486.3V487.3M400.67 486.3V487.3M401.49 486.3V487.3M402.19 486.3V487.3M402.79 486.3V487.3M403.32 486.3V487.3M369.5 486.3V487.3M375.7 486.3V487.3M370.5 486.3V487.3M377 486.3V487.3M371.5 486.3V487.3M378.3 486.3V487.3M372.5 486.3V487.3M379.6 486.3V487.3M373.5 486.3V487.3M380.9 486.3V487.3" stroke="#222" stroke-width="0.6" fill="none"/>
<rect x="373.6" y="486.7" width="1.7" height="1.4" fill="#000"/>
<text x="366.6" y="494.1" font-size="4.6" text-anchor="middle" fill="#231f20" stroke="#231f20">-10<tspan font-size="3" dy="-1.8">3</tspan></text>
<text x="374.4" y="494.1" font-size="4.6" text-anchor="middle" fill="#231f20" stroke="#231f20">0</text>
<text x="382" y="494.1" font-size="4.6" text-anchor="middle" fill="#231f20" stroke="#231f20">10<tspan font-size="3" dy="-1.8">3</tspan></text>
<text x="393.6" y="494.1" font-size="4.6" text-anchor="middle" fill="#231f20" stroke="#231f20">10<tspan font-size="3" dy="-1.8">4</tspan></text>
<text x="403.6" y="494.1" font-size="4.6" text-anchor="middle" fill="#231f20" stroke="#231f20">10<tspan font-size="3" dy="-1.8">5</tspan></text>
<line x1="383.4" y1="464.5" x2="408.3" y2="464.5" stroke="#6b6b6b" stroke-width="0.8"/>
<line x1="383.4" y1="463.5" x2="383.4" y2="465.5" stroke="#6b6b6b" stroke-width="0.6"/>
<text x="399.4" y="461.9" font-size="5" text-anchor="middle" fill="#231f20" stroke="#231f20">29.3</text>
<path d="M435.2 486.3 L435.7 462.54 L436.1 450.26 L436.7 466.5 L437.4 476 L438.4 480.36 L439.9 482.54 L441.4 483.13 L443.4 482.34 L445.9 479.57 L447.9 475.61 L449.4 472.84 L450.4 472.44 L451.6 475.21 L452.9 481.55 L454.9 486.3 Z" fill="#ececee" stroke="#a3a3ad" stroke-width="0.6"/>
<path d="M425.4 443.5H468.5V486.3" fill="none" stroke="#222" stroke-width="1"/>
<path d="M425.4 443.8V486.3H468.7" fill="none" stroke="#222" stroke-width="0.9" stroke-dasharray="0.9 0.5"/>
<text x="421.8" y="487.9" font-size="4.5" text-anchor="end" fill="#231f20" stroke="#231f20">0</text>
<text x="421.8" y="479.98" font-size="4.5" text-anchor="end" fill="#231f20" stroke="#231f20">20</text>
<text x="421.8" y="472.06" font-size="4.5" text-anchor="end" fill="#231f20" stroke="#231f20">40</text>
<text x="421.8" y="464.14" font-size="4.5" text-anchor="end" fill="#231f20" stroke="#231f20">60</text>
<text x="421.8" y="456.22" font-size="4.5" text-anchor="end" fill="#231f20" stroke="#231f20">80</text>
<text x="421.8" y="448.3" font-size="4.5" text-anchor="end" fill="#231f20" stroke="#231f20">100</text>
<path d="M423.4 486.3H425.4M424.4 484.32H425.4M424.4 482.34H425.4M424.4 480.36H425.4M423.4 478.38H425.4M424.4 476.4H425.4M424.4 474.42H425.4M424.4 472.44H425.4M423.4 470.46H425.4M424.4 468.48H425.4M424.4 466.5H425.4M424.4 464.52H425.4M423.4 462.54H425.4M424.4 460.56H425.4M424.4 458.58H425.4M424.4 456.6H425.4M423.4 454.62H425.4M424.4 452.64H425.4M424.4 450.66H425.4M424.4 448.68H425.4M423.4 446.7H425.4M428.9 486.3V488.1M434.8 486.3V488.1M442.6 486.3V488.1M453.8 486.3V488.1M464.2 486.3V488.1M445.97 486.3V487.3M447.94 486.3V487.3M449.34 486.3V487.3M450.43 486.3V487.3M451.32 486.3V487.3M452.07 486.3V487.3M452.71 486.3V487.3M453.29 486.3V487.3M456.93 486.3V487.3M458.76 486.3V487.3M460.06 486.3V487.3M461.07 486.3V487.3M461.89 486.3V487.3M462.59 486.3V487.3M463.19 486.3V487.3M463.72 486.3V487.3M429.9 486.3V487.3M436.1 486.3V487.3M430.9 486.3V487.3M437.4 486.3V487.3M431.9 486.3V487.3M438.7 486.3V487.3M432.9 486.3V487.3M440 486.3V487.3M433.9 486.3V487.3M441.3 486.3V487.3" stroke="#222" stroke-width="0.6" fill="none"/>
<rect x="434" y="486.7" width="1.7" height="1.4" fill="#000"/>
<text x="427" y="494.1" font-size="4.6" text-anchor="middle" fill="#231f20" stroke="#231f20">-10<tspan font-size="3" dy="-1.8">3</tspan></text>
<text x="434.8" y="494.1" font-size="4.6" text-anchor="middle" fill="#231f20" stroke="#231f20">0</text>
<text x="442.4" y="494.1" font-size="4.6" text-anchor="middle" fill="#231f20" stroke="#231f20">10<tspan font-size="3" dy="-1.8">3</tspan></text>
<text x="454" y="494.1" font-size="4.6" text-anchor="middle" fill="#231f20" stroke="#231f20">10<tspan font-size="3" dy="-1.8">4</tspan></text>
<text x="464" y="494.1" font-size="4.6" text-anchor="middle" fill="#231f20" stroke="#231f20">10<tspan font-size="3" dy="-1.8">5</tspan></text>
<line x1="443.3" y1="464.5" x2="468.7" y2="464.5" stroke="#6b6b6b" stroke-width="0.8"/>
<line x1="443.3" y1="463.5" x2="443.3" y2="465.5" stroke="#6b6b6b" stroke-width="0.6"/>
<text x="459.8" y="461.9" font-size="5" text-anchor="middle" fill="#231f20" stroke="#231f20">50.7</text>
<path d="M253.7 544.1 L254.3 524.3 L254.8 505.29 L255.3 524.3 L256.3 538.16 L257.8 542.91 L259.3 544.1 Z" fill="#ececee" stroke="#a3a3ad" stroke-width="0.6"/>
<path d="M244.3 501.5H287.5V544.1" fill="none" stroke="#222" stroke-width="1"/>
<path d="M244.3 501.6V544.1H287.6" fill="none" stroke="#222" stroke-width="0.9" stroke-dasharray="0.9 0.5"/>
<text x="240.7" y="545.7" font-size="4.5" text-anchor="end" fill="#231f20" stroke="#231f20">0</text>
<text x="240.7" y="537.78" font-size="4.5" text-anchor="end" fill="#231f20" stroke="#231f20">20</text>
<text x="240.7" y="529.86" font-size="4.5" text-anchor="end" fill="#231f20" stroke="#231f20">40</text>
<text x="240.7" y="521.94" font-size="4.5" text-anchor="end" fill="#231f20" stroke="#231f20">60</text>
<text x="240.7" y="514.02" font-size="4.5" text-anchor="end" fill="#231f20" stroke="#231f20">80</text>
<text x="240.7" y="506.1" font-size="4.5" text-anchor="end" fill="#231f20" stroke="#231f20">100</text>
<path d="M242.3 544.1H244.3M243.3 542.12H244.3M243.3 540.14H244.3M243.3 538.16H244.3M242.3 536.18H244.3M243.3 534.2H244.3M243.3 532.22H244.3M243.3 530.24H244.3M242.3 528.26H244.3M243.3 526.28H244.3M243.3 524.3H244.3M243.3 522.32H244.3M242.3 520.34H244.3M243.3 518.36H244.3M243.3 516.38H244.3M243.3 514.4H244.3M242.3 512.42H244.3M243.3 510.44H244.3M243.3 508.46H244.3M243.3 506.48H244.3M242.3 504.5H244.3M247.8 544.1V545.9M253.7 544.1V545.9M261.5 544.1V545.9M272.7 544.1V545.9M283.1 544.1V545.9M264.87 544.1V545.1M266.84 544.1V545.1M268.24 544.1V545.1M269.33 544.1V545.1M270.22 544.1V545.1M270.97 544.1V545.1M271.61 544.1V545.1M272.19 544.1V545.1M275.83 544.1V545.1M277.66 544.1V545.1M278.96 544.1V545.1M279.97 544.1V545.1M280.79 544.1V545.1M281.49 544.1V545.1M282.09 544.1V545.1M282.62 544.1V545.1M248.8 544.1V545.1M255 544.1V545.1M249.8 544.1V545.1M256.3 544.1V545.1M250.8 544.1V545.1M257.6 544.1V545.1M251.8 544.1V545.1M258.9 544.1V545.1M252.8 544.1V545.1M260.2 544.1V545.1" stroke="#222" stroke-width="0.6" fill="none"/>
<rect x="252.9" y="544.5" width="1.7" height="1.4" fill="#000"/>
<text x="245.9" y="551.9" font-size="4.6" text-anchor="middle" fill="#231f20" stroke="#231f20">-10<tspan font-size="3" dy="-1.8">3</tspan></text>
<text x="253.7" y="551.9" font-size="4.6" text-anchor="middle" fill="#231f20" stroke="#231f20">0</text>
<text x="261.3" y="551.9" font-size="4.6" text-anchor="middle" fill="#231f20" stroke="#231f20">10<tspan font-size="3" dy="-1.8">3</tspan></text>
<text x="272.9" y="551.9" font-size="4.6" text-anchor="middle" fill="#231f20" stroke="#231f20">10<tspan font-size="3" dy="-1.8">4</tspan></text>
<text x="282.9" y="551.9" font-size="4.6" text-anchor="middle" fill="#231f20" stroke="#231f20">10<tspan font-size="3" dy="-1.8">5</tspan></text>
<line x1="262.7" y1="522.3" x2="287.6" y2="522.3" stroke="#6b6b6b" stroke-width="0.8"/>
<line x1="262.7" y1="521.3" x2="262.7" y2="523.3" stroke="#6b6b6b" stroke-width="0.6"/>
<text x="278.7" y="519.7" font-size="5" text-anchor="middle" fill="#231f20" stroke="#231f20">2.67</text>
<path d="M314.2 544.1 L314.8 524.3 L315.2 507.27 L315.8 524.3 L317.1 538.16 L319.1 542.12 L322.6 543.31 L329.6 543.11 L332.6 543.51 L334.6 544.1 Z" fill="#ececee" stroke="#a3a3ad" stroke-width="0.6"/>
<path d="M304.6 501.5H347.5V544.1" fill="none" stroke="#222" stroke-width="1"/>
<path d="M304.6 501.6V544.1H347.9" fill="none" stroke="#222" stroke-width="0.9" stroke-dasharray="0.9 0.5"/>
<text x="301" y="545.7" font-size="4.5" text-anchor="end" fill="#231f20" stroke="#231f20">0</text>
<text x="301" y="537.78" font-size="4.5" text-anchor="end" fill="#231f20" stroke="#231f20">20</text>
<text x="301" y="529.86" font-size="4.5" text-anchor="end" fill="#231f20" stroke="#231f20">40</text>
<text x="301" y="521.94" font-size="4.5" text-anchor="end" fill="#231f20" stroke="#231f20">60</text>
<text x="301" y="514.02" font-size="4.5" text-anchor="end" fill="#231f20" stroke="#231f20">80</text>
<text x="301" y="506.1" font-size="4.5" text-anchor="end" fill="#231f20" stroke="#231f20">100</text>
<path d="M302.6 544.1H304.6M303.6 542.12H304.6M303.6 540.14H304.6M303.6 538.16H304.6M302.6 536.18H304.6M303.6 534.2H304.6M303.6 532.22H304.6M303.6 530.24H304.6M302.6 528.26H304.6M303.6 526.28H304.6M303.6 524.3H304.6M303.6 522.32H304.6M302.6 520.34H304.6M303.6 518.36H304.6M303.6 516.38H304.6M303.6 514.4H304.6M302.6 512.42H304.6M303.6 510.44H304.6M303.6 508.46H304.6M303.6 506.48H304.6M302.6 504.5H304.6M308.1 544.1V545.9M314 544.1V545.9M321.8 544.1V545.9M333 544.1V545.9M343.4 544.1V545.9M325.17 544.1V545.1M327.14 544.1V545.1M328.54 544.1V545.1M329.63 544.1V545.1M330.52 544.1V545.1M331.27 544.1V545.1M331.91 544.1V545.1M332.49 544.1V545.1M336.13 544.1V545.1M337.96 544.1V545.1M339.26 544.1V545.1M340.27 544.1V545.1M341.09 544.1V545.1M341.79 544.1V545.1M342.39 544.1V545.1M342.92 544.1V545.1M309.1 544.1V545.1M315.3 544.1V545.1M310.1 544.1V545.1M316.6 544.1V545.1M311.1 544.1V545.1M317.9 544.1V545.1M312.1 544.1V545.1M319.2 544.1V545.1M313.1 544.1V545.1M320.5 544.1V545.1" stroke="#222" stroke-width="0.6" fill="none"/>
<rect x="313.2" y="544.5" width="1.7" height="1.4" fill="#000"/>
<text x="306.2" y="551.9" font-size="4.6" text-anchor="middle" fill="#231f20" stroke="#231f20">-10<tspan font-size="3" dy="-1.8">3</tspan></text>
<text x="314" y="551.9" font-size="4.6" text-anchor="middle" fill="#231f20" stroke="#231f20">0</text>
<text x="321.6" y="551.9" font-size="4.6" text-anchor="middle" fill="#231f20" stroke="#231f20">10<tspan font-size="3" dy="-1.8">3</tspan></text>
<text x="333.2" y="551.9" font-size="4.6" text-anchor="middle" fill="#231f20" stroke="#231f20">10<tspan font-size="3" dy="-1.8">4</tspan></text>
<text x="343.2" y="551.9" font-size="4.6" text-anchor="middle" fill="#231f20" stroke="#231f20">10<tspan font-size="3" dy="-1.8">5</tspan></text>
<line x1="323" y1="522.3" x2="347.9" y2="522.3" stroke="#6b6b6b" stroke-width="0.8"/>
<line x1="323" y1="521.3" x2="323" y2="523.3" stroke="#6b6b6b" stroke-width="0.6"/>
<text x="339" y="519.7" font-size="5" text-anchor="middle" fill="#231f20" stroke="#231f20">12.3</text>
<path d="M374.5 544.1 L375.2 524.3 L375.6 505.69 L376.3 524.3 L377.5 538.16 L379 542.52 L380.5 544.1 Z" fill="#ececee" stroke="#a3a3ad" stroke-width="0.6"/>
<path d="M365 501.5H408.5V544.1" fill="none" stroke="#222" stroke-width="1"/>
<path d="M365 501.6V544.1H408.3" fill="none" stroke="#222" stroke-width="0.9" stroke-dasharray="0.9 0.5"/>
<text x="361.4" y="545.7" font-size="4.5" text-anchor="end" fill="#231f20" stroke="#231f20">0</text>
<text x="361.4" y="537.78" font-size="4.5" text-anchor="end" fill="#231f20" stroke="#231f20">20</text>
<text x="361.4" y="529.86" font-size="4.5" text-anchor="end" fill="#231f20" stroke="#231f20">40</text>
<text x="361.4" y="521.94" font-size="4.5" text-anchor="end" fill="#231f20" stroke="#231f20">60</text>
<text x="361.4" y="514.02" font-size="4.5" text-anchor="end" fill="#231f20" stroke="#231f20">80</text>
<text x="361.4" y="506.1" font-size="4.5" text-anchor="end" fill="#231f20" stroke="#231f20">100</text>
<path d="M363 544.1H365M364 542.12H365M364 540.14H365M364 538.16H365M363 536.18H365M364 534.2H365M364 532.22H365M364 530.24H365M363 528.26H365M364 526.28H365M364 524.3H365M364 522.32H365M363 520.34H365M364 518.36H365M364 516.38H365M364 514.4H365M363 512.42H365M364 510.44H365M364 508.46H365M364 506.48H365M363 504.5H365M368.5 544.1V545.9M374.4 544.1V545.9M382.2 544.1V545.9M393.4 544.1V545.9M403.8 544.1V545.9M385.57 544.1V545.1M387.54 544.1V545.1M388.94 544.1V545.1M390.03 544.1V545.1M390.92 544.1V545.1M391.67 544.1V545.1M392.31 544.1V545.1M392.89 544.1V545.1M396.53 544.1V545.1M398.36 544.1V545.1M399.66 544.1V545.1M400.67 544.1V545.1M401.49 544.1V545.1M402.19 544.1V545.1M402.79 544.1V545.1M403.32 544.1V545.1M369.5 544.1V545.1M375.7 544.1V545.1M370.5 544.1V545.1M377 544.1V545.1M371.5 544.1V545.1M378.3 544.1V545.1M372.5 544.1V545.1M379.6 544.1V545.1M373.5 544.1V545.1M380.9 544.1V545.1" stroke="#222" stroke-width="0.6" fill="none"/>
<rect x="373.6" y="544.5" width="1.7" height="1.4" fill="#000"/>
<text x="366.6" y="551.9" font-size="4.6" text-anchor="middle" fill="#231f20" stroke="#231f20">-10<tspan font-size="3" dy="-1.8">3</tspan></text>
<text x="374.4" y="551.9" font-size="4.6" text-anchor="middle" fill="#231f20" stroke="#231f20">0</text>
<text x="382" y="551.9" font-size="4.6" text-anchor="middle" fill="#231f20" stroke="#231f20">10<tspan font-size="3" dy="-1.8">3</tspan></text>
<text x="393.6" y="551.9" font-size="4.6" text-anchor="middle" fill="#231f20" stroke="#231f20">10<tspan font-size="3" dy="-1.8">4</tspan></text>
<text x="403.6" y="551.9" font-size="4.6" text-anchor="middle" fill="#231f20" stroke="#231f20">10<tspan font-size="3" dy="-1.8">5</tspan></text>
<line x1="383.4" y1="522.3" x2="408.3" y2="522.3" stroke="#6b6b6b" stroke-width="0.8"/>
<line x1="383.4" y1="521.3" x2="383.4" y2="523.3" stroke="#6b6b6b" stroke-width="0.6"/>
<text x="399.4" y="519.7" font-size="5" text-anchor="middle" fill="#231f20" stroke="#231f20">3.61</text>
<path d="M435.6 544.1 L436.1 520.34 L436.6 506.48 L437.7 522.32 L438.9 533.01 L440.4 539.35 L442.4 540.93 L445.4 540.93 L448.4 539.74 L450.9 538.95 L452.9 540.14 L455.4 542.91 L456.9 544.1 Z" fill="#ececee" stroke="#a3a3ad" stroke-width="0.6"/>
<path d="M425.4 501.5H468.5V544.1" fill="none" stroke="#222" stroke-width="1"/>
<path d="M425.4 501.6V544.1H468.7" fill="none" stroke="#222" stroke-width="0.9" stroke-dasharray="0.9 0.5"/>
<text x="421.8" y="545.7" font-size="4.5" text-anchor="end" fill="#231f20" stroke="#231f20">0</text>
<text x="421.8" y="537.78" font-size="4.5" text-anchor="end" fill="#231f20" stroke="#231f20">20</text>
<text x="421.8" y="529.86" font-size="4.5" text-anchor="end" fill="#231f20" stroke="#231f20">40</text>
<text x="421.8" y="521.94" font-size="4.5" text-anchor="end" fill="#231f20" stroke="#231f20">60</text>
<text x="421.8" y="514.02" font-size="4.5" text-anchor="end" fill="#231f20" stroke="#231f20">80</text>
<text x="421.8" y="506.1" font-size="4.5" text-anchor="end" fill="#231f20" stroke="#231f20">100</text>
<path d="M423.4 544.1H425.4M424.4 542.12H425.4M424.4 540.14H425.4M424.4 538.16H425.4M423.4 536.18H425.4M424.4 534.2H425.4M424.4 532.22H425.4M424.4 530.24H425.4M423.4 528.26H425.4M424.4 526.28H425.4M424.4 524.3H425.4M424.4 522.32H425.4M423.4 520.34H425.4M424.4 518.36H425.4M424.4 516.38H425.4M424.4 514.4H425.4M423.4 512.42H425.4M424.4 510.44H425.4M424.4 508.46H425.4M424.4 506.48H425.4M423.4 504.5H425.4M428.9 544.1V545.9M434.8 544.1V545.9M442.6 544.1V545.9M453.8 544.1V545.9M464.2 544.1V545.9M445.97 544.1V545.1M447.94 544.1V545.1M449.34 544.1V545.1M450.43 544.1V545.1M451.32 544.1V545.1M452.07 544.1V545.1M452.71 544.1V545.1M453.29 544.1V545.1M456.93 544.1V545.1M458.76 544.1V545.1M460.06 544.1V545.1M461.07 544.1V545.1M461.89 544.1V545.1M462.59 544.1V545.1M463.19 544.1V545.1M463.72 544.1V545.1M429.9 544.1V545.1M436.1 544.1V545.1M430.9 544.1V545.1M437.4 544.1V545.1M431.9 544.1V545.1M438.7 544.1V545.1M432.9 544.1V545.1M440 544.1V545.1M433.9 544.1V545.1M441.3 544.1V545.1" stroke="#222" stroke-width="0.6" fill="none"/>
<rect x="434" y="544.5" width="1.7" height="1.4" fill="#000"/>
<text x="427" y="551.9" font-size="4.6" text-anchor="middle" fill="#231f20" stroke="#231f20">-10<tspan font-size="3" dy="-1.8">3</tspan></text>
<text x="434.8" y="551.9" font-size="4.6" text-anchor="middle" fill="#231f20" stroke="#231f20">0</text>
<text x="442.4" y="551.9" font-size="4.6" text-anchor="middle" fill="#231f20" stroke="#231f20">10<tspan font-size="3" dy="-1.8">3</tspan></text>
<text x="454" y="551.9" font-size="4.6" text-anchor="middle" fill="#231f20" stroke="#231f20">10<tspan font-size="3" dy="-1.8">4</tspan></text>
<text x="464" y="551.9" font-size="4.6" text-anchor="middle" fill="#231f20" stroke="#231f20">10<tspan font-size="3" dy="-1.8">5</tspan></text>
<line x1="443.3" y1="522.3" x2="468.7" y2="522.3" stroke="#6b6b6b" stroke-width="0.8"/>
<line x1="443.3" y1="521.3" x2="443.3" y2="523.3" stroke="#6b6b6b" stroke-width="0.6"/>
<text x="459.8" y="519.7" font-size="5" text-anchor="middle" fill="#231f20" stroke="#231f20">30.8</text>
<text x="472" y="410.4" font-size="7.5" fill="#231f20" stroke="#231f20" textLength="22" lengthAdjust="spacingAndGlyphs">MM.1S</text>
<text x="472" y="468.1" font-size="7.5" fill="#231f20" stroke="#231f20" textLength="19" lengthAdjust="spacingAndGlyphs">ARP-1</text>
<text x="472" y="525.8" font-size="7.5" fill="#231f20" stroke="#231f20" textLength="37.8" lengthAdjust="spacingAndGlyphs">KMS-11/Cfz</text>
<text x="252" y="559.6" font-size="6.8" fill="#231f20" stroke="#231f20" textLength="25.3" lengthAdjust="spacingAndGlyphs">Annexin V</text>
<line x1="280.8" y1="557.9" x2="463.5" y2="557.9" stroke="#4a4a4a" stroke-width="1.3"/>
<path d="M467 557.9 L462.5 555.8 L462.5 560.0 Z" fill="#4a4a4a" stroke="none" stroke-width="1"/>
<line x1="60.9" y1="589.5" x2="60.9" y2="701.1" stroke="#231f20" stroke-width="1.7"/>
<line x1="57.5" y1="700.5" x2="60.9" y2="700.5" stroke="#231f20" stroke-width="1"/>
<text x="54.4" y="703.2" font-size="7.6" text-anchor="end" fill="#231f20" stroke="#231f20">0</text>
<line x1="57.5" y1="668.5" x2="60.9" y2="668.5" stroke="#231f20" stroke-width="1"/>
<text x="54.4" y="671.45" font-size="7.6" text-anchor="end" fill="#231f20" stroke="#231f20">20</text>
<line x1="57.5" y1="637.5" x2="60.9" y2="637.5" stroke="#231f20" stroke-width="1"/>
<text x="54.4" y="639.7" font-size="7.6" text-anchor="end" fill="#231f20" stroke="#231f20">40</text>
<line x1="57.5" y1="605.5" x2="60.9" y2="605.5" stroke="#231f20" stroke-width="1"/>
<text x="54.4" y="607.95" font-size="7.6" text-anchor="end" fill="#231f20" stroke="#231f20">60</text>
<line x1="60.9" y1="700.6" x2="208.5" y2="700.6" stroke="#231f20" stroke-width="1.7"/>
<line x1="84.5" y1="700.6" x2="84.5" y2="703" stroke="#231f20" stroke-width="1"/>
<line x1="134.5" y1="700.6" x2="134.5" y2="703" stroke="#231f20" stroke-width="1"/>
<line x1="184.5" y1="700.6" x2="184.5" y2="703" stroke="#231f20" stroke-width="1"/>
<line x1="67.5" y1="693" x2="67.5" y2="695.8" stroke="#552868" stroke-width="1"/>
<line x1="65.8" y1="693.5" x2="70" y2="693.5" stroke="#552868" stroke-width="1"/>
<rect x="65" y="695.8" width="5.8" height="4.8" fill="#552868"/>
<line x1="78.5" y1="690.8" x2="78.5" y2="693.3" stroke="#69aa44" stroke-width="1"/>
<line x1="76.55" y1="690.5" x2="80.75" y2="690.5" stroke="#69aa44" stroke-width="1"/>
<rect x="75.5" y="693.3" width="6.3" height="7.3" fill="#69aa44"/>
<line x1="89.5" y1="642.5" x2="89.5" y2="647.5" stroke="#2e4a80" stroke-width="1"/>
<line x1="87.55" y1="642.5" x2="91.75" y2="642.5" stroke="#2e4a80" stroke-width="1"/>
<rect x="86.3" y="647.5" width="6.7" height="53.1" fill="#2e4a80"/>
<line x1="100.5" y1="617.5" x2="100.5" y2="620.8" stroke="#a6042e" stroke-width="1"/>
<line x1="98.3" y1="617.5" x2="102.5" y2="617.5" stroke="#a6042e" stroke-width="1"/>
<rect x="97" y="620.8" width="6.8" height="79.8" fill="#a6042e"/>
<line x1="118.5" y1="677.4" x2="118.5" y2="686.6" stroke="#552868" stroke-width="1"/>
<line x1="116" y1="677.5" x2="120.2" y2="677.5" stroke="#552868" stroke-width="1"/>
<rect x="115" y="686.6" width="6.2" height="14" fill="#552868"/>
<line x1="128.5" y1="677.4" x2="128.5" y2="684.5" stroke="#69aa44" stroke-width="1"/>
<line x1="126.75" y1="677.5" x2="130.95" y2="677.5" stroke="#69aa44" stroke-width="1"/>
<rect x="125.4" y="684.5" width="6.9" height="16.1" fill="#69aa44"/>
<line x1="139.5" y1="640.7" x2="139.5" y2="648.1" stroke="#2e4a80" stroke-width="1"/>
<line x1="137.6" y1="640.5" x2="141.8" y2="640.5" stroke="#2e4a80" stroke-width="1"/>
<rect x="136.2" y="648.1" width="7" height="52.5" fill="#2e4a80"/>
<line x1="150.5" y1="604.9" x2="150.5" y2="613" stroke="#a6042e" stroke-width="1"/>
<line x1="148.65" y1="604.5" x2="152.85" y2="604.5" stroke="#a6042e" stroke-width="1"/>
<rect x="147.3" y="613" width="6.9" height="87.6" fill="#a6042e"/>
<line x1="168.5" y1="695.4" x2="168.5" y2="697.7" stroke="#552868" stroke-width="1"/>
<line x1="166.55" y1="695.5" x2="170.75" y2="695.5" stroke="#552868" stroke-width="1"/>
<rect x="165.8" y="697.7" width="5.7" height="2.9" fill="#552868"/>
<line x1="179.5" y1="673" x2="179.5" y2="677" stroke="#69aa44" stroke-width="1"/>
<line x1="177.3" y1="673.5" x2="181.5" y2="673.5" stroke="#69aa44" stroke-width="1"/>
<rect x="176.2" y="677" width="6.4" height="23.6" fill="#69aa44"/>
<line x1="190.5" y1="687.3" x2="190.5" y2="693" stroke="#2e4a80" stroke-width="1"/>
<line x1="188.15" y1="687.5" x2="192.35" y2="687.5" stroke="#2e4a80" stroke-width="1"/>
<rect x="187" y="693" width="6.5" height="7.6" fill="#2e4a80"/>
<line x1="201.5" y1="640.5" x2="201.5" y2="653.4" stroke="#a6042e" stroke-width="1"/>
<line x1="198.95" y1="640.5" x2="203.15" y2="640.5" stroke="#a6042e" stroke-width="1"/>
<rect x="197.6" y="653.4" width="6.9" height="47.2" fill="#a6042e"/>
<line x1="67" y1="601.8" x2="100" y2="601.8" stroke="#444" stroke-width="1.6"/>
<text x="83.5" y="602.4" font-size="7" text-anchor="middle" fill="#231f20" stroke="#231f20" font-weight="bold">**</text>
<line x1="87.5" y1="615" x2="101.3" y2="615" stroke="#444" stroke-width="1.6"/>
<text x="94.4" y="615.6" font-size="7" text-anchor="middle" fill="#231f20" stroke="#231f20" font-weight="bold">*</text>
<line x1="63.8" y1="640" x2="90.5" y2="640" stroke="#444" stroke-width="1.6"/>
<text x="77.15" y="640.6" font-size="7" text-anchor="middle" fill="#231f20" stroke="#231f20" font-weight="bold">**</text>
<line x1="66.3" y1="688" x2="80.5" y2="688" stroke="#444" stroke-width="1.6"/>
<text x="73.4" y="686.7" font-size="6.8" text-anchor="middle" fill="#231f20" stroke="#231f20" textLength="10" lengthAdjust="spacingAndGlyphs">n.s.</text>
<line x1="125.4" y1="588.1" x2="153.1" y2="588.1" stroke="#444" stroke-width="1.6"/>
<text x="139.25" y="588.7" font-size="7" text-anchor="middle" fill="#231f20" stroke="#231f20" font-weight="bold">*</text>
<line x1="137.4" y1="601.2" x2="150.8" y2="601.2" stroke="#444" stroke-width="1.6"/>
<text x="144.1" y="601.8" font-size="7" text-anchor="middle" fill="#231f20" stroke="#231f20" font-weight="bold">*</text>
<line x1="113.2" y1="635.8" x2="141" y2="635.8" stroke="#444" stroke-width="1.6"/>
<text x="127.1" y="636.4" font-size="7" text-anchor="middle" fill="#231f20" stroke="#231f20" font-weight="bold">*</text>
<line x1="114.3" y1="674.2" x2="133.5" y2="674.2" stroke="#444" stroke-width="1.6"/>
<text x="123.9" y="672.9" font-size="6.8" text-anchor="middle" fill="#231f20" stroke="#231f20" textLength="10" lengthAdjust="spacingAndGlyphs">n.s.</text>
<line x1="173.8" y1="623.2" x2="201.5" y2="623.2" stroke="#444" stroke-width="1.6"/>
<text x="187.65" y="623.8" font-size="7" text-anchor="middle" fill="#231f20" stroke="#231f20" font-weight="bold">*</text>
<line x1="186.5" y1="636" x2="200" y2="636" stroke="#444" stroke-width="1.6"/>
<text x="193.25" y="636.6" font-size="7" text-anchor="middle" fill="#231f20" stroke="#231f20" font-weight="bold">*</text>
<line x1="164.2" y1="656.2" x2="191.9" y2="656.2" stroke="#444" stroke-width="1.6"/>
<text x="178.05" y="654.9" font-size="6.8" text-anchor="middle" fill="#231f20" stroke="#231f20" textLength="10" lengthAdjust="spacingAndGlyphs">n.s.</text>
<line x1="165.8" y1="668.2" x2="179.2" y2="668.2" stroke="#444" stroke-width="1.6"/>
<text x="172.5" y="668.8" font-size="7" text-anchor="middle" fill="#231f20" stroke="#231f20" font-weight="bold">*</text>
<rect x="211.5" y="590.4" width="7.4" height="4.6" fill="#552868"/>
<text x="222" y="595" font-size="6.4" fill="#231f20" stroke="#231f20" textLength="18.2" lengthAdjust="spacingAndGlyphs">DMSO</text>
<rect x="211.5" y="600.1" width="7.4" height="4.6" fill="#69aa44"/>
<text x="222" y="604.7" font-size="6.4" fill="#231f20" stroke="#231f20" textLength="23.5" lengthAdjust="spacingAndGlyphs">ATN-224</text>
<rect x="211.5" y="609.6" width="7.4" height="4.6" fill="#2e4a80"/>
<text x="222" y="614.2" font-size="6.4" fill="#231f20" stroke="#231f20" textLength="8.8" lengthAdjust="spacingAndGlyphs">Cfz</text>
<rect x="211.5" y="619.2" width="7.4" height="4.6" fill="#a6042e"/>
<text x="222" y="623.8" font-size="6.4" fill="#231f20" stroke="#231f20" textLength="24.3" lengthAdjust="spacingAndGlyphs">ATN+Cfz</text>
<text x="36.6" y="645.1" font-size="9" text-anchor="middle" fill="#231f20" stroke="#231f20" transform="rotate(-90 36.6 645.1)" textLength="38.5" lengthAdjust="spacingAndGlyphs">% apoptosis</text>
<text x="84.1" y="714.6" font-size="7.8" text-anchor="middle" fill="#231f20" stroke="#231f20" textLength="26.2" lengthAdjust="spacingAndGlyphs">MM.1S</text>
<text x="134.2" y="714.6" font-size="7.8" text-anchor="middle" fill="#231f20" stroke="#231f20" textLength="24.4" lengthAdjust="spacingAndGlyphs">ARP-1</text>
<text x="186.5" y="714.6" font-size="7.8" text-anchor="middle" fill="#231f20" stroke="#231f20" textLength="47.7" lengthAdjust="spacingAndGlyphs">KMS-11/Cfz</text>
<rect x="0.6" y="0.6" width="518.6" height="722.7" fill="none" stroke="#000" stroke-width="1.3"/>
</svg></body></html>
